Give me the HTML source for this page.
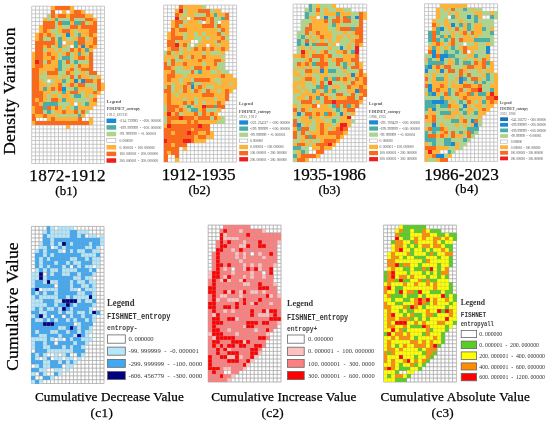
<!DOCTYPE html>
<html><head><meta charset="utf-8"><style>
html,body{margin:0;padding:0;background:#fff;}
body{width:550px;height:422px;overflow:hidden;}
svg{display:block;filter:blur(0.35px);}
</style></head><body>
<svg width="550" height="422" viewBox="0 0 550 422">
<rect width="550" height="422" fill="#fff"/>
<path d="M31.70 6.20V163.50M35.53 6.20V163.50M39.36 6.20V163.50M43.19 6.20V163.50M47.03 6.20V163.50M50.86 6.20V163.50M54.69 6.20V163.50M58.52 6.20V163.50M62.35 6.20V163.50M66.18 6.20V163.50M70.02 6.20V163.50M73.85 6.20V163.50M77.68 6.20V163.50M81.51 6.20V163.50M85.34 6.20V163.50M89.17 6.20V163.50M93.01 6.20V163.50M96.84 6.20V163.50M100.67 6.20V163.50M104.50 6.20V163.50M31.70 6.20H104.50M31.70 10.04H104.50M31.70 13.87H104.50M31.70 17.71H104.50M31.70 21.55H104.50M31.70 25.38H104.50M31.70 29.22H104.50M31.70 33.06H104.50M31.70 36.89H104.50M31.70 40.73H104.50M31.70 44.57H104.50M31.70 48.40H104.50M31.70 52.24H104.50M31.70 56.08H104.50M31.70 59.91H104.50M31.70 63.75H104.50M31.70 67.59H104.50M31.70 71.42H104.50M31.70 75.26H104.50M31.70 79.10H104.50M31.70 82.93H104.50M31.70 86.77H104.50M31.70 90.60H104.50M31.70 94.44H104.50M31.70 98.28H104.50M31.70 102.11H104.50M31.70 105.95H104.50M31.70 109.79H104.50M31.70 113.62H104.50M31.70 117.46H104.50M31.70 121.30H104.50M31.70 125.13H104.50M31.70 128.97H104.50M31.70 132.81H104.50M31.70 136.64H104.50M31.70 140.48H104.50M31.70 144.32H104.50M31.70 148.15H104.50M31.70 151.99H104.50M31.70 155.83H104.50M31.70 159.66H104.50M31.70 163.50H104.50" stroke="#b8b8b8" stroke-width="0.75" fill="none"/>
<g shape-rendering="crispEdges">
<rect x="50.8" y="6.1" width="4.0" height="4.0" fill="#fdb23a"/>
<rect x="54.6" y="6.1" width="15.5" height="4.0" fill="#f86a1e"/>
<rect x="69.9" y="6.1" width="4.0" height="4.0" fill="#fdb23a"/>
<rect x="50.8" y="9.9" width="4.0" height="4.0" fill="#f86a1e"/>
<rect x="62.3" y="9.9" width="4.0" height="4.0" fill="#fdb23a"/>
<rect x="69.9" y="9.9" width="4.0" height="4.0" fill="#fdb23a"/>
<rect x="73.7" y="9.9" width="7.9" height="4.0" fill="#f86a1e"/>
<rect x="81.4" y="9.9" width="4.0" height="4.0" fill="#fdb23a"/>
<rect x="46.9" y="13.8" width="4.0" height="4.0" fill="#aed38e"/>
<rect x="50.8" y="13.8" width="4.0" height="4.0" fill="#f86a1e"/>
<rect x="54.6" y="13.8" width="4.0" height="4.0" fill="#fdb23a"/>
<rect x="58.4" y="13.8" width="7.9" height="4.0" fill="#f86a1e"/>
<rect x="66.1" y="13.8" width="4.0" height="4.0" fill="#fdb23a"/>
<rect x="69.9" y="13.8" width="15.5" height="4.0" fill="#f86a1e"/>
<rect x="85.2" y="13.8" width="7.9" height="4.0" fill="#fdb23a"/>
<rect x="43.1" y="17.6" width="4.0" height="4.0" fill="#fdb23a"/>
<rect x="46.9" y="17.6" width="4.0" height="4.0" fill="#aed38e"/>
<rect x="50.8" y="17.6" width="4.0" height="4.0" fill="#fdb23a"/>
<rect x="54.6" y="17.6" width="4.0" height="4.0" fill="#4aada8"/>
<rect x="58.4" y="17.6" width="11.7" height="4.0" fill="#aed38e"/>
<rect x="69.9" y="17.6" width="4.0" height="4.0" fill="#f86a1e"/>
<rect x="73.7" y="17.6" width="11.7" height="4.0" fill="#aed38e"/>
<rect x="85.2" y="17.6" width="7.9" height="4.0" fill="#f86a1e"/>
<rect x="92.9" y="17.6" width="4.0" height="4.0" fill="#fdb23a"/>
<rect x="43.1" y="21.4" width="11.7" height="4.0" fill="#f86a1e"/>
<rect x="54.6" y="21.4" width="4.0" height="4.0" fill="#aed38e"/>
<rect x="58.4" y="21.4" width="4.0" height="4.0" fill="#f86a1e"/>
<rect x="62.3" y="21.4" width="7.9" height="4.0" fill="#4aada8"/>
<rect x="69.9" y="21.4" width="4.0" height="4.0" fill="#fdb23a"/>
<rect x="73.7" y="21.4" width="7.9" height="4.0" fill="#4aada8"/>
<rect x="81.4" y="21.4" width="4.0" height="4.0" fill="#f86a1e"/>
<rect x="85.2" y="21.4" width="4.0" height="4.0" fill="#aed38e"/>
<rect x="89.1" y="21.4" width="4.0" height="4.0" fill="#fdb23a"/>
<rect x="92.9" y="21.4" width="4.0" height="4.0" fill="#f86a1e"/>
<rect x="39.3" y="25.3" width="4.0" height="4.0" fill="#fdb23a"/>
<rect x="43.1" y="25.3" width="11.7" height="4.0" fill="#f86a1e"/>
<rect x="54.6" y="25.3" width="4.0" height="4.0" fill="#aed38e"/>
<rect x="58.4" y="25.3" width="4.0" height="4.0" fill="#fdb23a"/>
<rect x="62.3" y="25.3" width="7.9" height="4.0" fill="#aed38e"/>
<rect x="69.9" y="25.3" width="7.9" height="4.0" fill="#f86a1e"/>
<rect x="77.6" y="25.3" width="4.0" height="4.0" fill="#fdb23a"/>
<rect x="81.4" y="25.3" width="15.5" height="4.0" fill="#f86a1e"/>
<rect x="39.3" y="29.1" width="4.0" height="4.0" fill="#fdb23a"/>
<rect x="43.1" y="29.1" width="4.0" height="4.0" fill="#f86a1e"/>
<rect x="46.9" y="29.1" width="4.0" height="4.0" fill="#fdb23a"/>
<rect x="50.8" y="29.1" width="7.9" height="4.0" fill="#aed38e"/>
<rect x="58.4" y="29.1" width="4.0" height="4.0" fill="#fdb23a"/>
<rect x="62.3" y="29.1" width="7.9" height="4.0" fill="#f86a1e"/>
<rect x="69.9" y="29.1" width="4.0" height="4.0" fill="#fdb23a"/>
<rect x="73.7" y="29.1" width="4.0" height="4.0" fill="#aed38e"/>
<rect x="77.6" y="29.1" width="11.7" height="4.0" fill="#fdb23a"/>
<rect x="89.1" y="29.1" width="7.9" height="4.0" fill="#f86a1e"/>
<rect x="35.4" y="33.0" width="4.0" height="4.0" fill="#fdb23a"/>
<rect x="39.3" y="33.0" width="4.0" height="4.0" fill="#f86a1e"/>
<rect x="43.1" y="33.0" width="4.0" height="4.0" fill="#fdb23a"/>
<rect x="46.9" y="33.0" width="4.0" height="4.0" fill="#f86a1e"/>
<rect x="50.8" y="33.0" width="4.0" height="4.0" fill="#fdb23a"/>
<rect x="54.6" y="33.0" width="7.9" height="4.0" fill="#aed38e"/>
<rect x="62.3" y="33.0" width="4.0" height="4.0" fill="#fdb23a"/>
<rect x="66.1" y="33.0" width="4.0" height="4.0" fill="#1a8ad4"/>
<rect x="69.9" y="33.0" width="4.0" height="4.0" fill="#fdb23a"/>
<rect x="73.7" y="33.0" width="4.0" height="4.0" fill="#aed38e"/>
<rect x="77.6" y="33.0" width="4.0" height="4.0" fill="#4aada8"/>
<rect x="81.4" y="33.0" width="7.9" height="4.0" fill="#fdb23a"/>
<rect x="89.1" y="33.0" width="4.0" height="4.0" fill="#f86a1e"/>
<rect x="92.9" y="33.0" width="4.0" height="4.0" fill="#fdb23a"/>
<rect x="35.4" y="36.8" width="4.0" height="4.0" fill="#fdb23a"/>
<rect x="39.3" y="36.8" width="4.0" height="4.0" fill="#f86a1e"/>
<rect x="43.1" y="36.8" width="7.9" height="4.0" fill="#aed38e"/>
<rect x="50.8" y="36.8" width="4.0" height="4.0" fill="#f86a1e"/>
<rect x="54.6" y="36.8" width="4.0" height="4.0" fill="#aed38e"/>
<rect x="58.4" y="36.8" width="4.0" height="4.0" fill="#4aada8"/>
<rect x="62.3" y="36.8" width="4.0" height="4.0" fill="#fdb23a"/>
<rect x="66.1" y="36.8" width="7.9" height="4.0" fill="#aed38e"/>
<rect x="73.7" y="36.8" width="4.0" height="4.0" fill="#fdb23a"/>
<rect x="77.6" y="36.8" width="7.9" height="4.0" fill="#f86a1e"/>
<rect x="85.2" y="36.8" width="4.0" height="4.0" fill="#aed38e"/>
<rect x="89.1" y="36.8" width="4.0" height="4.0" fill="#fdb23a"/>
<rect x="92.9" y="36.8" width="4.0" height="4.0" fill="#f86a1e"/>
<rect x="35.4" y="40.6" width="19.4" height="4.0" fill="#f86a1e"/>
<rect x="54.6" y="40.6" width="4.0" height="4.0" fill="#fdb23a"/>
<rect x="58.4" y="40.6" width="4.0" height="4.0" fill="#4aada8"/>
<rect x="66.1" y="40.6" width="7.9" height="4.0" fill="#fdb23a"/>
<rect x="73.7" y="40.6" width="4.0" height="4.0" fill="#4aada8"/>
<rect x="77.6" y="40.6" width="7.9" height="4.0" fill="#f86a1e"/>
<rect x="85.2" y="40.6" width="7.9" height="4.0" fill="#fdb23a"/>
<rect x="92.9" y="40.6" width="4.0" height="4.0" fill="#f86a1e"/>
<rect x="35.4" y="44.5" width="7.9" height="4.0" fill="#f86a1e"/>
<rect x="43.1" y="44.5" width="4.0" height="4.0" fill="#fdb23a"/>
<rect x="46.9" y="44.5" width="4.0" height="4.0" fill="#f86a1e"/>
<rect x="50.8" y="44.5" width="4.0" height="4.0" fill="#aed38e"/>
<rect x="54.6" y="44.5" width="4.0" height="4.0" fill="#fdb23a"/>
<rect x="58.4" y="44.5" width="4.0" height="4.0" fill="#4aada8"/>
<rect x="62.3" y="44.5" width="4.0" height="4.0" fill="#fdb23a"/>
<rect x="66.1" y="44.5" width="4.0" height="4.0" fill="#aed38e"/>
<rect x="73.7" y="44.5" width="4.0" height="4.0" fill="#4aada8"/>
<rect x="77.6" y="44.5" width="4.0" height="4.0" fill="#fdb23a"/>
<rect x="81.4" y="44.5" width="4.0" height="4.0" fill="#1a8ad4"/>
<rect x="85.2" y="44.5" width="4.0" height="4.0" fill="#fdb23a"/>
<rect x="89.1" y="44.5" width="4.0" height="4.0" fill="#f86a1e"/>
<rect x="92.9" y="44.5" width="4.0" height="4.0" fill="#fdb23a"/>
<rect x="35.4" y="48.3" width="7.9" height="4.0" fill="#f86a1e"/>
<rect x="43.1" y="48.3" width="4.0" height="4.0" fill="#aed38e"/>
<rect x="46.9" y="48.3" width="7.9" height="4.0" fill="#fdb23a"/>
<rect x="54.6" y="48.3" width="4.0" height="4.0" fill="#aed38e"/>
<rect x="58.4" y="48.3" width="4.0" height="4.0" fill="#fdb23a"/>
<rect x="62.3" y="48.3" width="7.9" height="4.0" fill="#aed38e"/>
<rect x="69.9" y="48.3" width="4.0" height="4.0" fill="#f86a1e"/>
<rect x="73.7" y="48.3" width="4.0" height="4.0" fill="#fdb23a"/>
<rect x="77.6" y="48.3" width="4.0" height="4.0" fill="#f86a1e"/>
<rect x="81.4" y="48.3" width="4.0" height="4.0" fill="#fdb23a"/>
<rect x="85.2" y="48.3" width="4.0" height="4.0" fill="#4aada8"/>
<rect x="89.1" y="48.3" width="4.0" height="4.0" fill="#fdb23a"/>
<rect x="31.6" y="52.1" width="4.0" height="4.0" fill="#fdb23a"/>
<rect x="35.4" y="52.1" width="7.9" height="4.0" fill="#f86a1e"/>
<rect x="43.1" y="52.1" width="4.0" height="4.0" fill="#fdb23a"/>
<rect x="46.9" y="52.1" width="4.0" height="4.0" fill="#f86a1e"/>
<rect x="50.8" y="52.1" width="7.9" height="4.0" fill="#fdb23a"/>
<rect x="58.4" y="52.1" width="4.0" height="4.0" fill="#aed38e"/>
<rect x="62.3" y="52.1" width="4.0" height="4.0" fill="#fdb23a"/>
<rect x="66.1" y="52.1" width="4.0" height="4.0" fill="#f86a1e"/>
<rect x="69.9" y="52.1" width="4.0" height="4.0" fill="#aed38e"/>
<rect x="73.7" y="52.1" width="4.0" height="4.0" fill="#fdb23a"/>
<rect x="77.6" y="52.1" width="4.0" height="4.0" fill="#4aada8"/>
<rect x="81.4" y="52.1" width="4.0" height="4.0" fill="#fdb23a"/>
<rect x="85.2" y="52.1" width="4.0" height="4.0" fill="#aed38e"/>
<rect x="89.1" y="52.1" width="4.0" height="4.0" fill="#f86a1e"/>
<rect x="31.6" y="56.0" width="4.0" height="4.0" fill="#fdb23a"/>
<rect x="35.4" y="56.0" width="7.9" height="4.0" fill="#f86a1e"/>
<rect x="43.1" y="56.0" width="7.9" height="4.0" fill="#fdb23a"/>
<rect x="50.8" y="56.0" width="4.0" height="4.0" fill="#f86a1e"/>
<rect x="54.6" y="56.0" width="4.0" height="4.0" fill="#fdb23a"/>
<rect x="58.4" y="56.0" width="4.0" height="4.0" fill="#aed38e"/>
<rect x="62.3" y="56.0" width="7.9" height="4.0" fill="#4aada8"/>
<rect x="69.9" y="56.0" width="4.0" height="4.0" fill="#aed38e"/>
<rect x="73.7" y="56.0" width="4.0" height="4.0" fill="#fdb23a"/>
<rect x="77.6" y="56.0" width="7.9" height="4.0" fill="#f86a1e"/>
<rect x="85.2" y="56.0" width="4.0" height="4.0" fill="#fdb23a"/>
<rect x="89.1" y="56.0" width="4.0" height="4.0" fill="#f86a1e"/>
<rect x="31.6" y="59.8" width="4.0" height="4.0" fill="#fdb23a"/>
<rect x="35.4" y="59.8" width="4.0" height="4.0" fill="#f01e1e"/>
<rect x="39.3" y="59.8" width="4.0" height="4.0" fill="#f86a1e"/>
<rect x="43.1" y="59.8" width="4.0" height="4.0" fill="#aed38e"/>
<rect x="46.9" y="59.8" width="4.0" height="4.0" fill="#f86a1e"/>
<rect x="50.8" y="59.8" width="7.9" height="4.0" fill="#fdb23a"/>
<rect x="58.4" y="59.8" width="4.0" height="4.0" fill="#4aada8"/>
<rect x="62.3" y="59.8" width="4.0" height="4.0" fill="#aed38e"/>
<rect x="66.1" y="59.8" width="4.0" height="4.0" fill="#f86a1e"/>
<rect x="69.9" y="59.8" width="4.0" height="4.0" fill="#aed38e"/>
<rect x="73.7" y="59.8" width="4.0" height="4.0" fill="#4aada8"/>
<rect x="77.6" y="59.8" width="11.7" height="4.0" fill="#aed38e"/>
<rect x="89.1" y="59.8" width="4.0" height="4.0" fill="#f86a1e"/>
<rect x="31.6" y="63.6" width="4.0" height="4.0" fill="#fdb23a"/>
<rect x="35.4" y="63.6" width="7.9" height="4.0" fill="#f86a1e"/>
<rect x="43.1" y="63.6" width="15.5" height="4.0" fill="#fdb23a"/>
<rect x="58.4" y="63.6" width="4.0" height="4.0" fill="#4aada8"/>
<rect x="62.3" y="63.6" width="7.9" height="4.0" fill="#aed38e"/>
<rect x="69.9" y="63.6" width="4.0" height="4.0" fill="#fdb23a"/>
<rect x="73.7" y="63.6" width="4.0" height="4.0" fill="#aed38e"/>
<rect x="77.6" y="63.6" width="4.0" height="4.0" fill="#f86a1e"/>
<rect x="81.4" y="63.6" width="7.9" height="4.0" fill="#fdb23a"/>
<rect x="89.1" y="63.6" width="4.0" height="4.0" fill="#f86a1e"/>
<rect x="31.6" y="67.5" width="7.9" height="4.0" fill="#f86a1e"/>
<rect x="39.3" y="67.5" width="15.5" height="4.0" fill="#fdb23a"/>
<rect x="54.6" y="67.5" width="4.0" height="4.0" fill="#f86a1e"/>
<rect x="58.4" y="67.5" width="4.0" height="4.0" fill="#4aada8"/>
<rect x="62.3" y="67.5" width="4.0" height="4.0" fill="#aed38e"/>
<rect x="66.1" y="67.5" width="4.0" height="4.0" fill="#fdb23a"/>
<rect x="69.9" y="67.5" width="4.0" height="4.0" fill="#f86a1e"/>
<rect x="73.7" y="67.5" width="4.0" height="4.0" fill="#aed38e"/>
<rect x="77.6" y="67.5" width="4.0" height="4.0" fill="#fdb23a"/>
<rect x="81.4" y="67.5" width="11.7" height="4.0" fill="#f86a1e"/>
<rect x="31.6" y="71.3" width="7.9" height="4.0" fill="#f86a1e"/>
<rect x="39.3" y="71.3" width="4.0" height="4.0" fill="#fdb23a"/>
<rect x="43.1" y="71.3" width="4.0" height="4.0" fill="#aed38e"/>
<rect x="46.9" y="71.3" width="11.7" height="4.0" fill="#f86a1e"/>
<rect x="58.4" y="71.3" width="7.9" height="4.0" fill="#aed38e"/>
<rect x="66.1" y="71.3" width="4.0" height="4.0" fill="#f86a1e"/>
<rect x="69.9" y="71.3" width="4.0" height="4.0" fill="#fdb23a"/>
<rect x="73.7" y="71.3" width="7.9" height="4.0" fill="#aed38e"/>
<rect x="81.4" y="71.3" width="4.0" height="4.0" fill="#fdb23a"/>
<rect x="85.2" y="71.3" width="4.0" height="4.0" fill="#aed38e"/>
<rect x="89.1" y="71.3" width="7.9" height="4.0" fill="#f86a1e"/>
<rect x="31.6" y="75.2" width="7.9" height="4.0" fill="#f86a1e"/>
<rect x="39.3" y="75.2" width="7.9" height="4.0" fill="#aed38e"/>
<rect x="46.9" y="75.2" width="11.7" height="4.0" fill="#fdb23a"/>
<rect x="58.4" y="75.2" width="4.0" height="4.0" fill="#aed38e"/>
<rect x="62.3" y="75.2" width="4.0" height="4.0" fill="#fdb23a"/>
<rect x="66.1" y="75.2" width="4.0" height="4.0" fill="#aed38e"/>
<rect x="69.9" y="75.2" width="4.0" height="4.0" fill="#f86a1e"/>
<rect x="73.7" y="75.2" width="4.0" height="4.0" fill="#aed38e"/>
<rect x="77.6" y="75.2" width="4.0" height="4.0" fill="#f86a1e"/>
<rect x="81.4" y="75.2" width="7.9" height="4.0" fill="#fdb23a"/>
<rect x="89.1" y="75.2" width="7.9" height="4.0" fill="#aed38e"/>
<rect x="96.7" y="75.2" width="4.0" height="4.0" fill="#fdb23a"/>
<rect x="31.6" y="79.0" width="7.9" height="4.0" fill="#f86a1e"/>
<rect x="39.3" y="79.0" width="4.0" height="4.0" fill="#fdb23a"/>
<rect x="43.1" y="79.0" width="4.0" height="4.0" fill="#aed38e"/>
<rect x="50.8" y="79.0" width="4.0" height="4.0" fill="#aed38e"/>
<rect x="54.6" y="79.0" width="7.9" height="4.0" fill="#fdb23a"/>
<rect x="62.3" y="79.0" width="4.0" height="4.0" fill="#4aada8"/>
<rect x="66.1" y="79.0" width="4.0" height="4.0" fill="#aed38e"/>
<rect x="69.9" y="79.0" width="4.0" height="4.0" fill="#fdb23a"/>
<rect x="73.7" y="79.0" width="4.0" height="4.0" fill="#1a8ad4"/>
<rect x="77.6" y="79.0" width="4.0" height="4.0" fill="#aed38e"/>
<rect x="81.4" y="79.0" width="4.0" height="4.0" fill="#1a8ad4"/>
<rect x="85.2" y="79.0" width="7.9" height="4.0" fill="#f86a1e"/>
<rect x="92.9" y="79.0" width="4.0" height="4.0" fill="#fdb23a"/>
<rect x="96.7" y="79.0" width="4.0" height="4.0" fill="#f86a1e"/>
<rect x="31.6" y="82.8" width="7.9" height="4.0" fill="#f86a1e"/>
<rect x="39.3" y="82.8" width="7.9" height="4.0" fill="#fdb23a"/>
<rect x="46.9" y="82.8" width="4.0" height="4.0" fill="#aed38e"/>
<rect x="50.8" y="82.8" width="7.9" height="4.0" fill="#fdb23a"/>
<rect x="58.4" y="82.8" width="4.0" height="4.0" fill="#f86a1e"/>
<rect x="62.3" y="82.8" width="4.0" height="4.0" fill="#aed38e"/>
<rect x="66.1" y="82.8" width="4.0" height="4.0" fill="#fdb23a"/>
<rect x="69.9" y="82.8" width="4.0" height="4.0" fill="#f86a1e"/>
<rect x="73.7" y="82.8" width="4.0" height="4.0" fill="#fdb23a"/>
<rect x="77.6" y="82.8" width="7.9" height="4.0" fill="#f86a1e"/>
<rect x="85.2" y="82.8" width="11.7" height="4.0" fill="#aed38e"/>
<rect x="96.7" y="82.8" width="4.0" height="4.0" fill="#f86a1e"/>
<rect x="100.6" y="82.8" width="4.0" height="4.0" fill="#fdb23a"/>
<rect x="31.6" y="86.7" width="7.9" height="4.0" fill="#f86a1e"/>
<rect x="39.3" y="86.7" width="4.0" height="4.0" fill="#fdb23a"/>
<rect x="43.1" y="86.7" width="4.0" height="4.0" fill="#4aada8"/>
<rect x="46.9" y="86.7" width="4.0" height="4.0" fill="#fdb23a"/>
<rect x="50.8" y="86.7" width="4.0" height="4.0" fill="#f86a1e"/>
<rect x="54.6" y="86.7" width="4.0" height="4.0" fill="#fdb23a"/>
<rect x="58.4" y="86.7" width="4.0" height="4.0" fill="#f86a1e"/>
<rect x="62.3" y="86.7" width="4.0" height="4.0" fill="#1a8ad4"/>
<rect x="66.1" y="86.7" width="7.9" height="4.0" fill="#aed38e"/>
<rect x="73.7" y="86.7" width="4.0" height="4.0" fill="#4aada8"/>
<rect x="77.6" y="86.7" width="15.5" height="4.0" fill="#fdb23a"/>
<rect x="92.9" y="86.7" width="4.0" height="4.0" fill="#aed38e"/>
<rect x="96.7" y="86.7" width="4.0" height="4.0" fill="#f86a1e"/>
<rect x="100.6" y="86.7" width="4.0" height="4.0" fill="#fdb23a"/>
<rect x="31.6" y="90.5" width="11.7" height="4.0" fill="#f86a1e"/>
<rect x="43.1" y="90.5" width="7.9" height="4.0" fill="#fdb23a"/>
<rect x="50.8" y="90.5" width="7.9" height="4.0" fill="#aed38e"/>
<rect x="58.4" y="90.5" width="4.0" height="4.0" fill="#fdb23a"/>
<rect x="62.3" y="90.5" width="4.0" height="4.0" fill="#4aada8"/>
<rect x="66.1" y="90.5" width="4.0" height="4.0" fill="#fdb23a"/>
<rect x="69.9" y="90.5" width="7.9" height="4.0" fill="#f86a1e"/>
<rect x="77.6" y="90.5" width="4.0" height="4.0" fill="#fdb23a"/>
<rect x="81.4" y="90.5" width="4.0" height="4.0" fill="#aed38e"/>
<rect x="85.2" y="90.5" width="7.9" height="4.0" fill="#fdb23a"/>
<rect x="92.9" y="90.5" width="4.0" height="4.0" fill="#f86a1e"/>
<rect x="96.7" y="90.5" width="4.0" height="4.0" fill="#fdb23a"/>
<rect x="31.6" y="94.3" width="11.7" height="4.0" fill="#f86a1e"/>
<rect x="43.1" y="94.3" width="4.0" height="4.0" fill="#fdb23a"/>
<rect x="46.9" y="94.3" width="4.0" height="4.0" fill="#aed38e"/>
<rect x="50.8" y="94.3" width="7.9" height="4.0" fill="#fdb23a"/>
<rect x="58.4" y="94.3" width="4.0" height="4.0" fill="#aed38e"/>
<rect x="62.3" y="94.3" width="7.9" height="4.0" fill="#fdb23a"/>
<rect x="69.9" y="94.3" width="4.0" height="4.0" fill="#aed38e"/>
<rect x="73.7" y="94.3" width="7.9" height="4.0" fill="#4aada8"/>
<rect x="81.4" y="94.3" width="4.0" height="4.0" fill="#aed38e"/>
<rect x="85.2" y="94.3" width="4.0" height="4.0" fill="#fdb23a"/>
<rect x="89.1" y="94.3" width="4.0" height="4.0" fill="#aed38e"/>
<rect x="92.9" y="94.3" width="4.0" height="4.0" fill="#fdb23a"/>
<rect x="31.6" y="98.2" width="4.0" height="4.0" fill="#f86a1e"/>
<rect x="35.4" y="98.2" width="4.0" height="4.0" fill="#fdb23a"/>
<rect x="39.3" y="98.2" width="4.0" height="4.0" fill="#f86a1e"/>
<rect x="43.1" y="98.2" width="4.0" height="4.0" fill="#fdb23a"/>
<rect x="46.9" y="98.2" width="4.0" height="4.0" fill="#aed38e"/>
<rect x="50.8" y="98.2" width="7.9" height="4.0" fill="#f86a1e"/>
<rect x="58.4" y="98.2" width="4.0" height="4.0" fill="#fdb23a"/>
<rect x="62.3" y="98.2" width="4.0" height="4.0" fill="#4aada8"/>
<rect x="66.1" y="98.2" width="7.9" height="4.0" fill="#fdb23a"/>
<rect x="73.7" y="98.2" width="15.5" height="4.0" fill="#aed38e"/>
<rect x="89.1" y="98.2" width="4.0" height="4.0" fill="#fdb23a"/>
<rect x="92.9" y="98.2" width="4.0" height="4.0" fill="#f86a1e"/>
<rect x="31.6" y="102.0" width="7.9" height="4.0" fill="#f86a1e"/>
<rect x="39.3" y="102.0" width="4.0" height="4.0" fill="#fdb23a"/>
<rect x="43.1" y="102.0" width="15.5" height="4.0" fill="#4aada8"/>
<rect x="58.4" y="102.0" width="11.7" height="4.0" fill="#aed38e"/>
<rect x="69.9" y="102.0" width="4.0" height="4.0" fill="#fdb23a"/>
<rect x="77.6" y="102.0" width="4.0" height="4.0" fill="#fdb23a"/>
<rect x="81.4" y="102.0" width="4.0" height="4.0" fill="#aed38e"/>
<rect x="85.2" y="102.0" width="4.0" height="4.0" fill="#4aada8"/>
<rect x="89.1" y="102.0" width="7.9" height="4.0" fill="#fdb23a"/>
<rect x="31.6" y="105.9" width="4.0" height="4.0" fill="#fdb23a"/>
<rect x="35.4" y="105.9" width="7.9" height="4.0" fill="#f86a1e"/>
<rect x="43.1" y="105.9" width="4.0" height="4.0" fill="#4aada8"/>
<rect x="46.9" y="105.9" width="4.0" height="4.0" fill="#f86a1e"/>
<rect x="50.8" y="105.9" width="4.0" height="4.0" fill="#fdb23a"/>
<rect x="54.6" y="105.9" width="4.0" height="4.0" fill="#f86a1e"/>
<rect x="58.4" y="105.9" width="4.0" height="4.0" fill="#fdb23a"/>
<rect x="62.3" y="105.9" width="4.0" height="4.0" fill="#aed38e"/>
<rect x="66.1" y="105.9" width="4.0" height="4.0" fill="#fdb23a"/>
<rect x="69.9" y="105.9" width="4.0" height="4.0" fill="#aed38e"/>
<rect x="73.7" y="105.9" width="4.0" height="4.0" fill="#4aada8"/>
<rect x="77.6" y="105.9" width="15.5" height="4.0" fill="#fdb23a"/>
<rect x="31.6" y="109.7" width="4.0" height="4.0" fill="#fdb23a"/>
<rect x="35.4" y="109.7" width="7.9" height="4.0" fill="#f86a1e"/>
<rect x="43.1" y="109.7" width="4.0" height="4.0" fill="#aed38e"/>
<rect x="46.9" y="109.7" width="4.0" height="4.0" fill="#4aada8"/>
<rect x="50.8" y="109.7" width="4.0" height="4.0" fill="#aed38e"/>
<rect x="54.6" y="109.7" width="7.9" height="4.0" fill="#fdb23a"/>
<rect x="62.3" y="109.7" width="4.0" height="4.0" fill="#f86a1e"/>
<rect x="66.1" y="109.7" width="7.9" height="4.0" fill="#fdb23a"/>
<rect x="73.7" y="109.7" width="4.0" height="4.0" fill="#f86a1e"/>
<rect x="77.6" y="109.7" width="4.0" height="4.0" fill="#aed38e"/>
<rect x="81.4" y="109.7" width="4.0" height="4.0" fill="#f86a1e"/>
<rect x="85.2" y="109.7" width="4.0" height="4.0" fill="#aed38e"/>
<rect x="31.6" y="113.5" width="4.0" height="4.0" fill="#f86a1e"/>
<rect x="35.4" y="113.5" width="7.9" height="4.0" fill="#fdb23a"/>
<rect x="43.1" y="113.5" width="4.0" height="4.0" fill="#f86a1e"/>
<rect x="46.9" y="113.5" width="7.9" height="4.0" fill="#fdb23a"/>
<rect x="54.6" y="113.5" width="23.2" height="4.0" fill="#aed38e"/>
<rect x="77.6" y="113.5" width="4.0" height="4.0" fill="#4aada8"/>
<rect x="81.4" y="113.5" width="4.0" height="4.0" fill="#fdb23a"/>
<rect x="31.6" y="117.4" width="4.0" height="4.0" fill="#f86a1e"/>
<rect x="46.9" y="117.4" width="4.0" height="4.0" fill="#fdb23a"/>
<rect x="50.8" y="117.4" width="4.0" height="4.0" fill="#f86a1e"/>
<rect x="54.6" y="117.4" width="23.2" height="4.0" fill="#fdb23a"/>
<rect x="77.6" y="117.4" width="4.0" height="4.0" fill="#f86a1e"/>
<rect x="89.1" y="117.4" width="4.0" height="4.0" fill="#fdb23a"/>
<rect x="31.6" y="121.2" width="4.0" height="4.0" fill="#fdb23a"/>
<rect x="35.4" y="121.2" width="53.8" height="4.0" fill="#f86a1e"/>
<rect x="89.1" y="121.2" width="4.0" height="4.0" fill="#fdb23a"/>
<rect x="66.1" y="125.0" width="4.0" height="4.0" fill="#fdb23a"/>
</g>
<path d="M163.70 5.10V162.10M167.54 5.10V162.10M171.37 5.10V162.10M175.21 5.10V162.10M179.05 5.10V162.10M182.88 5.10V162.10M186.72 5.10V162.10M190.56 5.10V162.10M194.39 5.10V162.10M198.23 5.10V162.10M202.07 5.10V162.10M205.91 5.10V162.10M209.74 5.10V162.10M213.58 5.10V162.10M217.42 5.10V162.10M221.25 5.10V162.10M225.09 5.10V162.10M228.93 5.10V162.10M232.76 5.10V162.10M236.60 5.10V162.10M163.70 5.10H236.60M163.70 8.93H236.60M163.70 12.76H236.60M163.70 16.59H236.60M163.70 20.42H236.60M163.70 24.25H236.60M163.70 28.08H236.60M163.70 31.90H236.60M163.70 35.73H236.60M163.70 39.56H236.60M163.70 43.39H236.60M163.70 47.22H236.60M163.70 51.05H236.60M163.70 54.88H236.60M163.70 58.71H236.60M163.70 62.54H236.60M163.70 66.37H236.60M163.70 70.20H236.60M163.70 74.03H236.60M163.70 77.86H236.60M163.70 81.69H236.60M163.70 85.51H236.60M163.70 89.34H236.60M163.70 93.17H236.60M163.70 97.00H236.60M163.70 100.83H236.60M163.70 104.66H236.60M163.70 108.49H236.60M163.70 112.32H236.60M163.70 116.15H236.60M163.70 119.98H236.60M163.70 123.81H236.60M163.70 127.64H236.60M163.70 131.47H236.60M163.70 135.30H236.60M163.70 139.12H236.60M163.70 142.95H236.60M163.70 146.78H236.60M163.70 150.61H236.60M163.70 154.44H236.60M163.70 158.27H236.60M163.70 162.10H236.60" stroke="#b8b8b8" stroke-width="0.75" fill="none"/>
<g shape-rendering="crispEdges">
<rect x="178.9" y="5.0" width="4.0" height="4.0" fill="#f86a1e"/>
<rect x="182.8" y="5.0" width="19.4" height="4.0" fill="#fdb23a"/>
<rect x="202.0" y="5.0" width="4.0" height="4.0" fill="#aed38e"/>
<rect x="175.1" y="8.8" width="4.0" height="4.0" fill="#fdb23a"/>
<rect x="178.9" y="8.8" width="4.0" height="4.0" fill="#f01e1e"/>
<rect x="182.8" y="8.8" width="4.0" height="4.0" fill="#aed38e"/>
<rect x="186.6" y="8.8" width="11.7" height="4.0" fill="#fdb23a"/>
<rect x="198.1" y="8.8" width="11.7" height="4.0" fill="#f86a1e"/>
<rect x="209.6" y="8.8" width="4.0" height="4.0" fill="#aed38e"/>
<rect x="213.5" y="8.8" width="7.9" height="4.0" fill="#fdb23a"/>
<rect x="175.1" y="12.7" width="4.0" height="4.0" fill="#f86a1e"/>
<rect x="178.9" y="12.7" width="4.0" height="4.0" fill="#fdb23a"/>
<rect x="182.8" y="12.7" width="4.0" height="4.0" fill="#aed38e"/>
<rect x="186.6" y="12.7" width="7.9" height="4.0" fill="#fdb23a"/>
<rect x="194.3" y="12.7" width="11.7" height="4.0" fill="#aed38e"/>
<rect x="205.8" y="12.7" width="4.0" height="4.0" fill="#f86a1e"/>
<rect x="209.6" y="12.7" width="4.0" height="4.0" fill="#fdb23a"/>
<rect x="213.5" y="12.7" width="4.0" height="4.0" fill="#4aada8"/>
<rect x="217.3" y="12.7" width="7.9" height="4.0" fill="#fdb23a"/>
<rect x="225.0" y="12.7" width="4.0" height="4.0" fill="#f86a1e"/>
<rect x="175.1" y="16.5" width="4.0" height="4.0" fill="#f01e1e"/>
<rect x="178.9" y="16.5" width="4.0" height="4.0" fill="#aed38e"/>
<rect x="182.8" y="16.5" width="4.0" height="4.0" fill="#fdb23a"/>
<rect x="190.5" y="16.5" width="4.0" height="4.0" fill="#fdb23a"/>
<rect x="194.3" y="16.5" width="11.7" height="4.0" fill="#f86a1e"/>
<rect x="205.8" y="16.5" width="4.0" height="4.0" fill="#fdb23a"/>
<rect x="209.6" y="16.5" width="4.0" height="4.0" fill="#f86a1e"/>
<rect x="213.5" y="16.5" width="7.9" height="4.0" fill="#aed38e"/>
<rect x="221.2" y="16.5" width="4.0" height="4.0" fill="#4aada8"/>
<rect x="225.0" y="16.5" width="4.0" height="4.0" fill="#f86a1e"/>
<rect x="171.3" y="20.3" width="4.0" height="4.0" fill="#fdb23a"/>
<rect x="175.1" y="20.3" width="7.9" height="4.0" fill="#f86a1e"/>
<rect x="182.8" y="20.3" width="4.0" height="4.0" fill="#aed38e"/>
<rect x="186.6" y="20.3" width="11.7" height="4.0" fill="#fdb23a"/>
<rect x="198.1" y="20.3" width="4.0" height="4.0" fill="#aed38e"/>
<rect x="205.8" y="20.3" width="4.0" height="4.0" fill="#fdb23a"/>
<rect x="209.6" y="20.3" width="4.0" height="4.0" fill="#f86a1e"/>
<rect x="213.5" y="20.3" width="4.0" height="4.0" fill="#aed38e"/>
<rect x="221.2" y="20.3" width="7.9" height="4.0" fill="#fdb23a"/>
<rect x="171.3" y="24.1" width="4.0" height="4.0" fill="#fdb23a"/>
<rect x="175.1" y="24.1" width="4.0" height="4.0" fill="#f86a1e"/>
<rect x="178.9" y="24.1" width="4.0" height="4.0" fill="#aed38e"/>
<rect x="182.8" y="24.1" width="19.4" height="4.0" fill="#fdb23a"/>
<rect x="202.0" y="24.1" width="11.7" height="4.0" fill="#f86a1e"/>
<rect x="213.5" y="24.1" width="4.0" height="4.0" fill="#aed38e"/>
<rect x="217.3" y="24.1" width="4.0" height="4.0" fill="#f86a1e"/>
<rect x="221.2" y="24.1" width="7.9" height="4.0" fill="#fdb23a"/>
<rect x="171.3" y="28.0" width="4.0" height="4.0" fill="#f86a1e"/>
<rect x="175.1" y="28.0" width="4.0" height="4.0" fill="#fdb23a"/>
<rect x="178.9" y="28.0" width="7.9" height="4.0" fill="#f86a1e"/>
<rect x="186.6" y="28.0" width="30.9" height="4.0" fill="#fdb23a"/>
<rect x="217.3" y="28.0" width="4.0" height="4.0" fill="#aed38e"/>
<rect x="221.2" y="28.0" width="4.0" height="4.0" fill="#f86a1e"/>
<rect x="225.0" y="28.0" width="4.0" height="4.0" fill="#fdb23a"/>
<rect x="167.4" y="31.8" width="4.0" height="4.0" fill="#fdb23a"/>
<rect x="171.3" y="31.8" width="4.0" height="4.0" fill="#f86a1e"/>
<rect x="175.1" y="31.8" width="7.9" height="4.0" fill="#fdb23a"/>
<rect x="182.8" y="31.8" width="4.0" height="4.0" fill="#aed38e"/>
<rect x="186.6" y="31.8" width="7.9" height="4.0" fill="#fdb23a"/>
<rect x="194.3" y="31.8" width="4.0" height="4.0" fill="#aed38e"/>
<rect x="198.1" y="31.8" width="4.0" height="4.0" fill="#fdb23a"/>
<rect x="202.0" y="31.8" width="4.0" height="4.0" fill="#aed38e"/>
<rect x="205.8" y="31.8" width="11.7" height="4.0" fill="#fdb23a"/>
<rect x="217.3" y="31.8" width="4.0" height="4.0" fill="#f86a1e"/>
<rect x="221.2" y="31.8" width="4.0" height="4.0" fill="#aed38e"/>
<rect x="225.0" y="31.8" width="4.0" height="4.0" fill="#fdb23a"/>
<rect x="167.4" y="35.6" width="4.0" height="4.0" fill="#fdb23a"/>
<rect x="171.3" y="35.6" width="11.7" height="4.0" fill="#f86a1e"/>
<rect x="182.8" y="35.6" width="4.0" height="4.0" fill="#aed38e"/>
<rect x="186.6" y="35.6" width="7.9" height="4.0" fill="#fdb23a"/>
<rect x="194.3" y="35.6" width="7.9" height="4.0" fill="#aed38e"/>
<rect x="202.0" y="35.6" width="4.0" height="4.0" fill="#fdb23a"/>
<rect x="205.8" y="35.6" width="4.0" height="4.0" fill="#aed38e"/>
<rect x="209.6" y="35.6" width="11.7" height="4.0" fill="#fdb23a"/>
<rect x="221.2" y="35.6" width="4.0" height="4.0" fill="#f86a1e"/>
<rect x="225.0" y="35.6" width="4.0" height="4.0" fill="#aed38e"/>
<rect x="167.4" y="39.5" width="7.9" height="4.0" fill="#f86a1e"/>
<rect x="175.1" y="39.5" width="4.0" height="4.0" fill="#aed38e"/>
<rect x="178.9" y="39.5" width="11.7" height="4.0" fill="#fdb23a"/>
<rect x="198.1" y="39.5" width="4.0" height="4.0" fill="#aed38e"/>
<rect x="202.0" y="39.5" width="11.7" height="4.0" fill="#fdb23a"/>
<rect x="213.5" y="39.5" width="4.0" height="4.0" fill="#aed38e"/>
<rect x="217.3" y="39.5" width="4.0" height="4.0" fill="#f86a1e"/>
<rect x="221.2" y="39.5" width="7.9" height="4.0" fill="#fdb23a"/>
<rect x="167.4" y="43.3" width="7.9" height="4.0" fill="#f86a1e"/>
<rect x="175.1" y="43.3" width="4.0" height="4.0" fill="#f01e1e"/>
<rect x="178.9" y="43.3" width="4.0" height="4.0" fill="#fdb23a"/>
<rect x="182.8" y="43.3" width="4.0" height="4.0" fill="#f86a1e"/>
<rect x="186.6" y="43.3" width="4.0" height="4.0" fill="#aed38e"/>
<rect x="194.3" y="43.3" width="4.0" height="4.0" fill="#aed38e"/>
<rect x="198.1" y="43.3" width="7.9" height="4.0" fill="#fdb23a"/>
<rect x="209.6" y="43.3" width="7.9" height="4.0" fill="#fdb23a"/>
<rect x="217.3" y="43.3" width="4.0" height="4.0" fill="#aed38e"/>
<rect x="221.2" y="43.3" width="7.9" height="4.0" fill="#fdb23a"/>
<rect x="167.4" y="47.1" width="4.0" height="4.0" fill="#fdb23a"/>
<rect x="171.3" y="47.1" width="7.9" height="4.0" fill="#f86a1e"/>
<rect x="178.9" y="47.1" width="4.0" height="4.0" fill="#aed38e"/>
<rect x="182.8" y="47.1" width="4.0" height="4.0" fill="#fdb23a"/>
<rect x="186.6" y="47.1" width="4.0" height="4.0" fill="#aed38e"/>
<rect x="190.5" y="47.1" width="4.0" height="4.0" fill="#fdb23a"/>
<rect x="194.3" y="47.1" width="4.0" height="4.0" fill="#f86a1e"/>
<rect x="198.1" y="47.1" width="4.0" height="4.0" fill="#fdb23a"/>
<rect x="202.0" y="47.1" width="4.0" height="4.0" fill="#f86a1e"/>
<rect x="205.8" y="47.1" width="4.0" height="4.0" fill="#fdb23a"/>
<rect x="209.6" y="47.1" width="4.0" height="4.0" fill="#f86a1e"/>
<rect x="213.5" y="47.1" width="7.9" height="4.0" fill="#fdb23a"/>
<rect x="221.2" y="47.1" width="4.0" height="4.0" fill="#f86a1e"/>
<rect x="225.0" y="47.1" width="4.0" height="4.0" fill="#fdb23a"/>
<rect x="163.6" y="51.0" width="4.0" height="4.0" fill="#aed38e"/>
<rect x="167.4" y="51.0" width="4.0" height="4.0" fill="#f86a1e"/>
<rect x="171.3" y="51.0" width="4.0" height="4.0" fill="#aed38e"/>
<rect x="175.1" y="51.0" width="4.0" height="4.0" fill="#fdb23a"/>
<rect x="178.9" y="51.0" width="4.0" height="4.0" fill="#aed38e"/>
<rect x="182.8" y="51.0" width="19.4" height="4.0" fill="#fdb23a"/>
<rect x="202.0" y="51.0" width="4.0" height="4.0" fill="#aed38e"/>
<rect x="205.8" y="51.0" width="4.0" height="4.0" fill="#fdb23a"/>
<rect x="209.6" y="51.0" width="11.7" height="4.0" fill="#aed38e"/>
<rect x="221.2" y="51.0" width="4.0" height="4.0" fill="#fdb23a"/>
<rect x="163.6" y="54.8" width="11.7" height="4.0" fill="#fdb23a"/>
<rect x="175.1" y="54.8" width="4.0" height="4.0" fill="#aed38e"/>
<rect x="178.9" y="54.8" width="4.0" height="4.0" fill="#f86a1e"/>
<rect x="182.8" y="54.8" width="4.0" height="4.0" fill="#fdb23a"/>
<rect x="186.6" y="54.8" width="4.0" height="4.0" fill="#aed38e"/>
<rect x="190.5" y="54.8" width="4.0" height="4.0" fill="#f86a1e"/>
<rect x="194.3" y="54.8" width="7.9" height="4.0" fill="#fdb23a"/>
<rect x="202.0" y="54.8" width="4.0" height="4.0" fill="#f86a1e"/>
<rect x="205.8" y="54.8" width="15.5" height="4.0" fill="#fdb23a"/>
<rect x="221.2" y="54.8" width="4.0" height="4.0" fill="#aed38e"/>
<rect x="163.6" y="58.6" width="4.0" height="4.0" fill="#fdb23a"/>
<rect x="167.4" y="58.6" width="4.0" height="4.0" fill="#aed38e"/>
<rect x="171.3" y="58.6" width="4.0" height="4.0" fill="#f86a1e"/>
<rect x="175.1" y="58.6" width="7.9" height="4.0" fill="#aed38e"/>
<rect x="182.8" y="58.6" width="15.5" height="4.0" fill="#fdb23a"/>
<rect x="198.1" y="58.6" width="4.0" height="4.0" fill="#f86a1e"/>
<rect x="202.0" y="58.6" width="11.7" height="4.0" fill="#fdb23a"/>
<rect x="213.5" y="58.6" width="7.9" height="4.0" fill="#f86a1e"/>
<rect x="221.2" y="58.6" width="4.0" height="4.0" fill="#fdb23a"/>
<rect x="163.6" y="62.4" width="4.0" height="4.0" fill="#f86a1e"/>
<rect x="167.4" y="62.4" width="4.0" height="4.0" fill="#aed38e"/>
<rect x="171.3" y="62.4" width="4.0" height="4.0" fill="#f86a1e"/>
<rect x="175.1" y="62.4" width="7.9" height="4.0" fill="#fdb23a"/>
<rect x="182.8" y="62.4" width="4.0" height="4.0" fill="#f86a1e"/>
<rect x="186.6" y="62.4" width="15.5" height="4.0" fill="#fdb23a"/>
<rect x="202.0" y="62.4" width="4.0" height="4.0" fill="#aed38e"/>
<rect x="205.8" y="62.4" width="7.9" height="4.0" fill="#fdb23a"/>
<rect x="213.5" y="62.4" width="4.0" height="4.0" fill="#f86a1e"/>
<rect x="217.3" y="62.4" width="7.9" height="4.0" fill="#aed38e"/>
<rect x="163.6" y="66.3" width="7.9" height="4.0" fill="#f86a1e"/>
<rect x="171.3" y="66.3" width="4.0" height="4.0" fill="#fdb23a"/>
<rect x="175.1" y="66.3" width="7.9" height="4.0" fill="#aed38e"/>
<rect x="182.8" y="66.3" width="7.9" height="4.0" fill="#fdb23a"/>
<rect x="190.5" y="66.3" width="4.0" height="4.0" fill="#aed38e"/>
<rect x="194.3" y="66.3" width="7.9" height="4.0" fill="#f86a1e"/>
<rect x="202.0" y="66.3" width="4.0" height="4.0" fill="#fdb23a"/>
<rect x="205.8" y="66.3" width="4.0" height="4.0" fill="#f86a1e"/>
<rect x="209.6" y="66.3" width="7.9" height="4.0" fill="#fdb23a"/>
<rect x="217.3" y="66.3" width="7.9" height="4.0" fill="#aed38e"/>
<rect x="163.6" y="70.1" width="7.9" height="4.0" fill="#fdb23a"/>
<rect x="171.3" y="70.1" width="4.0" height="4.0" fill="#f86a1e"/>
<rect x="175.1" y="70.1" width="15.5" height="4.0" fill="#aed38e"/>
<rect x="190.5" y="70.1" width="4.0" height="4.0" fill="#f86a1e"/>
<rect x="194.3" y="70.1" width="4.0" height="4.0" fill="#aed38e"/>
<rect x="198.1" y="70.1" width="4.0" height="4.0" fill="#4aada8"/>
<rect x="202.0" y="70.1" width="7.9" height="4.0" fill="#fdb23a"/>
<rect x="209.6" y="70.1" width="7.9" height="4.0" fill="#aed38e"/>
<rect x="217.3" y="70.1" width="4.0" height="4.0" fill="#fdb23a"/>
<rect x="221.2" y="70.1" width="7.9" height="4.0" fill="#aed38e"/>
<rect x="163.6" y="73.9" width="4.0" height="4.0" fill="#fdb23a"/>
<rect x="167.4" y="73.9" width="7.9" height="4.0" fill="#f86a1e"/>
<rect x="175.1" y="73.9" width="7.9" height="4.0" fill="#fdb23a"/>
<rect x="182.8" y="73.9" width="4.0" height="4.0" fill="#aed38e"/>
<rect x="186.6" y="73.9" width="34.7" height="4.0" fill="#fdb23a"/>
<rect x="221.2" y="73.9" width="4.0" height="4.0" fill="#f86a1e"/>
<rect x="225.0" y="73.9" width="7.9" height="4.0" fill="#fdb23a"/>
<rect x="163.6" y="77.8" width="4.0" height="4.0" fill="#fdb23a"/>
<rect x="167.4" y="77.8" width="4.0" height="4.0" fill="#f86a1e"/>
<rect x="171.3" y="77.8" width="7.9" height="4.0" fill="#fdb23a"/>
<rect x="178.9" y="77.8" width="4.0" height="4.0" fill="#aed38e"/>
<rect x="182.8" y="77.8" width="7.9" height="4.0" fill="#fdb23a"/>
<rect x="190.5" y="77.8" width="4.0" height="4.0" fill="#aed38e"/>
<rect x="194.3" y="77.8" width="15.5" height="4.0" fill="#f86a1e"/>
<rect x="209.6" y="77.8" width="4.0" height="4.0" fill="#fdb23a"/>
<rect x="213.5" y="77.8" width="7.9" height="4.0" fill="#aed38e"/>
<rect x="221.2" y="77.8" width="15.5" height="4.0" fill="#fdb23a"/>
<rect x="163.6" y="81.6" width="7.9" height="4.0" fill="#fdb23a"/>
<rect x="171.3" y="81.6" width="4.0" height="4.0" fill="#aed38e"/>
<rect x="175.1" y="81.6" width="4.0" height="4.0" fill="#fdb23a"/>
<rect x="178.9" y="81.6" width="4.0" height="4.0" fill="#aed38e"/>
<rect x="182.8" y="81.6" width="4.0" height="4.0" fill="#fdb23a"/>
<rect x="186.6" y="81.6" width="4.0" height="4.0" fill="#f86a1e"/>
<rect x="190.5" y="81.6" width="4.0" height="4.0" fill="#4aada8"/>
<rect x="194.3" y="81.6" width="7.9" height="4.0" fill="#aed38e"/>
<rect x="202.0" y="81.6" width="15.5" height="4.0" fill="#fdb23a"/>
<rect x="217.3" y="81.6" width="4.0" height="4.0" fill="#aed38e"/>
<rect x="221.2" y="81.6" width="7.9" height="4.0" fill="#fdb23a"/>
<rect x="228.8" y="81.6" width="4.0" height="4.0" fill="#aed38e"/>
<rect x="232.7" y="81.6" width="4.0" height="4.0" fill="#fdb23a"/>
<rect x="163.6" y="85.4" width="4.0" height="4.0" fill="#aed38e"/>
<rect x="167.4" y="85.4" width="4.0" height="4.0" fill="#f86a1e"/>
<rect x="171.3" y="85.4" width="4.0" height="4.0" fill="#aed38e"/>
<rect x="175.1" y="85.4" width="7.9" height="4.0" fill="#fdb23a"/>
<rect x="182.8" y="85.4" width="4.0" height="4.0" fill="#f86a1e"/>
<rect x="186.6" y="85.4" width="4.0" height="4.0" fill="#fdb23a"/>
<rect x="190.5" y="85.4" width="4.0" height="4.0" fill="#1a8ad4"/>
<rect x="194.3" y="85.4" width="4.0" height="4.0" fill="#fdb23a"/>
<rect x="198.1" y="85.4" width="4.0" height="4.0" fill="#f86a1e"/>
<rect x="202.0" y="85.4" width="4.0" height="4.0" fill="#fdb23a"/>
<rect x="205.8" y="85.4" width="7.9" height="4.0" fill="#aed38e"/>
<rect x="213.5" y="85.4" width="23.2" height="4.0" fill="#fdb23a"/>
<rect x="163.6" y="89.2" width="7.9" height="4.0" fill="#f86a1e"/>
<rect x="171.3" y="89.2" width="4.0" height="4.0" fill="#aed38e"/>
<rect x="175.1" y="89.2" width="4.0" height="4.0" fill="#fdb23a"/>
<rect x="178.9" y="89.2" width="4.0" height="4.0" fill="#aed38e"/>
<rect x="182.8" y="89.2" width="4.0" height="4.0" fill="#f86a1e"/>
<rect x="186.6" y="89.2" width="4.0" height="4.0" fill="#fdb23a"/>
<rect x="190.5" y="89.2" width="4.0" height="4.0" fill="#aed38e"/>
<rect x="194.3" y="89.2" width="4.0" height="4.0" fill="#f86a1e"/>
<rect x="198.1" y="89.2" width="4.0" height="4.0" fill="#fdb23a"/>
<rect x="202.0" y="89.2" width="4.0" height="4.0" fill="#aed38e"/>
<rect x="205.8" y="89.2" width="4.0" height="4.0" fill="#f86a1e"/>
<rect x="209.6" y="89.2" width="7.9" height="4.0" fill="#fdb23a"/>
<rect x="217.3" y="89.2" width="4.0" height="4.0" fill="#aed38e"/>
<rect x="221.2" y="89.2" width="4.0" height="4.0" fill="#fdb23a"/>
<rect x="225.0" y="89.2" width="4.0" height="4.0" fill="#f86a1e"/>
<rect x="228.8" y="89.2" width="4.0" height="4.0" fill="#fdb23a"/>
<rect x="163.6" y="93.1" width="4.0" height="4.0" fill="#fdb23a"/>
<rect x="167.4" y="93.1" width="4.0" height="4.0" fill="#f86a1e"/>
<rect x="171.3" y="93.1" width="4.0" height="4.0" fill="#fdb23a"/>
<rect x="175.1" y="93.1" width="4.0" height="4.0" fill="#aed38e"/>
<rect x="178.9" y="93.1" width="23.2" height="4.0" fill="#fdb23a"/>
<rect x="202.0" y="93.1" width="11.7" height="4.0" fill="#f86a1e"/>
<rect x="213.5" y="93.1" width="11.7" height="4.0" fill="#fdb23a"/>
<rect x="225.0" y="93.1" width="4.0" height="4.0" fill="#f86a1e"/>
<rect x="163.6" y="96.9" width="4.0" height="4.0" fill="#fdb23a"/>
<rect x="167.4" y="96.9" width="4.0" height="4.0" fill="#f86a1e"/>
<rect x="171.3" y="96.9" width="11.7" height="4.0" fill="#fdb23a"/>
<rect x="182.8" y="96.9" width="4.0" height="4.0" fill="#aed38e"/>
<rect x="186.6" y="96.9" width="7.9" height="4.0" fill="#fdb23a"/>
<rect x="194.3" y="96.9" width="4.0" height="4.0" fill="#aed38e"/>
<rect x="198.1" y="96.9" width="15.5" height="4.0" fill="#fdb23a"/>
<rect x="213.5" y="96.9" width="4.0" height="4.0" fill="#aed38e"/>
<rect x="217.3" y="96.9" width="7.9" height="4.0" fill="#fdb23a"/>
<rect x="225.0" y="96.9" width="4.0" height="4.0" fill="#f86a1e"/>
<rect x="163.6" y="100.7" width="4.0" height="4.0" fill="#fdb23a"/>
<rect x="167.4" y="100.7" width="4.0" height="4.0" fill="#f86a1e"/>
<rect x="171.3" y="100.7" width="11.7" height="4.0" fill="#fdb23a"/>
<rect x="182.8" y="100.7" width="4.0" height="4.0" fill="#f86a1e"/>
<rect x="186.6" y="100.7" width="4.0" height="4.0" fill="#fdb23a"/>
<rect x="190.5" y="100.7" width="4.0" height="4.0" fill="#f86a1e"/>
<rect x="194.3" y="100.7" width="4.0" height="4.0" fill="#aed38e"/>
<rect x="198.1" y="100.7" width="4.0" height="4.0" fill="#fdb23a"/>
<rect x="202.0" y="100.7" width="4.0" height="4.0" fill="#aed38e"/>
<rect x="205.8" y="100.7" width="11.7" height="4.0" fill="#fdb23a"/>
<rect x="217.3" y="100.7" width="4.0" height="4.0" fill="#f86a1e"/>
<rect x="221.2" y="100.7" width="4.0" height="4.0" fill="#fdb23a"/>
<rect x="163.6" y="104.6" width="4.0" height="4.0" fill="#aed38e"/>
<rect x="167.4" y="104.6" width="11.7" height="4.0" fill="#f86a1e"/>
<rect x="178.9" y="104.6" width="4.0" height="4.0" fill="#fdb23a"/>
<rect x="182.8" y="104.6" width="4.0" height="4.0" fill="#aed38e"/>
<rect x="186.6" y="104.6" width="4.0" height="4.0" fill="#4aada8"/>
<rect x="190.5" y="104.6" width="4.0" height="4.0" fill="#aed38e"/>
<rect x="194.3" y="104.6" width="7.9" height="4.0" fill="#fdb23a"/>
<rect x="202.0" y="104.6" width="4.0" height="4.0" fill="#f01e1e"/>
<rect x="205.8" y="104.6" width="7.9" height="4.0" fill="#f86a1e"/>
<rect x="213.5" y="104.6" width="4.0" height="4.0" fill="#4aada8"/>
<rect x="217.3" y="104.6" width="7.9" height="4.0" fill="#f86a1e"/>
<rect x="163.6" y="108.4" width="4.0" height="4.0" fill="#aed38e"/>
<rect x="167.4" y="108.4" width="7.9" height="4.0" fill="#f86a1e"/>
<rect x="175.1" y="108.4" width="4.0" height="4.0" fill="#fdb23a"/>
<rect x="178.9" y="108.4" width="4.0" height="4.0" fill="#f86a1e"/>
<rect x="182.8" y="108.4" width="4.0" height="4.0" fill="#fdb23a"/>
<rect x="186.6" y="108.4" width="4.0" height="4.0" fill="#aed38e"/>
<rect x="190.5" y="108.4" width="7.9" height="4.0" fill="#4aada8"/>
<rect x="198.1" y="108.4" width="4.0" height="4.0" fill="#fdb23a"/>
<rect x="202.0" y="108.4" width="4.0" height="4.0" fill="#f86a1e"/>
<rect x="205.8" y="108.4" width="11.7" height="4.0" fill="#aed38e"/>
<rect x="217.3" y="108.4" width="4.0" height="4.0" fill="#fdb23a"/>
<rect x="163.6" y="112.2" width="4.0" height="4.0" fill="#fdb23a"/>
<rect x="167.4" y="112.2" width="4.0" height="4.0" fill="#f01e1e"/>
<rect x="171.3" y="112.2" width="4.0" height="4.0" fill="#fdb23a"/>
<rect x="175.1" y="112.2" width="4.0" height="4.0" fill="#f86a1e"/>
<rect x="178.9" y="112.2" width="4.0" height="4.0" fill="#aed38e"/>
<rect x="182.8" y="112.2" width="11.7" height="4.0" fill="#fdb23a"/>
<rect x="194.3" y="112.2" width="4.0" height="4.0" fill="#f86a1e"/>
<rect x="198.1" y="112.2" width="4.0" height="4.0" fill="#aed38e"/>
<rect x="202.0" y="112.2" width="4.0" height="4.0" fill="#f86a1e"/>
<rect x="205.8" y="112.2" width="4.0" height="4.0" fill="#fdb23a"/>
<rect x="209.6" y="112.2" width="4.0" height="4.0" fill="#f86a1e"/>
<rect x="213.5" y="112.2" width="4.0" height="4.0" fill="#fdb23a"/>
<rect x="163.6" y="116.0" width="4.0" height="4.0" fill="#aed38e"/>
<rect x="167.4" y="116.0" width="11.7" height="4.0" fill="#f86a1e"/>
<rect x="178.9" y="116.0" width="4.0" height="4.0" fill="#f01e1e"/>
<rect x="182.8" y="116.0" width="11.7" height="4.0" fill="#f86a1e"/>
<rect x="194.3" y="116.0" width="4.0" height="4.0" fill="#fdb23a"/>
<rect x="198.1" y="116.0" width="11.7" height="4.0" fill="#f86a1e"/>
<rect x="209.6" y="116.0" width="4.0" height="4.0" fill="#aed38e"/>
<rect x="213.5" y="116.0" width="4.0" height="4.0" fill="#f86a1e"/>
<rect x="217.3" y="116.0" width="4.0" height="4.0" fill="#fdb23a"/>
<rect x="221.2" y="116.0" width="4.0" height="4.0" fill="#aed38e"/>
<rect x="163.6" y="119.9" width="4.0" height="4.0" fill="#aed38e"/>
<rect x="167.4" y="119.9" width="4.0" height="4.0" fill="#f86a1e"/>
<rect x="171.3" y="119.9" width="15.5" height="4.0" fill="#fdb23a"/>
<rect x="186.6" y="119.9" width="4.0" height="4.0" fill="#f86a1e"/>
<rect x="190.5" y="119.9" width="4.0" height="4.0" fill="#fdb23a"/>
<rect x="194.3" y="119.9" width="4.0" height="4.0" fill="#f86a1e"/>
<rect x="198.1" y="119.9" width="19.4" height="4.0" fill="#fdb23a"/>
<rect x="217.3" y="119.9" width="7.9" height="4.0" fill="#aed38e"/>
<rect x="163.6" y="123.7" width="4.0" height="4.0" fill="#fdb23a"/>
<rect x="167.4" y="123.7" width="4.0" height="4.0" fill="#f01e1e"/>
<rect x="171.3" y="123.7" width="27.1" height="4.0" fill="#f86a1e"/>
<rect x="198.1" y="123.7" width="4.0" height="4.0" fill="#f01e1e"/>
<rect x="202.0" y="123.7" width="7.9" height="4.0" fill="#f86a1e"/>
<rect x="163.6" y="127.5" width="27.1" height="4.0" fill="#f86a1e"/>
<rect x="190.5" y="127.5" width="4.0" height="4.0" fill="#fdb23a"/>
<rect x="194.3" y="127.5" width="15.5" height="4.0" fill="#f86a1e"/>
<rect x="163.6" y="131.4" width="7.9" height="4.0" fill="#f86a1e"/>
<rect x="171.3" y="131.4" width="4.0" height="4.0" fill="#fdb23a"/>
<rect x="175.1" y="131.4" width="11.7" height="4.0" fill="#f86a1e"/>
<rect x="186.6" y="131.4" width="4.0" height="4.0" fill="#f01e1e"/>
<rect x="190.5" y="131.4" width="7.9" height="4.0" fill="#f86a1e"/>
<rect x="198.1" y="131.4" width="7.9" height="4.0" fill="#fdb23a"/>
<rect x="205.8" y="131.4" width="4.0" height="4.0" fill="#f86a1e"/>
<rect x="209.6" y="131.4" width="4.0" height="4.0" fill="#fdb23a"/>
<rect x="163.6" y="135.2" width="30.9" height="4.0" fill="#f86a1e"/>
<rect x="194.3" y="135.2" width="4.0" height="4.0" fill="#fdb23a"/>
<rect x="198.1" y="135.2" width="7.9" height="4.0" fill="#f86a1e"/>
<rect x="205.8" y="135.2" width="7.9" height="4.0" fill="#fdb23a"/>
<rect x="163.6" y="139.0" width="4.0" height="4.0" fill="#f01e1e"/>
<rect x="167.4" y="139.0" width="15.5" height="4.0" fill="#f86a1e"/>
<rect x="182.8" y="139.0" width="7.9" height="4.0" fill="#f01e1e"/>
<rect x="190.5" y="139.0" width="4.0" height="4.0" fill="#f86a1e"/>
<rect x="194.3" y="139.0" width="11.7" height="4.0" fill="#fdb23a"/>
<rect x="163.6" y="142.9" width="7.9" height="4.0" fill="#f86a1e"/>
<rect x="171.3" y="142.9" width="4.0" height="4.0" fill="#fdb23a"/>
<rect x="175.1" y="142.9" width="11.7" height="4.0" fill="#f86a1e"/>
<rect x="163.6" y="146.7" width="15.5" height="4.0" fill="#f86a1e"/>
<rect x="182.8" y="146.7" width="4.0" height="4.0" fill="#fdb23a"/>
<rect x="163.6" y="150.5" width="4.0" height="4.0" fill="#f86a1e"/>
<rect x="167.4" y="150.5" width="4.0" height="4.0" fill="#fdb23a"/>
<rect x="171.3" y="150.5" width="7.9" height="4.0" fill="#f86a1e"/>
<rect x="163.6" y="154.3" width="4.0" height="4.0" fill="#f86a1e"/>
<rect x="175.1" y="154.3" width="4.0" height="4.0" fill="#f86a1e"/>
<rect x="163.6" y="158.2" width="4.0" height="4.0" fill="#f86a1e"/>
<rect x="175.1" y="158.2" width="4.0" height="4.0" fill="#fdb23a"/>
</g>
<path d="M293.10 4.10V161.80M296.97 4.10V161.80M300.85 4.10V161.80M304.72 4.10V161.80M308.59 4.10V161.80M312.47 4.10V161.80M316.34 4.10V161.80M320.22 4.10V161.80M324.09 4.10V161.80M327.96 4.10V161.80M331.84 4.10V161.80M335.71 4.10V161.80M339.58 4.10V161.80M343.46 4.10V161.80M347.33 4.10V161.80M351.21 4.10V161.80M355.08 4.10V161.80M358.95 4.10V161.80M362.83 4.10V161.80M366.70 4.10V161.80M293.10 4.10H366.70M293.10 7.95H366.70M293.10 11.79H366.70M293.10 15.64H366.70M293.10 19.49H366.70M293.10 23.33H366.70M293.10 27.18H366.70M293.10 31.02H366.70M293.10 34.87H366.70M293.10 38.72H366.70M293.10 42.56H366.70M293.10 46.41H366.70M293.10 50.26H366.70M293.10 54.10H366.70M293.10 57.95H366.70M293.10 61.80H366.70M293.10 65.64H366.70M293.10 69.49H366.70M293.10 73.33H366.70M293.10 77.18H366.70M293.10 81.03H366.70M293.10 84.87H366.70M293.10 88.72H366.70M293.10 92.57H366.70M293.10 96.41H366.70M293.10 100.26H366.70M293.10 104.10H366.70M293.10 107.95H366.70M293.10 111.80H366.70M293.10 115.64H366.70M293.10 119.49H366.70M293.10 123.34H366.70M293.10 127.18H366.70M293.10 131.03H366.70M293.10 134.88H366.70M293.10 138.72H366.70M293.10 142.57H366.70M293.10 146.41H366.70M293.10 150.26H366.70M293.10 154.11H366.70M293.10 157.95H366.70M293.10 161.80H366.70" stroke="#b8b8b8" stroke-width="0.75" fill="none"/>
<g shape-rendering="crispEdges">
<rect x="308.5" y="4.0" width="4.1" height="4.0" fill="#4aada8"/>
<rect x="312.4" y="4.0" width="4.1" height="4.0" fill="#aed38e"/>
<rect x="316.2" y="4.0" width="4.1" height="4.0" fill="#fdb23a"/>
<rect x="320.1" y="4.0" width="11.8" height="4.0" fill="#aed38e"/>
<rect x="331.7" y="4.0" width="4.1" height="4.0" fill="#fdb23a"/>
<rect x="304.6" y="7.8" width="4.1" height="4.0" fill="#aed38e"/>
<rect x="308.5" y="7.8" width="4.1" height="4.0" fill="#4aada8"/>
<rect x="312.4" y="7.8" width="4.1" height="4.0" fill="#aed38e"/>
<rect x="316.2" y="7.8" width="4.1" height="4.0" fill="#f86a1e"/>
<rect x="320.1" y="7.8" width="4.1" height="4.0" fill="#aed38e"/>
<rect x="324.0" y="7.8" width="4.1" height="4.0" fill="#fdb23a"/>
<rect x="327.9" y="7.8" width="7.9" height="4.0" fill="#aed38e"/>
<rect x="335.6" y="7.8" width="7.9" height="4.0" fill="#fdb23a"/>
<rect x="343.4" y="7.8" width="7.9" height="4.0" fill="#aed38e"/>
<rect x="304.6" y="11.7" width="4.1" height="4.0" fill="#4aada8"/>
<rect x="308.5" y="11.7" width="7.9" height="4.0" fill="#aed38e"/>
<rect x="316.2" y="11.7" width="4.1" height="4.0" fill="#fdb23a"/>
<rect x="320.1" y="11.7" width="4.1" height="4.0" fill="#aed38e"/>
<rect x="324.0" y="11.7" width="11.8" height="4.0" fill="#fdb23a"/>
<rect x="335.6" y="11.7" width="4.1" height="4.0" fill="#4aada8"/>
<rect x="339.5" y="11.7" width="11.8" height="4.0" fill="#fdb23a"/>
<rect x="351.1" y="11.7" width="7.9" height="4.0" fill="#aed38e"/>
<rect x="358.9" y="11.7" width="4.1" height="4.0" fill="#f86a1e"/>
<rect x="362.7" y="11.7" width="4.1" height="4.0" fill="#fdb23a"/>
<rect x="304.6" y="15.5" width="4.1" height="4.0" fill="#4aada8"/>
<rect x="308.5" y="15.5" width="7.9" height="4.0" fill="#fdb23a"/>
<rect x="320.1" y="15.5" width="4.1" height="4.0" fill="#aed38e"/>
<rect x="324.0" y="15.5" width="4.1" height="4.0" fill="#1a8ad4"/>
<rect x="327.9" y="15.5" width="7.9" height="4.0" fill="#aed38e"/>
<rect x="335.6" y="15.5" width="4.1" height="4.0" fill="#f86a1e"/>
<rect x="339.5" y="15.5" width="4.1" height="4.0" fill="#aed38e"/>
<rect x="343.4" y="15.5" width="4.1" height="4.0" fill="#f86a1e"/>
<rect x="347.2" y="15.5" width="4.1" height="4.0" fill="#4aada8"/>
<rect x="351.1" y="15.5" width="4.1" height="4.0" fill="#aed38e"/>
<rect x="355.0" y="15.5" width="4.1" height="4.0" fill="#1a8ad4"/>
<rect x="358.9" y="15.5" width="4.1" height="4.0" fill="#f86a1e"/>
<rect x="362.7" y="15.5" width="4.1" height="4.0" fill="#fdb23a"/>
<rect x="300.7" y="19.4" width="11.8" height="4.0" fill="#aed38e"/>
<rect x="312.4" y="19.4" width="11.8" height="4.0" fill="#fdb23a"/>
<rect x="324.0" y="19.4" width="4.1" height="4.0" fill="#f86a1e"/>
<rect x="327.9" y="19.4" width="4.1" height="4.0" fill="#aed38e"/>
<rect x="331.7" y="19.4" width="7.9" height="4.0" fill="#f86a1e"/>
<rect x="339.5" y="19.4" width="4.1" height="4.0" fill="#fdb23a"/>
<rect x="343.4" y="19.4" width="7.9" height="4.0" fill="#f86a1e"/>
<rect x="351.1" y="19.4" width="7.9" height="4.0" fill="#aed38e"/>
<rect x="358.9" y="19.4" width="4.1" height="4.0" fill="#f86a1e"/>
<rect x="300.7" y="23.2" width="7.9" height="4.0" fill="#aed38e"/>
<rect x="308.5" y="23.2" width="4.1" height="4.0" fill="#f86a1e"/>
<rect x="312.4" y="23.2" width="15.7" height="4.0" fill="#fdb23a"/>
<rect x="327.9" y="23.2" width="4.1" height="4.0" fill="#aed38e"/>
<rect x="331.7" y="23.2" width="4.1" height="4.0" fill="#4aada8"/>
<rect x="335.6" y="23.2" width="4.1" height="4.0" fill="#fdb23a"/>
<rect x="339.5" y="23.2" width="19.6" height="4.0" fill="#aed38e"/>
<rect x="358.9" y="23.2" width="4.1" height="4.0" fill="#f86a1e"/>
<rect x="300.7" y="27.1" width="4.1" height="4.0" fill="#aed38e"/>
<rect x="304.6" y="27.1" width="7.9" height="4.0" fill="#f86a1e"/>
<rect x="312.4" y="27.1" width="15.7" height="4.0" fill="#fdb23a"/>
<rect x="327.9" y="27.1" width="7.9" height="4.0" fill="#aed38e"/>
<rect x="335.6" y="27.1" width="4.1" height="4.0" fill="#fdb23a"/>
<rect x="339.5" y="27.1" width="11.8" height="4.0" fill="#f86a1e"/>
<rect x="351.1" y="27.1" width="4.1" height="4.0" fill="#4aada8"/>
<rect x="355.0" y="27.1" width="7.9" height="4.0" fill="#f86a1e"/>
<rect x="296.9" y="30.9" width="7.9" height="4.0" fill="#aed38e"/>
<rect x="304.6" y="30.9" width="4.1" height="4.0" fill="#f86a1e"/>
<rect x="308.5" y="30.9" width="4.1" height="4.0" fill="#aed38e"/>
<rect x="312.4" y="30.9" width="4.1" height="4.0" fill="#fdb23a"/>
<rect x="316.2" y="30.9" width="4.1" height="4.0" fill="#f86a1e"/>
<rect x="320.1" y="30.9" width="11.8" height="4.0" fill="#fdb23a"/>
<rect x="331.7" y="30.9" width="11.8" height="4.0" fill="#aed38e"/>
<rect x="343.4" y="30.9" width="4.1" height="4.0" fill="#fdb23a"/>
<rect x="347.2" y="30.9" width="4.1" height="4.0" fill="#aed38e"/>
<rect x="351.1" y="30.9" width="4.1" height="4.0" fill="#fdb23a"/>
<rect x="355.0" y="30.9" width="7.9" height="4.0" fill="#f86a1e"/>
<rect x="296.9" y="34.8" width="4.1" height="4.0" fill="#aed38e"/>
<rect x="300.7" y="34.8" width="4.1" height="4.0" fill="#4aada8"/>
<rect x="304.6" y="34.8" width="4.1" height="4.0" fill="#aed38e"/>
<rect x="308.5" y="34.8" width="4.1" height="4.0" fill="#fdb23a"/>
<rect x="312.4" y="34.8" width="4.1" height="4.0" fill="#aed38e"/>
<rect x="316.2" y="34.8" width="4.1" height="4.0" fill="#fdb23a"/>
<rect x="320.1" y="34.8" width="4.1" height="4.0" fill="#f86a1e"/>
<rect x="324.0" y="34.8" width="7.9" height="4.0" fill="#fdb23a"/>
<rect x="331.7" y="34.8" width="4.1" height="4.0" fill="#aed38e"/>
<rect x="335.6" y="34.8" width="7.9" height="4.0" fill="#fdb23a"/>
<rect x="343.4" y="34.8" width="4.1" height="4.0" fill="#aed38e"/>
<rect x="347.2" y="34.8" width="4.1" height="4.0" fill="#fdb23a"/>
<rect x="351.1" y="34.8" width="4.1" height="4.0" fill="#aed38e"/>
<rect x="355.0" y="34.8" width="4.1" height="4.0" fill="#fdb23a"/>
<rect x="358.9" y="34.8" width="4.1" height="4.0" fill="#f86a1e"/>
<rect x="296.9" y="38.6" width="4.1" height="4.0" fill="#4aada8"/>
<rect x="300.7" y="38.6" width="4.1" height="4.0" fill="#aed38e"/>
<rect x="304.6" y="38.6" width="4.1" height="4.0" fill="#f86a1e"/>
<rect x="308.5" y="38.6" width="4.1" height="4.0" fill="#aed38e"/>
<rect x="312.4" y="38.6" width="4.1" height="4.0" fill="#fdb23a"/>
<rect x="316.2" y="38.6" width="4.1" height="4.0" fill="#aed38e"/>
<rect x="320.1" y="38.6" width="4.1" height="4.0" fill="#fdb23a"/>
<rect x="324.0" y="38.6" width="4.1" height="4.0" fill="#aed38e"/>
<rect x="327.9" y="38.6" width="4.1" height="4.0" fill="#fdb23a"/>
<rect x="331.7" y="38.6" width="4.1" height="4.0" fill="#aed38e"/>
<rect x="335.6" y="38.6" width="4.1" height="4.0" fill="#fdb23a"/>
<rect x="339.5" y="38.6" width="11.8" height="4.0" fill="#aed38e"/>
<rect x="351.1" y="38.6" width="4.1" height="4.0" fill="#fdb23a"/>
<rect x="355.0" y="38.6" width="7.9" height="4.0" fill="#f86a1e"/>
<rect x="296.9" y="42.5" width="4.1" height="4.0" fill="#4aada8"/>
<rect x="300.7" y="42.5" width="4.1" height="4.0" fill="#aed38e"/>
<rect x="304.6" y="42.5" width="4.1" height="4.0" fill="#1a8ad4"/>
<rect x="308.5" y="42.5" width="4.1" height="4.0" fill="#aed38e"/>
<rect x="312.4" y="42.5" width="4.1" height="4.0" fill="#4aada8"/>
<rect x="316.2" y="42.5" width="11.8" height="4.0" fill="#f86a1e"/>
<rect x="327.9" y="42.5" width="4.1" height="4.0" fill="#aed38e"/>
<rect x="331.7" y="42.5" width="4.1" height="4.0" fill="#fdb23a"/>
<rect x="339.5" y="42.5" width="7.9" height="4.0" fill="#aed38e"/>
<rect x="347.2" y="42.5" width="4.1" height="4.0" fill="#fdb23a"/>
<rect x="351.1" y="42.5" width="4.1" height="4.0" fill="#aed38e"/>
<rect x="355.0" y="42.5" width="4.1" height="4.0" fill="#f86a1e"/>
<rect x="358.9" y="42.5" width="4.1" height="4.0" fill="#fdb23a"/>
<rect x="296.9" y="46.3" width="4.1" height="4.0" fill="#aed38e"/>
<rect x="300.7" y="46.3" width="4.1" height="4.0" fill="#fdb23a"/>
<rect x="304.6" y="46.3" width="4.1" height="4.0" fill="#aed38e"/>
<rect x="308.5" y="46.3" width="4.1" height="4.0" fill="#fdb23a"/>
<rect x="312.4" y="46.3" width="15.7" height="4.0" fill="#aed38e"/>
<rect x="327.9" y="46.3" width="4.1" height="4.0" fill="#fdb23a"/>
<rect x="331.7" y="46.3" width="7.9" height="4.0" fill="#aed38e"/>
<rect x="339.5" y="46.3" width="4.1" height="4.0" fill="#1a8ad4"/>
<rect x="343.4" y="46.3" width="4.1" height="4.0" fill="#aed38e"/>
<rect x="347.2" y="46.3" width="4.1" height="4.0" fill="#fdb23a"/>
<rect x="351.1" y="46.3" width="4.1" height="4.0" fill="#aed38e"/>
<rect x="355.0" y="46.3" width="4.1" height="4.0" fill="#f01e1e"/>
<rect x="296.9" y="50.2" width="4.1" height="4.0" fill="#aed38e"/>
<rect x="300.7" y="50.2" width="4.1" height="4.0" fill="#f01e1e"/>
<rect x="304.6" y="50.2" width="4.1" height="4.0" fill="#fdb23a"/>
<rect x="308.5" y="50.2" width="4.1" height="4.0" fill="#aed38e"/>
<rect x="312.4" y="50.2" width="4.1" height="4.0" fill="#fdb23a"/>
<rect x="316.2" y="50.2" width="4.1" height="4.0" fill="#aed38e"/>
<rect x="320.1" y="50.2" width="4.1" height="4.0" fill="#fdb23a"/>
<rect x="324.0" y="50.2" width="4.1" height="4.0" fill="#f86a1e"/>
<rect x="327.9" y="50.2" width="7.9" height="4.0" fill="#aed38e"/>
<rect x="335.6" y="50.2" width="7.9" height="4.0" fill="#fdb23a"/>
<rect x="343.4" y="50.2" width="4.1" height="4.0" fill="#f86a1e"/>
<rect x="347.2" y="50.2" width="4.1" height="4.0" fill="#aed38e"/>
<rect x="351.1" y="50.2" width="4.1" height="4.0" fill="#4aada8"/>
<rect x="355.0" y="50.2" width="4.1" height="4.0" fill="#f01e1e"/>
<rect x="293.0" y="54.0" width="7.9" height="4.0" fill="#fdb23a"/>
<rect x="300.7" y="54.0" width="4.1" height="4.0" fill="#f86a1e"/>
<rect x="304.6" y="54.0" width="4.1" height="4.0" fill="#fdb23a"/>
<rect x="308.5" y="54.0" width="4.1" height="4.0" fill="#aed38e"/>
<rect x="312.4" y="54.0" width="11.8" height="4.0" fill="#f86a1e"/>
<rect x="324.0" y="54.0" width="4.1" height="4.0" fill="#fdb23a"/>
<rect x="327.9" y="54.0" width="4.1" height="4.0" fill="#f86a1e"/>
<rect x="331.7" y="54.0" width="11.8" height="4.0" fill="#aed38e"/>
<rect x="343.4" y="54.0" width="11.8" height="4.0" fill="#fdb23a"/>
<rect x="355.0" y="54.0" width="4.1" height="4.0" fill="#f86a1e"/>
<rect x="293.0" y="57.8" width="11.8" height="4.0" fill="#aed38e"/>
<rect x="304.6" y="57.8" width="4.1" height="4.0" fill="#fdb23a"/>
<rect x="308.5" y="57.8" width="4.1" height="4.0" fill="#f86a1e"/>
<rect x="312.4" y="57.8" width="7.9" height="4.0" fill="#aed38e"/>
<rect x="320.1" y="57.8" width="4.1" height="4.0" fill="#f86a1e"/>
<rect x="324.0" y="57.8" width="4.1" height="4.0" fill="#fdb23a"/>
<rect x="327.9" y="57.8" width="4.1" height="4.0" fill="#aed38e"/>
<rect x="331.7" y="57.8" width="4.1" height="4.0" fill="#fdb23a"/>
<rect x="335.6" y="57.8" width="7.9" height="4.0" fill="#f86a1e"/>
<rect x="343.4" y="57.8" width="7.9" height="4.0" fill="#fdb23a"/>
<rect x="351.1" y="57.8" width="7.9" height="4.0" fill="#f86a1e"/>
<rect x="293.0" y="61.7" width="4.1" height="4.0" fill="#aed38e"/>
<rect x="296.9" y="61.7" width="4.1" height="4.0" fill="#f86a1e"/>
<rect x="300.7" y="61.7" width="4.1" height="4.0" fill="#fdb23a"/>
<rect x="304.6" y="61.7" width="4.1" height="4.0" fill="#f86a1e"/>
<rect x="308.5" y="61.7" width="4.1" height="4.0" fill="#fdb23a"/>
<rect x="312.4" y="61.7" width="4.1" height="4.0" fill="#4aada8"/>
<rect x="316.2" y="61.7" width="11.8" height="4.0" fill="#f86a1e"/>
<rect x="327.9" y="61.7" width="7.9" height="4.0" fill="#aed38e"/>
<rect x="335.6" y="61.7" width="4.1" height="4.0" fill="#f86a1e"/>
<rect x="339.5" y="61.7" width="4.1" height="4.0" fill="#aed38e"/>
<rect x="343.4" y="61.7" width="4.1" height="4.0" fill="#4aada8"/>
<rect x="347.2" y="61.7" width="4.1" height="4.0" fill="#fdb23a"/>
<rect x="351.1" y="61.7" width="4.1" height="4.0" fill="#aed38e"/>
<rect x="355.0" y="61.7" width="4.1" height="4.0" fill="#f86a1e"/>
<rect x="358.9" y="61.7" width="4.1" height="4.0" fill="#fdb23a"/>
<rect x="293.0" y="65.5" width="4.1" height="4.0" fill="#aed38e"/>
<rect x="296.9" y="65.5" width="7.9" height="4.0" fill="#fdb23a"/>
<rect x="304.6" y="65.5" width="4.1" height="4.0" fill="#aed38e"/>
<rect x="308.5" y="65.5" width="4.1" height="4.0" fill="#fdb23a"/>
<rect x="312.4" y="65.5" width="7.9" height="4.0" fill="#aed38e"/>
<rect x="320.1" y="65.5" width="4.1" height="4.0" fill="#f86a1e"/>
<rect x="324.0" y="65.5" width="4.1" height="4.0" fill="#fdb23a"/>
<rect x="327.9" y="65.5" width="11.8" height="4.0" fill="#aed38e"/>
<rect x="339.5" y="65.5" width="4.1" height="4.0" fill="#fdb23a"/>
<rect x="343.4" y="65.5" width="4.1" height="4.0" fill="#4aada8"/>
<rect x="347.2" y="65.5" width="4.1" height="4.0" fill="#aed38e"/>
<rect x="351.1" y="65.5" width="7.9" height="4.0" fill="#f86a1e"/>
<rect x="358.9" y="65.5" width="4.1" height="4.0" fill="#fdb23a"/>
<rect x="293.0" y="69.4" width="4.1" height="4.0" fill="#fdb23a"/>
<rect x="296.9" y="69.4" width="7.9" height="4.0" fill="#aed38e"/>
<rect x="304.6" y="69.4" width="7.9" height="4.0" fill="#f86a1e"/>
<rect x="312.4" y="69.4" width="7.9" height="4.0" fill="#fdb23a"/>
<rect x="320.1" y="69.4" width="4.1" height="4.0" fill="#1a8ad4"/>
<rect x="324.0" y="69.4" width="4.1" height="4.0" fill="#fdb23a"/>
<rect x="327.9" y="69.4" width="7.9" height="4.0" fill="#4aada8"/>
<rect x="335.6" y="69.4" width="7.9" height="4.0" fill="#aed38e"/>
<rect x="343.4" y="69.4" width="4.1" height="4.0" fill="#fdb23a"/>
<rect x="347.2" y="69.4" width="11.8" height="4.0" fill="#aed38e"/>
<rect x="358.9" y="69.4" width="4.1" height="4.0" fill="#f86a1e"/>
<rect x="293.0" y="73.2" width="7.9" height="4.0" fill="#fdb23a"/>
<rect x="300.7" y="73.2" width="4.1" height="4.0" fill="#aed38e"/>
<rect x="304.6" y="73.2" width="7.9" height="4.0" fill="#fdb23a"/>
<rect x="312.4" y="73.2" width="7.9" height="4.0" fill="#aed38e"/>
<rect x="320.1" y="73.2" width="7.9" height="4.0" fill="#fdb23a"/>
<rect x="327.9" y="73.2" width="19.6" height="4.0" fill="#aed38e"/>
<rect x="347.2" y="73.2" width="4.1" height="4.0" fill="#fdb23a"/>
<rect x="351.1" y="73.2" width="4.1" height="4.0" fill="#1a8ad4"/>
<rect x="355.0" y="73.2" width="4.1" height="4.0" fill="#fdb23a"/>
<rect x="358.9" y="73.2" width="4.1" height="4.0" fill="#f86a1e"/>
<rect x="362.7" y="73.2" width="4.1" height="4.0" fill="#fdb23a"/>
<rect x="293.0" y="77.1" width="7.9" height="4.0" fill="#aed38e"/>
<rect x="300.7" y="77.1" width="4.1" height="4.0" fill="#fdb23a"/>
<rect x="304.6" y="77.1" width="7.9" height="4.0" fill="#f86a1e"/>
<rect x="312.4" y="77.1" width="4.1" height="4.0" fill="#fdb23a"/>
<rect x="316.2" y="77.1" width="4.1" height="4.0" fill="#aed38e"/>
<rect x="320.1" y="77.1" width="4.1" height="4.0" fill="#fdb23a"/>
<rect x="324.0" y="77.1" width="4.1" height="4.0" fill="#4aada8"/>
<rect x="327.9" y="77.1" width="4.1" height="4.0" fill="#fdb23a"/>
<rect x="331.7" y="77.1" width="4.1" height="4.0" fill="#4aada8"/>
<rect x="335.6" y="77.1" width="4.1" height="4.0" fill="#f86a1e"/>
<rect x="339.5" y="77.1" width="4.1" height="4.0" fill="#fdb23a"/>
<rect x="343.4" y="77.1" width="4.1" height="4.0" fill="#f86a1e"/>
<rect x="347.2" y="77.1" width="4.1" height="4.0" fill="#fdb23a"/>
<rect x="351.1" y="77.1" width="4.1" height="4.0" fill="#aed38e"/>
<rect x="355.0" y="77.1" width="4.1" height="4.0" fill="#f86a1e"/>
<rect x="358.9" y="77.1" width="4.1" height="4.0" fill="#fdb23a"/>
<rect x="362.7" y="77.1" width="4.1" height="4.0" fill="#f86a1e"/>
<rect x="293.0" y="80.9" width="11.8" height="4.0" fill="#fdb23a"/>
<rect x="304.6" y="80.9" width="7.9" height="4.0" fill="#aed38e"/>
<rect x="312.4" y="80.9" width="4.1" height="4.0" fill="#fdb23a"/>
<rect x="316.2" y="80.9" width="4.1" height="4.0" fill="#aed38e"/>
<rect x="320.1" y="80.9" width="4.1" height="4.0" fill="#f86a1e"/>
<rect x="324.0" y="80.9" width="4.1" height="4.0" fill="#aed38e"/>
<rect x="327.9" y="80.9" width="4.1" height="4.0" fill="#f01e1e"/>
<rect x="331.7" y="80.9" width="11.8" height="4.0" fill="#aed38e"/>
<rect x="343.4" y="80.9" width="4.1" height="4.0" fill="#fdb23a"/>
<rect x="347.2" y="80.9" width="4.1" height="4.0" fill="#aed38e"/>
<rect x="351.1" y="80.9" width="4.1" height="4.0" fill="#f86a1e"/>
<rect x="355.0" y="80.9" width="7.9" height="4.0" fill="#fdb23a"/>
<rect x="362.7" y="80.9" width="4.1" height="4.0" fill="#f86a1e"/>
<rect x="293.0" y="84.8" width="4.1" height="4.0" fill="#fdb23a"/>
<rect x="296.9" y="84.8" width="4.1" height="4.0" fill="#aed38e"/>
<rect x="300.7" y="84.8" width="4.1" height="4.0" fill="#fdb23a"/>
<rect x="304.6" y="84.8" width="11.8" height="4.0" fill="#aed38e"/>
<rect x="316.2" y="84.8" width="4.1" height="4.0" fill="#4aada8"/>
<rect x="320.1" y="84.8" width="4.1" height="4.0" fill="#f86a1e"/>
<rect x="324.0" y="84.8" width="4.1" height="4.0" fill="#4aada8"/>
<rect x="327.9" y="84.8" width="4.1" height="4.0" fill="#aed38e"/>
<rect x="331.7" y="84.8" width="7.9" height="4.0" fill="#fdb23a"/>
<rect x="339.5" y="84.8" width="7.9" height="4.0" fill="#aed38e"/>
<rect x="347.2" y="84.8" width="4.1" height="4.0" fill="#f86a1e"/>
<rect x="351.1" y="84.8" width="7.9" height="4.0" fill="#fdb23a"/>
<rect x="358.9" y="84.8" width="4.1" height="4.0" fill="#f86a1e"/>
<rect x="362.7" y="84.8" width="4.1" height="4.0" fill="#fdb23a"/>
<rect x="293.0" y="88.6" width="7.9" height="4.0" fill="#fdb23a"/>
<rect x="300.7" y="88.6" width="4.1" height="4.0" fill="#aed38e"/>
<rect x="304.6" y="88.6" width="4.1" height="4.0" fill="#fdb23a"/>
<rect x="308.5" y="88.6" width="4.1" height="4.0" fill="#aed38e"/>
<rect x="312.4" y="88.6" width="4.1" height="4.0" fill="#4aada8"/>
<rect x="316.2" y="88.6" width="4.1" height="4.0" fill="#fdb23a"/>
<rect x="320.1" y="88.6" width="4.1" height="4.0" fill="#aed38e"/>
<rect x="324.0" y="88.6" width="4.1" height="4.0" fill="#4aada8"/>
<rect x="327.9" y="88.6" width="4.1" height="4.0" fill="#fdb23a"/>
<rect x="331.7" y="88.6" width="4.1" height="4.0" fill="#4aada8"/>
<rect x="335.6" y="88.6" width="11.8" height="4.0" fill="#aed38e"/>
<rect x="347.2" y="88.6" width="7.9" height="4.0" fill="#fdb23a"/>
<rect x="355.0" y="88.6" width="4.1" height="4.0" fill="#1a8ad4"/>
<rect x="358.9" y="88.6" width="7.9" height="4.0" fill="#f86a1e"/>
<rect x="293.0" y="92.5" width="7.9" height="4.0" fill="#aed38e"/>
<rect x="300.7" y="92.5" width="19.6" height="4.0" fill="#fdb23a"/>
<rect x="320.1" y="92.5" width="4.1" height="4.0" fill="#f86a1e"/>
<rect x="324.0" y="92.5" width="4.1" height="4.0" fill="#fdb23a"/>
<rect x="327.9" y="92.5" width="7.9" height="4.0" fill="#aed38e"/>
<rect x="335.6" y="92.5" width="7.9" height="4.0" fill="#f86a1e"/>
<rect x="343.4" y="92.5" width="7.9" height="4.0" fill="#aed38e"/>
<rect x="351.1" y="92.5" width="4.1" height="4.0" fill="#f86a1e"/>
<rect x="355.0" y="92.5" width="4.1" height="4.0" fill="#aed38e"/>
<rect x="358.9" y="92.5" width="4.1" height="4.0" fill="#fdb23a"/>
<rect x="362.7" y="92.5" width="4.1" height="4.0" fill="#f86a1e"/>
<rect x="293.0" y="96.3" width="4.1" height="4.0" fill="#aed38e"/>
<rect x="296.9" y="96.3" width="7.9" height="4.0" fill="#fdb23a"/>
<rect x="304.6" y="96.3" width="4.1" height="4.0" fill="#aed38e"/>
<rect x="308.5" y="96.3" width="4.1" height="4.0" fill="#f86a1e"/>
<rect x="312.4" y="96.3" width="4.1" height="4.0" fill="#fdb23a"/>
<rect x="316.2" y="96.3" width="4.1" height="4.0" fill="#4aada8"/>
<rect x="320.1" y="96.3" width="4.1" height="4.0" fill="#aed38e"/>
<rect x="324.0" y="96.3" width="4.1" height="4.0" fill="#f86a1e"/>
<rect x="327.9" y="96.3" width="4.1" height="4.0" fill="#fdb23a"/>
<rect x="331.7" y="96.3" width="4.1" height="4.0" fill="#aed38e"/>
<rect x="335.6" y="96.3" width="11.8" height="4.0" fill="#fdb23a"/>
<rect x="347.2" y="96.3" width="7.9" height="4.0" fill="#f86a1e"/>
<rect x="355.0" y="96.3" width="4.1" height="4.0" fill="#aed38e"/>
<rect x="358.9" y="96.3" width="4.1" height="4.0" fill="#f86a1e"/>
<rect x="293.0" y="100.2" width="7.9" height="4.0" fill="#aed38e"/>
<rect x="300.7" y="100.2" width="11.8" height="4.0" fill="#f86a1e"/>
<rect x="312.4" y="100.2" width="4.1" height="4.0" fill="#aed38e"/>
<rect x="316.2" y="100.2" width="4.1" height="4.0" fill="#fdb23a"/>
<rect x="320.1" y="100.2" width="4.1" height="4.0" fill="#aed38e"/>
<rect x="324.0" y="100.2" width="7.9" height="4.0" fill="#f86a1e"/>
<rect x="331.7" y="100.2" width="4.1" height="4.0" fill="#f01e1e"/>
<rect x="335.6" y="100.2" width="23.4" height="4.0" fill="#f86a1e"/>
<rect x="358.9" y="100.2" width="4.1" height="4.0" fill="#fdb23a"/>
<rect x="293.0" y="104.0" width="4.1" height="4.0" fill="#fdb23a"/>
<rect x="296.9" y="104.0" width="4.1" height="4.0" fill="#aed38e"/>
<rect x="300.7" y="104.0" width="11.8" height="4.0" fill="#fdb23a"/>
<rect x="312.4" y="104.0" width="4.1" height="4.0" fill="#f86a1e"/>
<rect x="320.1" y="104.0" width="7.9" height="4.0" fill="#fdb23a"/>
<rect x="327.9" y="104.0" width="4.1" height="4.0" fill="#aed38e"/>
<rect x="331.7" y="104.0" width="4.1" height="4.0" fill="#4aada8"/>
<rect x="335.6" y="104.0" width="4.1" height="4.0" fill="#f86a1e"/>
<rect x="339.5" y="104.0" width="4.1" height="4.0" fill="#aed38e"/>
<rect x="343.4" y="104.0" width="4.1" height="4.0" fill="#f86a1e"/>
<rect x="347.2" y="104.0" width="4.1" height="4.0" fill="#4aada8"/>
<rect x="351.1" y="104.0" width="4.1" height="4.0" fill="#fdb23a"/>
<rect x="355.0" y="104.0" width="4.1" height="4.0" fill="#f86a1e"/>
<rect x="293.0" y="107.9" width="4.1" height="4.0" fill="#f86a1e"/>
<rect x="296.9" y="107.9" width="4.1" height="4.0" fill="#aed38e"/>
<rect x="300.7" y="107.9" width="4.1" height="4.0" fill="#f86a1e"/>
<rect x="304.6" y="107.9" width="4.1" height="4.0" fill="#fdb23a"/>
<rect x="308.5" y="107.9" width="4.1" height="4.0" fill="#aed38e"/>
<rect x="312.4" y="107.9" width="19.6" height="4.0" fill="#fdb23a"/>
<rect x="331.7" y="107.9" width="4.1" height="4.0" fill="#aed38e"/>
<rect x="335.6" y="107.9" width="4.1" height="4.0" fill="#4aada8"/>
<rect x="339.5" y="107.9" width="4.1" height="4.0" fill="#aed38e"/>
<rect x="343.4" y="107.9" width="4.1" height="4.0" fill="#fdb23a"/>
<rect x="347.2" y="107.9" width="7.9" height="4.0" fill="#f86a1e"/>
<rect x="293.0" y="111.7" width="4.1" height="4.0" fill="#fdb23a"/>
<rect x="296.9" y="111.7" width="4.1" height="4.0" fill="#1a8ad4"/>
<rect x="300.7" y="111.7" width="4.1" height="4.0" fill="#aed38e"/>
<rect x="304.6" y="111.7" width="7.9" height="4.0" fill="#f86a1e"/>
<rect x="312.4" y="111.7" width="4.1" height="4.0" fill="#fdb23a"/>
<rect x="316.2" y="111.7" width="4.1" height="4.0" fill="#f86a1e"/>
<rect x="320.1" y="111.7" width="4.1" height="4.0" fill="#fdb23a"/>
<rect x="324.0" y="111.7" width="4.1" height="4.0" fill="#4aada8"/>
<rect x="327.9" y="111.7" width="4.1" height="4.0" fill="#f86a1e"/>
<rect x="331.7" y="111.7" width="4.1" height="4.0" fill="#fdb23a"/>
<rect x="335.6" y="111.7" width="4.1" height="4.0" fill="#aed38e"/>
<rect x="339.5" y="111.7" width="4.1" height="4.0" fill="#1a8ad4"/>
<rect x="343.4" y="111.7" width="4.1" height="4.0" fill="#fdb23a"/>
<rect x="347.2" y="111.7" width="4.1" height="4.0" fill="#aed38e"/>
<rect x="351.1" y="111.7" width="4.1" height="4.0" fill="#fdb23a"/>
<rect x="293.0" y="115.5" width="7.9" height="4.0" fill="#aed38e"/>
<rect x="300.7" y="115.5" width="7.9" height="4.0" fill="#fdb23a"/>
<rect x="308.5" y="115.5" width="4.1" height="4.0" fill="#4aada8"/>
<rect x="312.4" y="115.5" width="7.9" height="4.0" fill="#fdb23a"/>
<rect x="320.1" y="115.5" width="4.1" height="4.0" fill="#aed38e"/>
<rect x="324.0" y="115.5" width="7.9" height="4.0" fill="#fdb23a"/>
<rect x="331.7" y="115.5" width="7.9" height="4.0" fill="#aed38e"/>
<rect x="339.5" y="115.5" width="7.9" height="4.0" fill="#fdb23a"/>
<rect x="347.2" y="115.5" width="4.1" height="4.0" fill="#f01e1e"/>
<rect x="293.0" y="119.4" width="4.1" height="4.0" fill="#f86a1e"/>
<rect x="296.9" y="119.4" width="4.1" height="4.0" fill="#aed38e"/>
<rect x="300.7" y="119.4" width="11.8" height="4.0" fill="#fdb23a"/>
<rect x="312.4" y="119.4" width="4.1" height="4.0" fill="#aed38e"/>
<rect x="316.2" y="119.4" width="7.9" height="4.0" fill="#fdb23a"/>
<rect x="324.0" y="119.4" width="7.9" height="4.0" fill="#aed38e"/>
<rect x="331.7" y="119.4" width="4.1" height="4.0" fill="#4aada8"/>
<rect x="335.6" y="119.4" width="4.1" height="4.0" fill="#aed38e"/>
<rect x="339.5" y="119.4" width="11.8" height="4.0" fill="#fdb23a"/>
<rect x="351.1" y="119.4" width="4.1" height="4.0" fill="#aed38e"/>
<rect x="293.0" y="123.2" width="4.1" height="4.0" fill="#f86a1e"/>
<rect x="296.9" y="123.2" width="4.1" height="4.0" fill="#1a8ad4"/>
<rect x="300.7" y="123.2" width="4.1" height="4.0" fill="#aed38e"/>
<rect x="304.6" y="123.2" width="4.1" height="4.0" fill="#fdb23a"/>
<rect x="308.5" y="123.2" width="7.9" height="4.0" fill="#aed38e"/>
<rect x="316.2" y="123.2" width="4.1" height="4.0" fill="#fdb23a"/>
<rect x="320.1" y="123.2" width="4.1" height="4.0" fill="#f86a1e"/>
<rect x="324.0" y="123.2" width="7.9" height="4.0" fill="#fdb23a"/>
<rect x="331.7" y="123.2" width="4.1" height="4.0" fill="#aed38e"/>
<rect x="335.6" y="123.2" width="4.1" height="4.0" fill="#fdb23a"/>
<rect x="339.5" y="123.2" width="7.9" height="4.0" fill="#f01e1e"/>
<rect x="347.2" y="123.2" width="4.1" height="4.0" fill="#fdb23a"/>
<rect x="293.0" y="127.1" width="4.1" height="4.0" fill="#fdb23a"/>
<rect x="296.9" y="127.1" width="4.1" height="4.0" fill="#4aada8"/>
<rect x="300.7" y="127.1" width="7.9" height="4.0" fill="#f86a1e"/>
<rect x="308.5" y="127.1" width="7.9" height="4.0" fill="#aed38e"/>
<rect x="316.2" y="127.1" width="4.1" height="4.0" fill="#fdb23a"/>
<rect x="320.1" y="127.1" width="4.1" height="4.0" fill="#f86a1e"/>
<rect x="324.0" y="127.1" width="4.1" height="4.0" fill="#fdb23a"/>
<rect x="327.9" y="127.1" width="4.1" height="4.0" fill="#aed38e"/>
<rect x="331.7" y="127.1" width="4.1" height="4.0" fill="#fdb23a"/>
<rect x="335.6" y="127.1" width="4.1" height="4.0" fill="#f86a1e"/>
<rect x="339.5" y="127.1" width="4.1" height="4.0" fill="#f01e1e"/>
<rect x="343.4" y="127.1" width="4.1" height="4.0" fill="#f86a1e"/>
<rect x="293.0" y="130.9" width="4.1" height="4.0" fill="#f86a1e"/>
<rect x="296.9" y="130.9" width="4.1" height="4.0" fill="#aed38e"/>
<rect x="300.7" y="130.9" width="4.1" height="4.0" fill="#f86a1e"/>
<rect x="304.6" y="130.9" width="4.1" height="4.0" fill="#aed38e"/>
<rect x="308.5" y="130.9" width="11.8" height="4.0" fill="#fdb23a"/>
<rect x="320.1" y="130.9" width="4.1" height="4.0" fill="#f86a1e"/>
<rect x="324.0" y="130.9" width="4.1" height="4.0" fill="#fdb23a"/>
<rect x="327.9" y="130.9" width="15.7" height="4.0" fill="#f86a1e"/>
<rect x="343.4" y="130.9" width="4.1" height="4.0" fill="#fdb23a"/>
<rect x="293.0" y="134.8" width="4.1" height="4.0" fill="#f86a1e"/>
<rect x="296.9" y="134.8" width="4.1" height="4.0" fill="#aed38e"/>
<rect x="300.7" y="134.8" width="4.1" height="4.0" fill="#fdb23a"/>
<rect x="304.6" y="134.8" width="4.1" height="4.0" fill="#f86a1e"/>
<rect x="308.5" y="134.8" width="4.1" height="4.0" fill="#4aada8"/>
<rect x="312.4" y="134.8" width="4.1" height="4.0" fill="#f86a1e"/>
<rect x="316.2" y="134.8" width="19.6" height="4.0" fill="#fdb23a"/>
<rect x="335.6" y="134.8" width="4.1" height="4.0" fill="#f86a1e"/>
<rect x="339.5" y="134.8" width="4.1" height="4.0" fill="#fdb23a"/>
<rect x="293.0" y="138.6" width="7.9" height="4.0" fill="#aed38e"/>
<rect x="300.7" y="138.6" width="4.1" height="4.0" fill="#fdb23a"/>
<rect x="304.6" y="138.6" width="4.1" height="4.0" fill="#aed38e"/>
<rect x="308.5" y="138.6" width="4.1" height="4.0" fill="#fdb23a"/>
<rect x="312.4" y="138.6" width="7.9" height="4.0" fill="#aed38e"/>
<rect x="320.1" y="138.6" width="4.1" height="4.0" fill="#fdb23a"/>
<rect x="324.0" y="138.6" width="11.8" height="4.0" fill="#f86a1e"/>
<rect x="335.6" y="138.6" width="4.1" height="4.0" fill="#fdb23a"/>
<rect x="293.0" y="142.5" width="4.1" height="4.0" fill="#fdb23a"/>
<rect x="296.9" y="142.5" width="7.9" height="4.0" fill="#f86a1e"/>
<rect x="304.6" y="142.5" width="4.1" height="4.0" fill="#fdb23a"/>
<rect x="308.5" y="142.5" width="4.1" height="4.0" fill="#aed38e"/>
<rect x="312.4" y="142.5" width="4.1" height="4.0" fill="#fdb23a"/>
<rect x="316.2" y="142.5" width="11.8" height="4.0" fill="#f86a1e"/>
<rect x="327.9" y="142.5" width="4.1" height="4.0" fill="#f01e1e"/>
<rect x="331.7" y="142.5" width="4.1" height="4.0" fill="#fdb23a"/>
<rect x="293.0" y="146.3" width="7.9" height="4.0" fill="#4aada8"/>
<rect x="300.7" y="146.3" width="7.9" height="4.0" fill="#aed38e"/>
<rect x="312.4" y="146.3" width="7.9" height="4.0" fill="#fdb23a"/>
<rect x="320.1" y="146.3" width="4.1" height="4.0" fill="#f86a1e"/>
<rect x="324.0" y="146.3" width="7.9" height="4.0" fill="#fdb23a"/>
<rect x="293.0" y="150.2" width="4.1" height="4.0" fill="#aed38e"/>
<rect x="296.9" y="150.2" width="4.1" height="4.0" fill="#fdb23a"/>
<rect x="300.7" y="150.2" width="4.1" height="4.0" fill="#4aada8"/>
<rect x="304.6" y="150.2" width="4.1" height="4.0" fill="#aed38e"/>
<rect x="316.2" y="150.2" width="7.9" height="4.0" fill="#f86a1e"/>
<rect x="293.0" y="154.0" width="4.1" height="4.0" fill="#4aada8"/>
<rect x="296.9" y="154.0" width="4.1" height="4.0" fill="#fdb23a"/>
<rect x="300.7" y="154.0" width="15.7" height="4.0" fill="#f86a1e"/>
<rect x="316.2" y="154.0" width="4.1" height="4.0" fill="#fdb23a"/>
<rect x="293.0" y="157.9" width="4.1" height="4.0" fill="#aed38e"/>
<rect x="296.9" y="157.9" width="7.9" height="4.0" fill="#f86a1e"/>
<rect x="304.6" y="157.9" width="4.1" height="4.0" fill="#fdb23a"/>
</g>
<path d="M424.60 3.80V161.40M428.44 3.80V161.40M432.28 3.80V161.40M436.13 3.80V161.40M439.97 3.80V161.40M443.81 3.80V161.40M447.65 3.80V161.40M451.49 3.80V161.40M455.34 3.80V161.40M459.18 3.80V161.40M463.02 3.80V161.40M466.86 3.80V161.40M470.71 3.80V161.40M474.55 3.80V161.40M478.39 3.80V161.40M482.23 3.80V161.40M486.07 3.80V161.40M489.92 3.80V161.40M493.76 3.80V161.40M497.60 3.80V161.40M424.60 3.80H497.60M424.60 7.64H497.60M424.60 11.49H497.60M424.60 15.33H497.60M424.60 19.18H497.60M424.60 23.02H497.60M424.60 26.86H497.60M424.60 30.71H497.60M424.60 34.55H497.60M424.60 38.40H497.60M424.60 42.24H497.60M424.60 46.08H497.60M424.60 49.93H497.60M424.60 53.77H497.60M424.60 57.61H497.60M424.60 61.46H497.60M424.60 65.30H497.60M424.60 69.15H497.60M424.60 72.99H497.60M424.60 76.83H497.60M424.60 80.68H497.60M424.60 84.52H497.60M424.60 88.37H497.60M424.60 92.21H497.60M424.60 96.05H497.60M424.60 99.90H497.60M424.60 103.74H497.60M424.60 107.59H497.60M424.60 111.43H497.60M424.60 115.27H497.60M424.60 119.12H497.60M424.60 122.96H497.60M424.60 126.80H497.60M424.60 130.65H497.60M424.60 134.49H497.60M424.60 138.34H497.60M424.60 142.18H497.60M424.60 146.02H497.60M424.60 149.87H497.60M424.60 153.71H497.60M424.60 157.56H497.60M424.60 161.40H497.60" stroke="#b8b8b8" stroke-width="0.75" fill="none"/>
<g shape-rendering="crispEdges">
<rect x="439.9" y="3.7" width="27.1" height="4.0" fill="#fdb23a"/>
<rect x="436.0" y="7.5" width="4.0" height="4.0" fill="#fdb23a"/>
<rect x="439.9" y="7.5" width="4.0" height="4.0" fill="#aed38e"/>
<rect x="443.7" y="7.5" width="4.0" height="4.0" fill="#fdb23a"/>
<rect x="447.6" y="7.5" width="4.0" height="4.0" fill="#aed38e"/>
<rect x="451.4" y="7.5" width="4.0" height="4.0" fill="#f86a1e"/>
<rect x="455.2" y="7.5" width="7.9" height="4.0" fill="#aed38e"/>
<rect x="462.9" y="7.5" width="4.0" height="4.0" fill="#4aada8"/>
<rect x="466.8" y="7.5" width="4.0" height="4.0" fill="#aed38e"/>
<rect x="470.6" y="7.5" width="4.0" height="4.0" fill="#fdb23a"/>
<rect x="474.4" y="7.5" width="7.9" height="4.0" fill="#aed38e"/>
<rect x="436.0" y="11.4" width="4.0" height="4.0" fill="#fdb23a"/>
<rect x="439.9" y="11.4" width="7.9" height="4.0" fill="#aed38e"/>
<rect x="447.6" y="11.4" width="4.0" height="4.0" fill="#fdb23a"/>
<rect x="451.4" y="11.4" width="4.0" height="4.0" fill="#aed38e"/>
<rect x="455.2" y="11.4" width="4.0" height="4.0" fill="#fdb23a"/>
<rect x="459.1" y="11.4" width="15.6" height="4.0" fill="#aed38e"/>
<rect x="474.4" y="11.4" width="7.9" height="4.0" fill="#fdb23a"/>
<rect x="482.1" y="11.4" width="7.9" height="4.0" fill="#aed38e"/>
<rect x="489.8" y="11.4" width="4.0" height="4.0" fill="#fdb23a"/>
<rect x="493.7" y="11.4" width="4.0" height="4.0" fill="#aed38e"/>
<rect x="436.0" y="15.2" width="4.0" height="4.0" fill="#fdb23a"/>
<rect x="439.9" y="15.2" width="7.9" height="4.0" fill="#aed38e"/>
<rect x="451.4" y="15.2" width="4.0" height="4.0" fill="#4aada8"/>
<rect x="455.2" y="15.2" width="4.0" height="4.0" fill="#fdb23a"/>
<rect x="459.1" y="15.2" width="7.9" height="4.0" fill="#aed38e"/>
<rect x="466.8" y="15.2" width="4.0" height="4.0" fill="#1a8ad4"/>
<rect x="470.6" y="15.2" width="4.0" height="4.0" fill="#aed38e"/>
<rect x="474.4" y="15.2" width="4.0" height="4.0" fill="#4aada8"/>
<rect x="478.3" y="15.2" width="4.0" height="4.0" fill="#fdb23a"/>
<rect x="489.8" y="15.2" width="4.0" height="4.0" fill="#4aada8"/>
<rect x="493.7" y="15.2" width="4.0" height="4.0" fill="#aed38e"/>
<rect x="432.2" y="19.1" width="4.0" height="4.0" fill="#fdb23a"/>
<rect x="436.0" y="19.1" width="7.9" height="4.0" fill="#aed38e"/>
<rect x="443.7" y="19.1" width="4.0" height="4.0" fill="#fdb23a"/>
<rect x="447.6" y="19.1" width="11.7" height="4.0" fill="#aed38e"/>
<rect x="459.1" y="19.1" width="4.0" height="4.0" fill="#fdb23a"/>
<rect x="462.9" y="19.1" width="11.7" height="4.0" fill="#aed38e"/>
<rect x="474.4" y="19.1" width="4.0" height="4.0" fill="#4aada8"/>
<rect x="478.3" y="19.1" width="15.6" height="4.0" fill="#aed38e"/>
<rect x="432.2" y="22.9" width="4.0" height="4.0" fill="#f86a1e"/>
<rect x="436.0" y="22.9" width="4.0" height="4.0" fill="#fdb23a"/>
<rect x="439.9" y="22.9" width="4.0" height="4.0" fill="#aed38e"/>
<rect x="443.7" y="22.9" width="7.9" height="4.0" fill="#fdb23a"/>
<rect x="451.4" y="22.9" width="4.0" height="4.0" fill="#1a8ad4"/>
<rect x="455.2" y="22.9" width="4.0" height="4.0" fill="#aed38e"/>
<rect x="459.1" y="22.9" width="4.0" height="4.0" fill="#4aada8"/>
<rect x="462.9" y="22.9" width="4.0" height="4.0" fill="#fdb23a"/>
<rect x="466.8" y="22.9" width="4.0" height="4.0" fill="#4aada8"/>
<rect x="470.6" y="22.9" width="4.0" height="4.0" fill="#aed38e"/>
<rect x="474.4" y="22.9" width="7.9" height="4.0" fill="#fdb23a"/>
<rect x="482.1" y="22.9" width="11.7" height="4.0" fill="#aed38e"/>
<rect x="432.2" y="26.8" width="4.0" height="4.0" fill="#fdb23a"/>
<rect x="436.0" y="26.8" width="4.0" height="4.0" fill="#4aada8"/>
<rect x="439.9" y="26.8" width="4.0" height="4.0" fill="#1a8ad4"/>
<rect x="443.7" y="26.8" width="4.0" height="4.0" fill="#aed38e"/>
<rect x="447.6" y="26.8" width="4.0" height="4.0" fill="#fdb23a"/>
<rect x="451.4" y="26.8" width="4.0" height="4.0" fill="#aed38e"/>
<rect x="455.2" y="26.8" width="4.0" height="4.0" fill="#f86a1e"/>
<rect x="459.1" y="26.8" width="4.0" height="4.0" fill="#aed38e"/>
<rect x="462.9" y="26.8" width="4.0" height="4.0" fill="#fdb23a"/>
<rect x="466.8" y="26.8" width="4.0" height="4.0" fill="#4aada8"/>
<rect x="470.6" y="26.8" width="4.0" height="4.0" fill="#aed38e"/>
<rect x="474.4" y="26.8" width="7.9" height="4.0" fill="#fdb23a"/>
<rect x="482.1" y="26.8" width="4.0" height="4.0" fill="#4aada8"/>
<rect x="486.0" y="26.8" width="4.0" height="4.0" fill="#aed38e"/>
<rect x="489.8" y="26.8" width="4.0" height="4.0" fill="#fdb23a"/>
<rect x="428.3" y="30.6" width="4.0" height="4.0" fill="#4aada8"/>
<rect x="432.2" y="30.6" width="4.0" height="4.0" fill="#f86a1e"/>
<rect x="436.0" y="30.6" width="4.0" height="4.0" fill="#4aada8"/>
<rect x="439.9" y="30.6" width="11.7" height="4.0" fill="#aed38e"/>
<rect x="451.4" y="30.6" width="4.0" height="4.0" fill="#fdb23a"/>
<rect x="455.2" y="30.6" width="4.0" height="4.0" fill="#aed38e"/>
<rect x="459.1" y="30.6" width="4.0" height="4.0" fill="#fdb23a"/>
<rect x="462.9" y="30.6" width="4.0" height="4.0" fill="#f86a1e"/>
<rect x="466.8" y="30.6" width="4.0" height="4.0" fill="#aed38e"/>
<rect x="470.6" y="30.6" width="4.0" height="4.0" fill="#f86a1e"/>
<rect x="474.4" y="30.6" width="7.9" height="4.0" fill="#fdb23a"/>
<rect x="482.1" y="30.6" width="7.9" height="4.0" fill="#aed38e"/>
<rect x="489.8" y="30.6" width="4.0" height="4.0" fill="#4aada8"/>
<rect x="428.3" y="34.5" width="4.0" height="4.0" fill="#4aada8"/>
<rect x="432.2" y="34.5" width="4.0" height="4.0" fill="#f86a1e"/>
<rect x="436.0" y="34.5" width="4.0" height="4.0" fill="#aed38e"/>
<rect x="439.9" y="34.5" width="4.0" height="4.0" fill="#4aada8"/>
<rect x="443.7" y="34.5" width="4.0" height="4.0" fill="#fdb23a"/>
<rect x="447.6" y="34.5" width="4.0" height="4.0" fill="#4aada8"/>
<rect x="451.4" y="34.5" width="4.0" height="4.0" fill="#fdb23a"/>
<rect x="455.2" y="34.5" width="7.9" height="4.0" fill="#aed38e"/>
<rect x="462.9" y="34.5" width="7.9" height="4.0" fill="#fdb23a"/>
<rect x="470.6" y="34.5" width="4.0" height="4.0" fill="#aed38e"/>
<rect x="474.4" y="34.5" width="4.0" height="4.0" fill="#fdb23a"/>
<rect x="478.3" y="34.5" width="15.6" height="4.0" fill="#aed38e"/>
<rect x="428.3" y="38.3" width="4.0" height="4.0" fill="#4aada8"/>
<rect x="432.2" y="38.3" width="4.0" height="4.0" fill="#f86a1e"/>
<rect x="436.0" y="38.3" width="4.0" height="4.0" fill="#4aada8"/>
<rect x="439.9" y="38.3" width="4.0" height="4.0" fill="#aed38e"/>
<rect x="443.7" y="38.3" width="4.0" height="4.0" fill="#4aada8"/>
<rect x="447.6" y="38.3" width="4.0" height="4.0" fill="#aed38e"/>
<rect x="451.4" y="38.3" width="4.0" height="4.0" fill="#f86a1e"/>
<rect x="455.2" y="38.3" width="4.0" height="4.0" fill="#aed38e"/>
<rect x="459.1" y="38.3" width="4.0" height="4.0" fill="#f86a1e"/>
<rect x="462.9" y="38.3" width="11.7" height="4.0" fill="#fdb23a"/>
<rect x="474.4" y="38.3" width="15.6" height="4.0" fill="#4aada8"/>
<rect x="489.8" y="38.3" width="4.0" height="4.0" fill="#aed38e"/>
<rect x="428.3" y="42.1" width="4.0" height="4.0" fill="#aed38e"/>
<rect x="432.2" y="42.1" width="4.0" height="4.0" fill="#fdb23a"/>
<rect x="436.0" y="42.1" width="4.0" height="4.0" fill="#f86a1e"/>
<rect x="439.9" y="42.1" width="4.0" height="4.0" fill="#fdb23a"/>
<rect x="443.7" y="42.1" width="4.0" height="4.0" fill="#aed38e"/>
<rect x="447.6" y="42.1" width="4.0" height="4.0" fill="#fdb23a"/>
<rect x="451.4" y="42.1" width="4.0" height="4.0" fill="#f86a1e"/>
<rect x="455.2" y="42.1" width="7.9" height="4.0" fill="#aed38e"/>
<rect x="466.8" y="42.1" width="7.9" height="4.0" fill="#aed38e"/>
<rect x="474.4" y="42.1" width="4.0" height="4.0" fill="#fdb23a"/>
<rect x="478.3" y="42.1" width="7.9" height="4.0" fill="#aed38e"/>
<rect x="486.0" y="42.1" width="4.0" height="4.0" fill="#fdb23a"/>
<rect x="489.8" y="42.1" width="4.0" height="4.0" fill="#aed38e"/>
<rect x="428.3" y="46.0" width="4.0" height="4.0" fill="#fdb23a"/>
<rect x="432.2" y="46.0" width="4.0" height="4.0" fill="#4aada8"/>
<rect x="436.0" y="46.0" width="4.0" height="4.0" fill="#fdb23a"/>
<rect x="439.9" y="46.0" width="4.0" height="4.0" fill="#aed38e"/>
<rect x="443.7" y="46.0" width="4.0" height="4.0" fill="#fdb23a"/>
<rect x="447.6" y="46.0" width="4.0" height="4.0" fill="#aed38e"/>
<rect x="451.4" y="46.0" width="4.0" height="4.0" fill="#4aada8"/>
<rect x="455.2" y="46.0" width="4.0" height="4.0" fill="#aed38e"/>
<rect x="459.1" y="46.0" width="4.0" height="4.0" fill="#fdb23a"/>
<rect x="462.9" y="46.0" width="4.0" height="4.0" fill="#f86a1e"/>
<rect x="466.8" y="46.0" width="11.7" height="4.0" fill="#fdb23a"/>
<rect x="478.3" y="46.0" width="7.9" height="4.0" fill="#aed38e"/>
<rect x="486.0" y="46.0" width="4.0" height="4.0" fill="#1a8ad4"/>
<rect x="428.3" y="49.8" width="4.0" height="4.0" fill="#f86a1e"/>
<rect x="432.2" y="49.8" width="4.0" height="4.0" fill="#1a8ad4"/>
<rect x="436.0" y="49.8" width="4.0" height="4.0" fill="#fdb23a"/>
<rect x="439.9" y="49.8" width="4.0" height="4.0" fill="#aed38e"/>
<rect x="443.7" y="49.8" width="4.0" height="4.0" fill="#4aada8"/>
<rect x="447.6" y="49.8" width="7.9" height="4.0" fill="#aed38e"/>
<rect x="455.2" y="49.8" width="4.0" height="4.0" fill="#4aada8"/>
<rect x="459.1" y="49.8" width="4.0" height="4.0" fill="#aed38e"/>
<rect x="462.9" y="49.8" width="4.0" height="4.0" fill="#f86a1e"/>
<rect x="470.6" y="49.8" width="4.0" height="4.0" fill="#fdb23a"/>
<rect x="474.4" y="49.8" width="11.7" height="4.0" fill="#aed38e"/>
<rect x="486.0" y="49.8" width="4.0" height="4.0" fill="#1a8ad4"/>
<rect x="424.5" y="53.7" width="7.9" height="4.0" fill="#aed38e"/>
<rect x="432.2" y="53.7" width="4.0" height="4.0" fill="#1a8ad4"/>
<rect x="436.0" y="53.7" width="4.0" height="4.0" fill="#f86a1e"/>
<rect x="439.9" y="53.7" width="7.9" height="4.0" fill="#1a8ad4"/>
<rect x="447.6" y="53.7" width="7.9" height="4.0" fill="#4aada8"/>
<rect x="455.2" y="53.7" width="11.7" height="4.0" fill="#aed38e"/>
<rect x="466.8" y="53.7" width="7.9" height="4.0" fill="#fdb23a"/>
<rect x="474.4" y="53.7" width="4.0" height="4.0" fill="#4aada8"/>
<rect x="478.3" y="53.7" width="7.9" height="4.0" fill="#aed38e"/>
<rect x="486.0" y="53.7" width="4.0" height="4.0" fill="#fdb23a"/>
<rect x="424.5" y="57.5" width="4.0" height="4.0" fill="#fdb23a"/>
<rect x="428.3" y="57.5" width="4.0" height="4.0" fill="#4aada8"/>
<rect x="432.2" y="57.5" width="4.0" height="4.0" fill="#aed38e"/>
<rect x="436.0" y="57.5" width="4.0" height="4.0" fill="#fdb23a"/>
<rect x="439.9" y="57.5" width="4.0" height="4.0" fill="#1a8ad4"/>
<rect x="443.7" y="57.5" width="4.0" height="4.0" fill="#aed38e"/>
<rect x="447.6" y="57.5" width="4.0" height="4.0" fill="#fdb23a"/>
<rect x="451.4" y="57.5" width="4.0" height="4.0" fill="#aed38e"/>
<rect x="455.2" y="57.5" width="4.0" height="4.0" fill="#4aada8"/>
<rect x="459.1" y="57.5" width="4.0" height="4.0" fill="#aed38e"/>
<rect x="462.9" y="57.5" width="4.0" height="4.0" fill="#fdb23a"/>
<rect x="466.8" y="57.5" width="7.9" height="4.0" fill="#aed38e"/>
<rect x="474.4" y="57.5" width="4.0" height="4.0" fill="#fdb23a"/>
<rect x="478.3" y="57.5" width="4.0" height="4.0" fill="#aed38e"/>
<rect x="482.1" y="57.5" width="4.0" height="4.0" fill="#f86a1e"/>
<rect x="486.0" y="57.5" width="4.0" height="4.0" fill="#fdb23a"/>
<rect x="424.5" y="61.4" width="4.0" height="4.0" fill="#aed38e"/>
<rect x="428.3" y="61.4" width="15.6" height="4.0" fill="#4aada8"/>
<rect x="443.7" y="61.4" width="4.0" height="4.0" fill="#aed38e"/>
<rect x="447.6" y="61.4" width="7.9" height="4.0" fill="#fdb23a"/>
<rect x="455.2" y="61.4" width="4.0" height="4.0" fill="#4aada8"/>
<rect x="459.1" y="61.4" width="4.0" height="4.0" fill="#aed38e"/>
<rect x="462.9" y="61.4" width="7.9" height="4.0" fill="#4aada8"/>
<rect x="470.6" y="61.4" width="4.0" height="4.0" fill="#aed38e"/>
<rect x="474.4" y="61.4" width="4.0" height="4.0" fill="#f86a1e"/>
<rect x="478.3" y="61.4" width="4.0" height="4.0" fill="#fdb23a"/>
<rect x="482.1" y="61.4" width="4.0" height="4.0" fill="#f86a1e"/>
<rect x="486.0" y="61.4" width="4.0" height="4.0" fill="#4aada8"/>
<rect x="489.8" y="61.4" width="4.0" height="4.0" fill="#fdb23a"/>
<rect x="424.5" y="65.2" width="4.0" height="4.0" fill="#4aada8"/>
<rect x="428.3" y="65.2" width="4.0" height="4.0" fill="#1a8ad4"/>
<rect x="432.2" y="65.2" width="4.0" height="4.0" fill="#fdb23a"/>
<rect x="436.0" y="65.2" width="4.0" height="4.0" fill="#f86a1e"/>
<rect x="439.9" y="65.2" width="4.0" height="4.0" fill="#fdb23a"/>
<rect x="443.7" y="65.2" width="7.9" height="4.0" fill="#f86a1e"/>
<rect x="451.4" y="65.2" width="11.7" height="4.0" fill="#aed38e"/>
<rect x="462.9" y="65.2" width="4.0" height="4.0" fill="#fdb23a"/>
<rect x="466.8" y="65.2" width="7.9" height="4.0" fill="#f86a1e"/>
<rect x="474.4" y="65.2" width="7.9" height="4.0" fill="#fdb23a"/>
<rect x="482.1" y="65.2" width="4.0" height="4.0" fill="#f86a1e"/>
<rect x="486.0" y="65.2" width="4.0" height="4.0" fill="#aed38e"/>
<rect x="489.8" y="65.2" width="4.0" height="4.0" fill="#fdb23a"/>
<rect x="424.5" y="69.0" width="4.0" height="4.0" fill="#1a8ad4"/>
<rect x="428.3" y="69.0" width="7.9" height="4.0" fill="#aed38e"/>
<rect x="436.0" y="69.0" width="4.0" height="4.0" fill="#fdb23a"/>
<rect x="439.9" y="69.0" width="4.0" height="4.0" fill="#1a8ad4"/>
<rect x="443.7" y="69.0" width="4.0" height="4.0" fill="#aed38e"/>
<rect x="447.6" y="69.0" width="7.9" height="4.0" fill="#f86a1e"/>
<rect x="455.2" y="69.0" width="4.0" height="4.0" fill="#aed38e"/>
<rect x="459.1" y="69.0" width="4.0" height="4.0" fill="#f86a1e"/>
<rect x="462.9" y="69.0" width="4.0" height="4.0" fill="#fdb23a"/>
<rect x="466.8" y="69.0" width="11.7" height="4.0" fill="#aed38e"/>
<rect x="478.3" y="69.0" width="4.0" height="4.0" fill="#fdb23a"/>
<rect x="482.1" y="69.0" width="4.0" height="4.0" fill="#aed38e"/>
<rect x="486.0" y="69.0" width="7.9" height="4.0" fill="#fdb23a"/>
<rect x="424.5" y="72.9" width="4.0" height="4.0" fill="#fdb23a"/>
<rect x="428.3" y="72.9" width="4.0" height="4.0" fill="#aed38e"/>
<rect x="432.2" y="72.9" width="4.0" height="4.0" fill="#fdb23a"/>
<rect x="436.0" y="72.9" width="7.9" height="4.0" fill="#aed38e"/>
<rect x="443.7" y="72.9" width="4.0" height="4.0" fill="#fdb23a"/>
<rect x="447.6" y="72.9" width="11.7" height="4.0" fill="#aed38e"/>
<rect x="459.1" y="72.9" width="4.0" height="4.0" fill="#f86a1e"/>
<rect x="462.9" y="72.9" width="4.0" height="4.0" fill="#aed38e"/>
<rect x="466.8" y="72.9" width="4.0" height="4.0" fill="#f86a1e"/>
<rect x="470.6" y="72.9" width="11.7" height="4.0" fill="#aed38e"/>
<rect x="482.1" y="72.9" width="4.0" height="4.0" fill="#fdb23a"/>
<rect x="486.0" y="72.9" width="4.0" height="4.0" fill="#4aada8"/>
<rect x="489.8" y="72.9" width="4.0" height="4.0" fill="#aed38e"/>
<rect x="493.7" y="72.9" width="4.0" height="4.0" fill="#fdb23a"/>
<rect x="424.5" y="76.7" width="4.0" height="4.0" fill="#f86a1e"/>
<rect x="428.3" y="76.7" width="4.0" height="4.0" fill="#aed38e"/>
<rect x="432.2" y="76.7" width="4.0" height="4.0" fill="#fdb23a"/>
<rect x="436.0" y="76.7" width="7.9" height="4.0" fill="#4aada8"/>
<rect x="443.7" y="76.7" width="4.0" height="4.0" fill="#fdb23a"/>
<rect x="447.6" y="76.7" width="7.9" height="4.0" fill="#aed38e"/>
<rect x="455.2" y="76.7" width="4.0" height="4.0" fill="#fdb23a"/>
<rect x="459.1" y="76.7" width="4.0" height="4.0" fill="#1a8ad4"/>
<rect x="462.9" y="76.7" width="4.0" height="4.0" fill="#4aada8"/>
<rect x="466.8" y="76.7" width="4.0" height="4.0" fill="#aed38e"/>
<rect x="470.6" y="76.7" width="7.9" height="4.0" fill="#f86a1e"/>
<rect x="478.3" y="76.7" width="4.0" height="4.0" fill="#fdb23a"/>
<rect x="482.1" y="76.7" width="4.0" height="4.0" fill="#aed38e"/>
<rect x="486.0" y="76.7" width="4.0" height="4.0" fill="#4aada8"/>
<rect x="489.8" y="76.7" width="4.0" height="4.0" fill="#aed38e"/>
<rect x="493.7" y="76.7" width="4.0" height="4.0" fill="#fdb23a"/>
<rect x="424.5" y="80.6" width="4.0" height="4.0" fill="#fdb23a"/>
<rect x="428.3" y="80.6" width="4.0" height="4.0" fill="#aed38e"/>
<rect x="432.2" y="80.6" width="15.6" height="4.0" fill="#fdb23a"/>
<rect x="447.6" y="80.6" width="4.0" height="4.0" fill="#aed38e"/>
<rect x="451.4" y="80.6" width="4.0" height="4.0" fill="#fdb23a"/>
<rect x="455.2" y="80.6" width="4.0" height="4.0" fill="#aed38e"/>
<rect x="459.1" y="80.6" width="4.0" height="4.0" fill="#1a8ad4"/>
<rect x="462.9" y="80.6" width="4.0" height="4.0" fill="#fdb23a"/>
<rect x="466.8" y="80.6" width="7.9" height="4.0" fill="#aed38e"/>
<rect x="474.4" y="80.6" width="4.0" height="4.0" fill="#4aada8"/>
<rect x="478.3" y="80.6" width="4.0" height="4.0" fill="#aed38e"/>
<rect x="482.1" y="80.6" width="4.0" height="4.0" fill="#4aada8"/>
<rect x="486.0" y="80.6" width="7.9" height="4.0" fill="#aed38e"/>
<rect x="493.7" y="80.6" width="4.0" height="4.0" fill="#fdb23a"/>
<rect x="424.5" y="84.4" width="4.0" height="4.0" fill="#f86a1e"/>
<rect x="428.3" y="84.4" width="4.0" height="4.0" fill="#1a8ad4"/>
<rect x="432.2" y="84.4" width="7.9" height="4.0" fill="#fdb23a"/>
<rect x="439.9" y="84.4" width="4.0" height="4.0" fill="#f86a1e"/>
<rect x="443.7" y="84.4" width="4.0" height="4.0" fill="#fdb23a"/>
<rect x="447.6" y="84.4" width="4.0" height="4.0" fill="#aed38e"/>
<rect x="451.4" y="84.4" width="11.7" height="4.0" fill="#fdb23a"/>
<rect x="462.9" y="84.4" width="7.9" height="4.0" fill="#f86a1e"/>
<rect x="470.6" y="84.4" width="7.9" height="4.0" fill="#fdb23a"/>
<rect x="478.3" y="84.4" width="4.0" height="4.0" fill="#f86a1e"/>
<rect x="482.1" y="84.4" width="7.9" height="4.0" fill="#aed38e"/>
<rect x="489.8" y="84.4" width="7.9" height="4.0" fill="#fdb23a"/>
<rect x="424.5" y="88.3" width="4.0" height="4.0" fill="#aed38e"/>
<rect x="428.3" y="88.3" width="4.0" height="4.0" fill="#1a8ad4"/>
<rect x="432.2" y="88.3" width="4.0" height="4.0" fill="#fdb23a"/>
<rect x="436.0" y="88.3" width="4.0" height="4.0" fill="#f86a1e"/>
<rect x="439.9" y="88.3" width="7.9" height="4.0" fill="#fdb23a"/>
<rect x="447.6" y="88.3" width="4.0" height="4.0" fill="#4aada8"/>
<rect x="451.4" y="88.3" width="4.0" height="4.0" fill="#aed38e"/>
<rect x="455.2" y="88.3" width="4.0" height="4.0" fill="#fdb23a"/>
<rect x="459.1" y="88.3" width="4.0" height="4.0" fill="#f86a1e"/>
<rect x="462.9" y="88.3" width="4.0" height="4.0" fill="#aed38e"/>
<rect x="466.8" y="88.3" width="4.0" height="4.0" fill="#fdb23a"/>
<rect x="470.6" y="88.3" width="7.9" height="4.0" fill="#f86a1e"/>
<rect x="478.3" y="88.3" width="4.0" height="4.0" fill="#f01e1e"/>
<rect x="482.1" y="88.3" width="7.9" height="4.0" fill="#aed38e"/>
<rect x="489.8" y="88.3" width="4.0" height="4.0" fill="#4aada8"/>
<rect x="493.7" y="88.3" width="4.0" height="4.0" fill="#fdb23a"/>
<rect x="424.5" y="92.1" width="4.0" height="4.0" fill="#fdb23a"/>
<rect x="428.3" y="92.1" width="4.0" height="4.0" fill="#4aada8"/>
<rect x="432.2" y="92.1" width="4.0" height="4.0" fill="#1a8ad4"/>
<rect x="436.0" y="92.1" width="4.0" height="4.0" fill="#fdb23a"/>
<rect x="439.9" y="92.1" width="4.0" height="4.0" fill="#aed38e"/>
<rect x="443.7" y="92.1" width="4.0" height="4.0" fill="#f86a1e"/>
<rect x="447.6" y="92.1" width="4.0" height="4.0" fill="#4aada8"/>
<rect x="451.4" y="92.1" width="4.0" height="4.0" fill="#aed38e"/>
<rect x="455.2" y="92.1" width="4.0" height="4.0" fill="#f86a1e"/>
<rect x="459.1" y="92.1" width="7.9" height="4.0" fill="#fdb23a"/>
<rect x="466.8" y="92.1" width="4.0" height="4.0" fill="#f86a1e"/>
<rect x="470.6" y="92.1" width="4.0" height="4.0" fill="#4aada8"/>
<rect x="474.4" y="92.1" width="4.0" height="4.0" fill="#fdb23a"/>
<rect x="478.3" y="92.1" width="7.9" height="4.0" fill="#4aada8"/>
<rect x="486.0" y="92.1" width="4.0" height="4.0" fill="#fdb23a"/>
<rect x="489.8" y="92.1" width="4.0" height="4.0" fill="#f01e1e"/>
<rect x="493.7" y="92.1" width="4.0" height="4.0" fill="#fdb23a"/>
<rect x="424.5" y="96.0" width="15.6" height="4.0" fill="#aed38e"/>
<rect x="439.9" y="96.0" width="4.0" height="4.0" fill="#4aada8"/>
<rect x="443.7" y="96.0" width="7.9" height="4.0" fill="#fdb23a"/>
<rect x="451.4" y="96.0" width="7.9" height="4.0" fill="#aed38e"/>
<rect x="459.1" y="96.0" width="4.0" height="4.0" fill="#fdb23a"/>
<rect x="462.9" y="96.0" width="4.0" height="4.0" fill="#f86a1e"/>
<rect x="466.8" y="96.0" width="15.6" height="4.0" fill="#fdb23a"/>
<rect x="482.1" y="96.0" width="4.0" height="4.0" fill="#aed38e"/>
<rect x="486.0" y="96.0" width="7.9" height="4.0" fill="#f86a1e"/>
<rect x="493.7" y="96.0" width="4.0" height="4.0" fill="#f01e1e"/>
<rect x="424.5" y="99.8" width="7.9" height="4.0" fill="#4aada8"/>
<rect x="432.2" y="99.8" width="11.7" height="4.0" fill="#1a8ad4"/>
<rect x="443.7" y="99.8" width="4.0" height="4.0" fill="#4aada8"/>
<rect x="447.6" y="99.8" width="4.0" height="4.0" fill="#aed38e"/>
<rect x="451.4" y="99.8" width="4.0" height="4.0" fill="#fdb23a"/>
<rect x="455.2" y="99.8" width="4.0" height="4.0" fill="#aed38e"/>
<rect x="459.1" y="99.8" width="4.0" height="4.0" fill="#4aada8"/>
<rect x="462.9" y="99.8" width="4.0" height="4.0" fill="#aed38e"/>
<rect x="466.8" y="99.8" width="4.0" height="4.0" fill="#f86a1e"/>
<rect x="470.6" y="99.8" width="4.0" height="4.0" fill="#fdb23a"/>
<rect x="474.4" y="99.8" width="4.0" height="4.0" fill="#aed38e"/>
<rect x="478.3" y="99.8" width="4.0" height="4.0" fill="#fdb23a"/>
<rect x="482.1" y="99.8" width="4.0" height="4.0" fill="#4aada8"/>
<rect x="486.0" y="99.8" width="4.0" height="4.0" fill="#fdb23a"/>
<rect x="489.8" y="99.8" width="4.0" height="4.0" fill="#f86a1e"/>
<rect x="493.7" y="99.8" width="4.0" height="4.0" fill="#fdb23a"/>
<rect x="424.5" y="103.6" width="11.7" height="4.0" fill="#4aada8"/>
<rect x="436.0" y="103.6" width="4.0" height="4.0" fill="#aed38e"/>
<rect x="439.9" y="103.6" width="7.9" height="4.0" fill="#4aada8"/>
<rect x="447.6" y="103.6" width="4.0" height="4.0" fill="#f86a1e"/>
<rect x="451.4" y="103.6" width="7.9" height="4.0" fill="#fdb23a"/>
<rect x="459.1" y="103.6" width="4.0" height="4.0" fill="#aed38e"/>
<rect x="462.9" y="103.6" width="4.0" height="4.0" fill="#1a8ad4"/>
<rect x="466.8" y="103.6" width="4.0" height="4.0" fill="#fdb23a"/>
<rect x="470.6" y="103.6" width="4.0" height="4.0" fill="#aed38e"/>
<rect x="474.4" y="103.6" width="7.9" height="4.0" fill="#fdb23a"/>
<rect x="482.1" y="103.6" width="4.0" height="4.0" fill="#aed38e"/>
<rect x="486.0" y="103.6" width="7.9" height="4.0" fill="#fdb23a"/>
<rect x="424.5" y="107.5" width="4.0" height="4.0" fill="#4aada8"/>
<rect x="428.3" y="107.5" width="4.0" height="4.0" fill="#fdb23a"/>
<rect x="432.2" y="107.5" width="4.0" height="4.0" fill="#1a8ad4"/>
<rect x="436.0" y="107.5" width="11.7" height="4.0" fill="#aed38e"/>
<rect x="447.6" y="107.5" width="4.0" height="4.0" fill="#fdb23a"/>
<rect x="451.4" y="107.5" width="4.0" height="4.0" fill="#aed38e"/>
<rect x="455.2" y="107.5" width="4.0" height="4.0" fill="#fdb23a"/>
<rect x="459.1" y="107.5" width="4.0" height="4.0" fill="#4aada8"/>
<rect x="462.9" y="107.5" width="4.0" height="4.0" fill="#aed38e"/>
<rect x="466.8" y="107.5" width="7.9" height="4.0" fill="#fdb23a"/>
<rect x="474.4" y="107.5" width="4.0" height="4.0" fill="#aed38e"/>
<rect x="478.3" y="107.5" width="4.0" height="4.0" fill="#fdb23a"/>
<rect x="482.1" y="107.5" width="4.0" height="4.0" fill="#f86a1e"/>
<rect x="486.0" y="107.5" width="4.0" height="4.0" fill="#fdb23a"/>
<rect x="424.5" y="111.3" width="4.0" height="4.0" fill="#aed38e"/>
<rect x="428.3" y="111.3" width="7.9" height="4.0" fill="#fdb23a"/>
<rect x="436.0" y="111.3" width="4.0" height="4.0" fill="#aed38e"/>
<rect x="439.9" y="111.3" width="11.7" height="4.0" fill="#4aada8"/>
<rect x="451.4" y="111.3" width="7.9" height="4.0" fill="#fdb23a"/>
<rect x="459.1" y="111.3" width="4.0" height="4.0" fill="#aed38e"/>
<rect x="462.9" y="111.3" width="4.0" height="4.0" fill="#4aada8"/>
<rect x="466.8" y="111.3" width="4.0" height="4.0" fill="#fdb23a"/>
<rect x="470.6" y="111.3" width="4.0" height="4.0" fill="#aed38e"/>
<rect x="474.4" y="111.3" width="4.0" height="4.0" fill="#4aada8"/>
<rect x="478.3" y="111.3" width="7.9" height="4.0" fill="#fdb23a"/>
<rect x="424.5" y="115.2" width="4.0" height="4.0" fill="#f86a1e"/>
<rect x="428.3" y="115.2" width="4.0" height="4.0" fill="#fdb23a"/>
<rect x="432.2" y="115.2" width="4.0" height="4.0" fill="#f86a1e"/>
<rect x="436.0" y="115.2" width="7.9" height="4.0" fill="#aed38e"/>
<rect x="443.7" y="115.2" width="11.7" height="4.0" fill="#fdb23a"/>
<rect x="455.2" y="115.2" width="4.0" height="4.0" fill="#aed38e"/>
<rect x="459.1" y="115.2" width="4.0" height="4.0" fill="#fdb23a"/>
<rect x="462.9" y="115.2" width="15.6" height="4.0" fill="#aed38e"/>
<rect x="478.3" y="115.2" width="4.0" height="4.0" fill="#fdb23a"/>
<rect x="424.5" y="119.0" width="7.9" height="4.0" fill="#fdb23a"/>
<rect x="432.2" y="119.0" width="4.0" height="4.0" fill="#f86a1e"/>
<rect x="436.0" y="119.0" width="15.6" height="4.0" fill="#aed38e"/>
<rect x="451.4" y="119.0" width="7.9" height="4.0" fill="#4aada8"/>
<rect x="459.1" y="119.0" width="4.0" height="4.0" fill="#fdb23a"/>
<rect x="462.9" y="119.0" width="4.0" height="4.0" fill="#f86a1e"/>
<rect x="466.8" y="119.0" width="4.0" height="4.0" fill="#aed38e"/>
<rect x="470.6" y="119.0" width="4.0" height="4.0" fill="#1a8ad4"/>
<rect x="474.4" y="119.0" width="4.0" height="4.0" fill="#f86a1e"/>
<rect x="478.3" y="119.0" width="4.0" height="4.0" fill="#aed38e"/>
<rect x="424.5" y="122.9" width="7.9" height="4.0" fill="#aed38e"/>
<rect x="432.2" y="122.9" width="4.0" height="4.0" fill="#1a8ad4"/>
<rect x="436.0" y="122.9" width="4.0" height="4.0" fill="#aed38e"/>
<rect x="439.9" y="122.9" width="4.0" height="4.0" fill="#fdb23a"/>
<rect x="443.7" y="122.9" width="11.7" height="4.0" fill="#aed38e"/>
<rect x="455.2" y="122.9" width="4.0" height="4.0" fill="#fdb23a"/>
<rect x="459.1" y="122.9" width="4.0" height="4.0" fill="#aed38e"/>
<rect x="462.9" y="122.9" width="4.0" height="4.0" fill="#fdb23a"/>
<rect x="466.8" y="122.9" width="4.0" height="4.0" fill="#aed38e"/>
<rect x="470.6" y="122.9" width="4.0" height="4.0" fill="#fdb23a"/>
<rect x="474.4" y="122.9" width="4.0" height="4.0" fill="#1a8ad4"/>
<rect x="478.3" y="122.9" width="4.0" height="4.0" fill="#aed38e"/>
<rect x="424.5" y="126.7" width="4.0" height="4.0" fill="#fdb23a"/>
<rect x="428.3" y="126.7" width="4.0" height="4.0" fill="#f86a1e"/>
<rect x="432.2" y="126.7" width="7.9" height="4.0" fill="#4aada8"/>
<rect x="439.9" y="126.7" width="4.0" height="4.0" fill="#f86a1e"/>
<rect x="443.7" y="126.7" width="4.0" height="4.0" fill="#fdb23a"/>
<rect x="447.6" y="126.7" width="19.4" height="4.0" fill="#aed38e"/>
<rect x="466.8" y="126.7" width="11.7" height="4.0" fill="#4aada8"/>
<rect x="424.5" y="130.5" width="4.0" height="4.0" fill="#4aada8"/>
<rect x="428.3" y="130.5" width="4.0" height="4.0" fill="#aed38e"/>
<rect x="432.2" y="130.5" width="4.0" height="4.0" fill="#4aada8"/>
<rect x="436.0" y="130.5" width="4.0" height="4.0" fill="#aed38e"/>
<rect x="439.9" y="130.5" width="4.0" height="4.0" fill="#fdb23a"/>
<rect x="443.7" y="130.5" width="4.0" height="4.0" fill="#f86a1e"/>
<rect x="447.6" y="130.5" width="4.0" height="4.0" fill="#aed38e"/>
<rect x="451.4" y="130.5" width="4.0" height="4.0" fill="#f86a1e"/>
<rect x="455.2" y="130.5" width="4.0" height="4.0" fill="#aed38e"/>
<rect x="459.1" y="130.5" width="4.0" height="4.0" fill="#4aada8"/>
<rect x="462.9" y="130.5" width="4.0" height="4.0" fill="#fdb23a"/>
<rect x="466.8" y="130.5" width="4.0" height="4.0" fill="#f86a1e"/>
<rect x="470.6" y="130.5" width="4.0" height="4.0" fill="#4aada8"/>
<rect x="474.4" y="130.5" width="4.0" height="4.0" fill="#aed38e"/>
<rect x="424.5" y="134.4" width="4.0" height="4.0" fill="#4aada8"/>
<rect x="428.3" y="134.4" width="7.9" height="4.0" fill="#f86a1e"/>
<rect x="436.0" y="134.4" width="4.0" height="4.0" fill="#fdb23a"/>
<rect x="439.9" y="134.4" width="4.0" height="4.0" fill="#f86a1e"/>
<rect x="443.7" y="134.4" width="4.0" height="4.0" fill="#fdb23a"/>
<rect x="447.6" y="134.4" width="4.0" height="4.0" fill="#aed38e"/>
<rect x="451.4" y="134.4" width="4.0" height="4.0" fill="#f86a1e"/>
<rect x="455.2" y="134.4" width="7.9" height="4.0" fill="#fdb23a"/>
<rect x="462.9" y="134.4" width="4.0" height="4.0" fill="#aed38e"/>
<rect x="466.8" y="134.4" width="4.0" height="4.0" fill="#f86a1e"/>
<rect x="470.6" y="134.4" width="4.0" height="4.0" fill="#aed38e"/>
<rect x="424.5" y="138.2" width="11.7" height="4.0" fill="#4aada8"/>
<rect x="436.0" y="138.2" width="7.9" height="4.0" fill="#aed38e"/>
<rect x="443.7" y="138.2" width="7.9" height="4.0" fill="#4aada8"/>
<rect x="451.4" y="138.2" width="11.7" height="4.0" fill="#aed38e"/>
<rect x="462.9" y="138.2" width="4.0" height="4.0" fill="#4aada8"/>
<rect x="466.8" y="138.2" width="4.0" height="4.0" fill="#aed38e"/>
<rect x="424.5" y="142.1" width="4.0" height="4.0" fill="#fdb23a"/>
<rect x="428.3" y="142.1" width="4.0" height="4.0" fill="#aed38e"/>
<rect x="432.2" y="142.1" width="4.0" height="4.0" fill="#4aada8"/>
<rect x="436.0" y="142.1" width="7.9" height="4.0" fill="#aed38e"/>
<rect x="443.7" y="142.1" width="7.9" height="4.0" fill="#4aada8"/>
<rect x="451.4" y="142.1" width="4.0" height="4.0" fill="#1a8ad4"/>
<rect x="455.2" y="142.1" width="4.0" height="4.0" fill="#fdb23a"/>
<rect x="459.1" y="142.1" width="7.9" height="4.0" fill="#aed38e"/>
<rect x="424.5" y="145.9" width="11.7" height="4.0" fill="#f86a1e"/>
<rect x="436.0" y="145.9" width="11.7" height="4.0" fill="#fdb23a"/>
<rect x="447.6" y="145.9" width="7.9" height="4.0" fill="#aed38e"/>
<rect x="455.2" y="145.9" width="4.0" height="4.0" fill="#fdb23a"/>
<rect x="459.1" y="145.9" width="4.0" height="4.0" fill="#aed38e"/>
<rect x="424.5" y="149.8" width="4.0" height="4.0" fill="#fdb23a"/>
<rect x="428.3" y="149.8" width="4.0" height="4.0" fill="#f01e1e"/>
<rect x="432.2" y="149.8" width="7.9" height="4.0" fill="#fdb23a"/>
<rect x="447.6" y="149.8" width="4.0" height="4.0" fill="#4aada8"/>
<rect x="451.4" y="149.8" width="4.0" height="4.0" fill="#aed38e"/>
<rect x="424.5" y="153.6" width="7.9" height="4.0" fill="#fdb23a"/>
<rect x="432.2" y="153.6" width="4.0" height="4.0" fill="#f86a1e"/>
<rect x="436.0" y="153.6" width="7.9" height="4.0" fill="#1a8ad4"/>
<rect x="443.7" y="153.6" width="4.0" height="4.0" fill="#aed38e"/>
<rect x="447.6" y="153.6" width="4.0" height="4.0" fill="#fdb23a"/>
<rect x="424.5" y="157.5" width="4.0" height="4.0" fill="#fdb23a"/>
<rect x="428.3" y="157.5" width="7.9" height="4.0" fill="#aed38e"/>
<rect x="436.0" y="157.5" width="4.0" height="4.0" fill="#fdb23a"/>
<rect x="439.9" y="157.5" width="7.9" height="4.0" fill="#f86a1e"/>
</g>
<path d="M31.40 226.40V383.50M35.22 226.40V383.50M39.04 226.40V383.50M42.86 226.40V383.50M46.68 226.40V383.50M50.51 226.40V383.50M54.33 226.40V383.50M58.15 226.40V383.50M61.97 226.40V383.50M65.79 226.40V383.50M69.61 226.40V383.50M73.43 226.40V383.50M77.25 226.40V383.50M81.07 226.40V383.50M84.89 226.40V383.50M88.72 226.40V383.50M92.54 226.40V383.50M96.36 226.40V383.50M100.18 226.40V383.50M104.00 226.40V383.50M31.40 226.40H104.00M31.40 230.23H104.00M31.40 234.06H104.00M31.40 237.90H104.00M31.40 241.73H104.00M31.40 245.56H104.00M31.40 249.39H104.00M31.40 253.22H104.00M31.40 257.05H104.00M31.40 260.89H104.00M31.40 264.72H104.00M31.40 268.55H104.00M31.40 272.38H104.00M31.40 276.21H104.00M31.40 280.04H104.00M31.40 283.88H104.00M31.40 287.71H104.00M31.40 291.54H104.00M31.40 295.37H104.00M31.40 299.20H104.00M31.40 303.03H104.00M31.40 306.87H104.00M31.40 310.70H104.00M31.40 314.53H104.00M31.40 318.36H104.00M31.40 322.19H104.00M31.40 326.02H104.00M31.40 329.86H104.00M31.40 333.69H104.00M31.40 337.52H104.00M31.40 341.35H104.00M31.40 345.18H104.00M31.40 349.01H104.00M31.40 352.85H104.00M31.40 356.68H104.00M31.40 360.51H104.00M31.40 364.34H104.00M31.40 368.17H104.00M31.40 372.00H104.00M31.40 375.84H104.00M31.40 379.67H104.00M31.40 383.50H104.00" stroke="#b8b8b8" stroke-width="0.75" fill="none"/>
<g shape-rendering="crispEdges">
<rect x="46.6" y="226.3" width="4.0" height="4.0" fill="#3fa9f5"/>
<rect x="50.4" y="226.3" width="4.0" height="4.0" fill="#b6e6f9"/>
<rect x="58.0" y="226.3" width="15.5" height="4.0" fill="#b6e6f9"/>
<rect x="42.8" y="230.1" width="4.0" height="4.0" fill="#b6e6f9"/>
<rect x="46.6" y="230.1" width="4.0" height="4.0" fill="#3fa9f5"/>
<rect x="50.4" y="230.1" width="19.3" height="4.0" fill="#b6e6f9"/>
<rect x="69.5" y="230.1" width="7.8" height="4.0" fill="#3fa9f5"/>
<rect x="77.2" y="230.1" width="11.7" height="4.0" fill="#b6e6f9"/>
<rect x="42.8" y="234.0" width="4.0" height="4.0" fill="#3fa9f5"/>
<rect x="46.6" y="234.0" width="23.1" height="4.0" fill="#b6e6f9"/>
<rect x="69.5" y="234.0" width="7.8" height="4.0" fill="#3fa9f5"/>
<rect x="77.2" y="234.0" width="4.0" height="4.0" fill="#b6e6f9"/>
<rect x="81.0" y="234.0" width="4.0" height="4.0" fill="#3fa9f5"/>
<rect x="88.6" y="234.0" width="7.8" height="4.0" fill="#b6e6f9"/>
<rect x="100.1" y="234.0" width="4.0" height="4.0" fill="#b6e6f9"/>
<rect x="42.8" y="237.8" width="7.8" height="4.0" fill="#3fa9f5"/>
<rect x="50.4" y="237.8" width="4.0" height="4.0" fill="#b6e6f9"/>
<rect x="54.2" y="237.8" width="46.1" height="4.0" fill="#3fa9f5"/>
<rect x="100.1" y="237.8" width="4.0" height="4.0" fill="#b6e6f9"/>
<rect x="38.9" y="241.6" width="4.0" height="4.0" fill="#b6e6f9"/>
<rect x="42.8" y="241.6" width="7.8" height="4.0" fill="#3fa9f5"/>
<rect x="50.4" y="241.6" width="4.0" height="4.0" fill="#b6e6f9"/>
<rect x="54.2" y="241.6" width="4.0" height="4.0" fill="#3fa9f5"/>
<rect x="58.0" y="241.6" width="4.0" height="4.0" fill="#b6e6f9"/>
<rect x="61.9" y="241.6" width="4.0" height="4.0" fill="#000080"/>
<rect x="65.7" y="241.6" width="4.0" height="4.0" fill="#3fa9f5"/>
<rect x="69.5" y="241.6" width="4.0" height="4.0" fill="#b6e6f9"/>
<rect x="73.3" y="241.6" width="15.5" height="4.0" fill="#3fa9f5"/>
<rect x="88.6" y="241.6" width="4.0" height="4.0" fill="#b6e6f9"/>
<rect x="92.4" y="241.6" width="7.8" height="4.0" fill="#3fa9f5"/>
<rect x="100.1" y="241.6" width="4.0" height="4.0" fill="#b6e6f9"/>
<rect x="38.9" y="245.5" width="7.8" height="4.0" fill="#b6e6f9"/>
<rect x="46.6" y="245.5" width="4.0" height="4.0" fill="#3fa9f5"/>
<rect x="54.2" y="245.5" width="4.0" height="4.0" fill="#b6e6f9"/>
<rect x="58.0" y="245.5" width="4.0" height="4.0" fill="#3fa9f5"/>
<rect x="61.9" y="245.5" width="4.0" height="4.0" fill="#b6e6f9"/>
<rect x="65.7" y="245.5" width="19.3" height="4.0" fill="#3fa9f5"/>
<rect x="84.8" y="245.5" width="7.8" height="4.0" fill="#b6e6f9"/>
<rect x="92.4" y="245.5" width="4.0" height="4.0" fill="#3fa9f5"/>
<rect x="96.3" y="245.5" width="4.0" height="4.0" fill="#b6e6f9"/>
<rect x="35.1" y="249.3" width="4.0" height="4.0" fill="#b6e6f9"/>
<rect x="38.9" y="249.3" width="4.0" height="4.0" fill="#3fa9f5"/>
<rect x="42.8" y="249.3" width="4.0" height="4.0" fill="#b6e6f9"/>
<rect x="46.6" y="249.3" width="11.7" height="4.0" fill="#3fa9f5"/>
<rect x="58.0" y="249.3" width="4.0" height="4.0" fill="#b6e6f9"/>
<rect x="65.7" y="249.3" width="4.0" height="4.0" fill="#3fa9f5"/>
<rect x="69.5" y="249.3" width="4.0" height="4.0" fill="#b6e6f9"/>
<rect x="73.3" y="249.3" width="4.0" height="4.0" fill="#3fa9f5"/>
<rect x="77.2" y="249.3" width="7.8" height="4.0" fill="#b6e6f9"/>
<rect x="84.8" y="249.3" width="7.8" height="4.0" fill="#3fa9f5"/>
<rect x="92.4" y="249.3" width="7.8" height="4.0" fill="#b6e6f9"/>
<rect x="35.1" y="253.1" width="7.8" height="4.0" fill="#3fa9f5"/>
<rect x="42.8" y="253.1" width="4.0" height="4.0" fill="#b6e6f9"/>
<rect x="46.6" y="253.1" width="4.0" height="4.0" fill="#3fa9f5"/>
<rect x="50.4" y="253.1" width="4.0" height="4.0" fill="#b6e6f9"/>
<rect x="54.2" y="253.1" width="26.9" height="4.0" fill="#3fa9f5"/>
<rect x="81.0" y="253.1" width="15.5" height="4.0" fill="#b6e6f9"/>
<rect x="96.3" y="253.1" width="4.0" height="4.0" fill="#3fa9f5"/>
<rect x="35.1" y="257.0" width="4.0" height="4.0" fill="#3fa9f5"/>
<rect x="38.9" y="257.0" width="4.0" height="4.0" fill="#b6e6f9"/>
<rect x="42.8" y="257.0" width="4.0" height="4.0" fill="#3fa9f5"/>
<rect x="46.6" y="257.0" width="4.0" height="4.0" fill="#b6e6f9"/>
<rect x="50.4" y="257.0" width="19.3" height="4.0" fill="#3fa9f5"/>
<rect x="69.5" y="257.0" width="7.8" height="4.0" fill="#b6e6f9"/>
<rect x="77.2" y="257.0" width="7.8" height="4.0" fill="#3fa9f5"/>
<rect x="84.8" y="257.0" width="4.0" height="4.0" fill="#b6e6f9"/>
<rect x="88.6" y="257.0" width="4.0" height="4.0" fill="#3fa9f5"/>
<rect x="92.4" y="257.0" width="7.8" height="4.0" fill="#b6e6f9"/>
<rect x="35.1" y="260.8" width="4.0" height="4.0" fill="#3fa9f5"/>
<rect x="38.9" y="260.8" width="4.0" height="4.0" fill="#b6e6f9"/>
<rect x="42.8" y="260.8" width="11.7" height="4.0" fill="#3fa9f5"/>
<rect x="54.2" y="260.8" width="4.0" height="4.0" fill="#b6e6f9"/>
<rect x="58.0" y="260.8" width="7.8" height="4.0" fill="#3fa9f5"/>
<rect x="65.7" y="260.8" width="4.0" height="4.0" fill="#b6e6f9"/>
<rect x="69.5" y="260.8" width="4.0" height="4.0" fill="#3fa9f5"/>
<rect x="73.3" y="260.8" width="7.8" height="4.0" fill="#b6e6f9"/>
<rect x="81.0" y="260.8" width="11.7" height="4.0" fill="#3fa9f5"/>
<rect x="92.4" y="260.8" width="7.8" height="4.0" fill="#b6e6f9"/>
<rect x="35.1" y="264.6" width="4.0" height="4.0" fill="#3fa9f5"/>
<rect x="38.9" y="264.6" width="4.0" height="4.0" fill="#b6e6f9"/>
<rect x="42.8" y="264.6" width="4.0" height="4.0" fill="#3fa9f5"/>
<rect x="46.6" y="264.6" width="4.0" height="4.0" fill="#b6e6f9"/>
<rect x="50.4" y="264.6" width="11.7" height="4.0" fill="#3fa9f5"/>
<rect x="61.9" y="264.6" width="4.0" height="4.0" fill="#b6e6f9"/>
<rect x="65.7" y="264.6" width="4.0" height="4.0" fill="#3fa9f5"/>
<rect x="73.3" y="264.6" width="4.0" height="4.0" fill="#3fa9f5"/>
<rect x="77.2" y="264.6" width="4.0" height="4.0" fill="#b6e6f9"/>
<rect x="81.0" y="264.6" width="4.0" height="4.0" fill="#3fa9f5"/>
<rect x="84.8" y="264.6" width="7.8" height="4.0" fill="#b6e6f9"/>
<rect x="96.3" y="264.6" width="4.0" height="4.0" fill="#b6e6f9"/>
<rect x="35.1" y="268.4" width="4.0" height="4.0" fill="#b6e6f9"/>
<rect x="38.9" y="268.4" width="4.0" height="4.0" fill="#3fa9f5"/>
<rect x="42.8" y="268.4" width="4.0" height="4.0" fill="#b6e6f9"/>
<rect x="46.6" y="268.4" width="4.0" height="4.0" fill="#3fa9f5"/>
<rect x="50.4" y="268.4" width="7.8" height="4.0" fill="#b6e6f9"/>
<rect x="58.0" y="268.4" width="4.0" height="4.0" fill="#3fa9f5"/>
<rect x="61.9" y="268.4" width="15.5" height="4.0" fill="#b6e6f9"/>
<rect x="77.2" y="268.4" width="11.7" height="4.0" fill="#3fa9f5"/>
<rect x="88.6" y="268.4" width="4.0" height="4.0" fill="#b6e6f9"/>
<rect x="92.4" y="268.4" width="4.0" height="4.0" fill="#3fa9f5"/>
<rect x="31.3" y="272.3" width="7.8" height="4.0" fill="#b6e6f9"/>
<rect x="38.9" y="272.3" width="4.0" height="4.0" fill="#000080"/>
<rect x="46.6" y="272.3" width="4.0" height="4.0" fill="#3fa9f5"/>
<rect x="50.4" y="272.3" width="4.0" height="4.0" fill="#b6e6f9"/>
<rect x="54.2" y="272.3" width="7.8" height="4.0" fill="#3fa9f5"/>
<rect x="61.9" y="272.3" width="7.8" height="4.0" fill="#b6e6f9"/>
<rect x="69.5" y="272.3" width="7.8" height="4.0" fill="#3fa9f5"/>
<rect x="77.2" y="272.3" width="4.0" height="4.0" fill="#b6e6f9"/>
<rect x="81.0" y="272.3" width="11.7" height="4.0" fill="#3fa9f5"/>
<rect x="92.4" y="272.3" width="4.0" height="4.0" fill="#b6e6f9"/>
<rect x="31.3" y="276.1" width="7.8" height="4.0" fill="#b6e6f9"/>
<rect x="38.9" y="276.1" width="4.0" height="4.0" fill="#000080"/>
<rect x="42.8" y="276.1" width="4.0" height="4.0" fill="#b6e6f9"/>
<rect x="46.6" y="276.1" width="26.9" height="4.0" fill="#3fa9f5"/>
<rect x="73.3" y="276.1" width="7.8" height="4.0" fill="#b6e6f9"/>
<rect x="81.0" y="276.1" width="4.0" height="4.0" fill="#3fa9f5"/>
<rect x="84.8" y="276.1" width="7.8" height="4.0" fill="#b6e6f9"/>
<rect x="31.3" y="279.9" width="4.0" height="4.0" fill="#b6e6f9"/>
<rect x="35.1" y="279.9" width="7.8" height="4.0" fill="#3fa9f5"/>
<rect x="42.8" y="279.9" width="4.0" height="4.0" fill="#b6e6f9"/>
<rect x="46.6" y="279.9" width="4.0" height="4.0" fill="#000080"/>
<rect x="50.4" y="279.9" width="7.8" height="4.0" fill="#b6e6f9"/>
<rect x="58.0" y="279.9" width="11.7" height="4.0" fill="#3fa9f5"/>
<rect x="69.5" y="279.9" width="4.0" height="4.0" fill="#b6e6f9"/>
<rect x="73.3" y="279.9" width="4.0" height="4.0" fill="#3fa9f5"/>
<rect x="77.2" y="279.9" width="7.8" height="4.0" fill="#b6e6f9"/>
<rect x="84.8" y="279.9" width="4.0" height="4.0" fill="#3fa9f5"/>
<rect x="88.6" y="279.9" width="7.8" height="4.0" fill="#b6e6f9"/>
<rect x="31.3" y="283.8" width="4.0" height="4.0" fill="#b6e6f9"/>
<rect x="35.1" y="283.8" width="19.3" height="4.0" fill="#3fa9f5"/>
<rect x="58.0" y="283.8" width="11.7" height="4.0" fill="#3fa9f5"/>
<rect x="69.5" y="283.8" width="4.0" height="4.0" fill="#b6e6f9"/>
<rect x="73.3" y="283.8" width="7.8" height="4.0" fill="#3fa9f5"/>
<rect x="81.0" y="283.8" width="7.8" height="4.0" fill="#b6e6f9"/>
<rect x="88.6" y="283.8" width="4.0" height="4.0" fill="#3fa9f5"/>
<rect x="92.4" y="283.8" width="4.0" height="4.0" fill="#b6e6f9"/>
<rect x="31.3" y="287.6" width="4.0" height="4.0" fill="#3fa9f5"/>
<rect x="35.1" y="287.6" width="4.0" height="4.0" fill="#000080"/>
<rect x="42.8" y="287.6" width="15.5" height="4.0" fill="#b6e6f9"/>
<rect x="58.0" y="287.6" width="11.7" height="4.0" fill="#3fa9f5"/>
<rect x="69.5" y="287.6" width="7.8" height="4.0" fill="#b6e6f9"/>
<rect x="81.0" y="287.6" width="4.0" height="4.0" fill="#3fa9f5"/>
<rect x="84.8" y="287.6" width="11.7" height="4.0" fill="#b6e6f9"/>
<rect x="31.3" y="291.4" width="4.0" height="4.0" fill="#3fa9f5"/>
<rect x="35.1" y="291.4" width="4.0" height="4.0" fill="#b6e6f9"/>
<rect x="38.9" y="291.4" width="4.0" height="4.0" fill="#3fa9f5"/>
<rect x="42.8" y="291.4" width="4.0" height="4.0" fill="#b6e6f9"/>
<rect x="46.6" y="291.4" width="7.8" height="4.0" fill="#3fa9f5"/>
<rect x="54.2" y="291.4" width="4.0" height="4.0" fill="#b6e6f9"/>
<rect x="58.0" y="291.4" width="19.3" height="4.0" fill="#3fa9f5"/>
<rect x="77.2" y="291.4" width="7.8" height="4.0" fill="#b6e6f9"/>
<rect x="84.8" y="291.4" width="7.8" height="4.0" fill="#3fa9f5"/>
<rect x="92.4" y="291.4" width="4.0" height="4.0" fill="#b6e6f9"/>
<rect x="31.3" y="295.3" width="4.0" height="4.0" fill="#b6e6f9"/>
<rect x="35.1" y="295.3" width="4.0" height="4.0" fill="#3fa9f5"/>
<rect x="38.9" y="295.3" width="19.3" height="4.0" fill="#b6e6f9"/>
<rect x="58.0" y="295.3" width="7.8" height="4.0" fill="#3fa9f5"/>
<rect x="65.7" y="295.3" width="4.0" height="4.0" fill="#b6e6f9"/>
<rect x="69.5" y="295.3" width="4.0" height="4.0" fill="#3fa9f5"/>
<rect x="73.3" y="295.3" width="15.5" height="4.0" fill="#b6e6f9"/>
<rect x="88.6" y="295.3" width="4.0" height="4.0" fill="#000080"/>
<rect x="92.4" y="295.3" width="4.0" height="4.0" fill="#b6e6f9"/>
<rect x="31.3" y="299.1" width="11.7" height="4.0" fill="#b6e6f9"/>
<rect x="42.8" y="299.1" width="11.7" height="4.0" fill="#3fa9f5"/>
<rect x="54.2" y="299.1" width="7.8" height="4.0" fill="#b6e6f9"/>
<rect x="61.9" y="299.1" width="15.5" height="4.0" fill="#000080"/>
<rect x="77.2" y="299.1" width="4.0" height="4.0" fill="#b6e6f9"/>
<rect x="81.0" y="299.1" width="4.0" height="4.0" fill="#3fa9f5"/>
<rect x="84.8" y="299.1" width="7.8" height="4.0" fill="#b6e6f9"/>
<rect x="92.4" y="299.1" width="4.0" height="4.0" fill="#3fa9f5"/>
<rect x="31.3" y="302.9" width="15.5" height="4.0" fill="#b6e6f9"/>
<rect x="46.6" y="302.9" width="7.8" height="4.0" fill="#3fa9f5"/>
<rect x="54.2" y="302.9" width="4.0" height="4.0" fill="#b6e6f9"/>
<rect x="58.0" y="302.9" width="7.8" height="4.0" fill="#3fa9f5"/>
<rect x="65.7" y="302.9" width="4.0" height="4.0" fill="#000080"/>
<rect x="69.5" y="302.9" width="4.0" height="4.0" fill="#3fa9f5"/>
<rect x="73.3" y="302.9" width="4.0" height="4.0" fill="#b6e6f9"/>
<rect x="77.2" y="302.9" width="15.5" height="4.0" fill="#3fa9f5"/>
<rect x="92.4" y="302.9" width="4.0" height="4.0" fill="#b6e6f9"/>
<rect x="31.3" y="306.8" width="4.0" height="4.0" fill="#b6e6f9"/>
<rect x="35.1" y="306.8" width="4.0" height="4.0" fill="#3fa9f5"/>
<rect x="38.9" y="306.8" width="4.0" height="4.0" fill="#b6e6f9"/>
<rect x="42.8" y="306.8" width="4.0" height="4.0" fill="#3fa9f5"/>
<rect x="46.6" y="306.8" width="7.8" height="4.0" fill="#b6e6f9"/>
<rect x="54.2" y="306.8" width="4.0" height="4.0" fill="#3fa9f5"/>
<rect x="58.0" y="306.8" width="4.0" height="4.0" fill="#b6e6f9"/>
<rect x="61.9" y="306.8" width="4.0" height="4.0" fill="#000080"/>
<rect x="65.7" y="306.8" width="4.0" height="4.0" fill="#3fa9f5"/>
<rect x="69.5" y="306.8" width="4.0" height="4.0" fill="#b6e6f9"/>
<rect x="73.3" y="306.8" width="15.5" height="4.0" fill="#3fa9f5"/>
<rect x="88.6" y="306.8" width="4.0" height="4.0" fill="#b6e6f9"/>
<rect x="31.3" y="310.6" width="7.8" height="4.0" fill="#3fa9f5"/>
<rect x="38.9" y="310.6" width="7.8" height="4.0" fill="#b6e6f9"/>
<rect x="46.6" y="310.6" width="11.7" height="4.0" fill="#3fa9f5"/>
<rect x="58.0" y="310.6" width="4.0" height="4.0" fill="#b6e6f9"/>
<rect x="61.9" y="310.6" width="4.0" height="4.0" fill="#3fa9f5"/>
<rect x="65.7" y="310.6" width="7.8" height="4.0" fill="#b6e6f9"/>
<rect x="73.3" y="310.6" width="4.0" height="4.0" fill="#3fa9f5"/>
<rect x="77.2" y="310.6" width="7.8" height="4.0" fill="#b6e6f9"/>
<rect x="84.8" y="310.6" width="4.0" height="4.0" fill="#3fa9f5"/>
<rect x="88.6" y="310.6" width="4.0" height="4.0" fill="#b6e6f9"/>
<rect x="92.4" y="310.6" width="4.0" height="4.0" fill="#000080"/>
<rect x="96.3" y="310.6" width="4.0" height="4.0" fill="#3fa9f5"/>
<rect x="31.3" y="314.4" width="4.0" height="4.0" fill="#b6e6f9"/>
<rect x="35.1" y="314.4" width="4.0" height="4.0" fill="#3fa9f5"/>
<rect x="38.9" y="314.4" width="4.0" height="4.0" fill="#000080"/>
<rect x="42.8" y="314.4" width="4.0" height="4.0" fill="#b6e6f9"/>
<rect x="46.6" y="314.4" width="4.0" height="4.0" fill="#3fa9f5"/>
<rect x="54.2" y="314.4" width="7.8" height="4.0" fill="#3fa9f5"/>
<rect x="65.7" y="314.4" width="4.0" height="4.0" fill="#3fa9f5"/>
<rect x="69.5" y="314.4" width="4.0" height="4.0" fill="#b6e6f9"/>
<rect x="73.3" y="314.4" width="7.8" height="4.0" fill="#3fa9f5"/>
<rect x="81.0" y="314.4" width="4.0" height="4.0" fill="#b6e6f9"/>
<rect x="84.8" y="314.4" width="7.8" height="4.0" fill="#3fa9f5"/>
<rect x="92.4" y="314.4" width="4.0" height="4.0" fill="#b6e6f9"/>
<rect x="31.3" y="318.3" width="4.0" height="4.0" fill="#3fa9f5"/>
<rect x="35.1" y="318.3" width="7.8" height="4.0" fill="#b6e6f9"/>
<rect x="42.8" y="318.3" width="4.0" height="4.0" fill="#3fa9f5"/>
<rect x="46.6" y="318.3" width="4.0" height="4.0" fill="#b6e6f9"/>
<rect x="50.4" y="318.3" width="4.0" height="4.0" fill="#3fa9f5"/>
<rect x="54.2" y="318.3" width="4.0" height="4.0" fill="#b6e6f9"/>
<rect x="58.0" y="318.3" width="7.8" height="4.0" fill="#3fa9f5"/>
<rect x="65.7" y="318.3" width="4.0" height="4.0" fill="#b6e6f9"/>
<rect x="69.5" y="318.3" width="4.0" height="4.0" fill="#3fa9f5"/>
<rect x="73.3" y="318.3" width="4.0" height="4.0" fill="#b6e6f9"/>
<rect x="77.2" y="318.3" width="7.8" height="4.0" fill="#3fa9f5"/>
<rect x="84.8" y="318.3" width="4.0" height="4.0" fill="#b6e6f9"/>
<rect x="88.6" y="318.3" width="4.0" height="4.0" fill="#3fa9f5"/>
<rect x="92.4" y="318.3" width="4.0" height="4.0" fill="#b6e6f9"/>
<rect x="31.3" y="322.1" width="11.7" height="4.0" fill="#3fa9f5"/>
<rect x="42.8" y="322.1" width="11.7" height="4.0" fill="#000080"/>
<rect x="54.2" y="322.1" width="19.3" height="4.0" fill="#3fa9f5"/>
<rect x="77.2" y="322.1" width="4.0" height="4.0" fill="#b6e6f9"/>
<rect x="81.0" y="322.1" width="11.7" height="4.0" fill="#3fa9f5"/>
<rect x="31.3" y="325.9" width="26.9" height="4.0" fill="#3fa9f5"/>
<rect x="58.0" y="325.9" width="7.8" height="4.0" fill="#b6e6f9"/>
<rect x="65.7" y="325.9" width="4.0" height="4.0" fill="#3fa9f5"/>
<rect x="69.5" y="325.9" width="4.0" height="4.0" fill="#000080"/>
<rect x="73.3" y="325.9" width="4.0" height="4.0" fill="#3fa9f5"/>
<rect x="77.2" y="325.9" width="4.0" height="4.0" fill="#b6e6f9"/>
<rect x="81.0" y="325.9" width="7.8" height="4.0" fill="#3fa9f5"/>
<rect x="88.6" y="325.9" width="4.0" height="4.0" fill="#b6e6f9"/>
<rect x="31.3" y="329.8" width="4.0" height="4.0" fill="#3fa9f5"/>
<rect x="35.1" y="329.8" width="4.0" height="4.0" fill="#b6e6f9"/>
<rect x="38.9" y="329.8" width="11.7" height="4.0" fill="#3fa9f5"/>
<rect x="50.4" y="329.8" width="7.8" height="4.0" fill="#b6e6f9"/>
<rect x="58.0" y="329.8" width="7.8" height="4.0" fill="#3fa9f5"/>
<rect x="65.7" y="329.8" width="4.0" height="4.0" fill="#b6e6f9"/>
<rect x="69.5" y="329.8" width="7.8" height="4.0" fill="#3fa9f5"/>
<rect x="77.2" y="329.8" width="4.0" height="4.0" fill="#b6e6f9"/>
<rect x="81.0" y="329.8" width="4.0" height="4.0" fill="#3fa9f5"/>
<rect x="84.8" y="329.8" width="7.8" height="4.0" fill="#b6e6f9"/>
<rect x="31.3" y="333.6" width="7.8" height="4.0" fill="#3fa9f5"/>
<rect x="38.9" y="333.6" width="7.8" height="4.0" fill="#b6e6f9"/>
<rect x="46.6" y="333.6" width="11.7" height="4.0" fill="#3fa9f5"/>
<rect x="58.0" y="333.6" width="4.0" height="4.0" fill="#b6e6f9"/>
<rect x="61.9" y="333.6" width="11.7" height="4.0" fill="#3fa9f5"/>
<rect x="73.3" y="333.6" width="4.0" height="4.0" fill="#b6e6f9"/>
<rect x="77.2" y="333.6" width="4.0" height="4.0" fill="#000080"/>
<rect x="81.0" y="333.6" width="4.0" height="4.0" fill="#3fa9f5"/>
<rect x="84.8" y="333.6" width="4.0" height="4.0" fill="#b6e6f9"/>
<rect x="31.3" y="337.4" width="15.5" height="4.0" fill="#b6e6f9"/>
<rect x="46.6" y="337.4" width="4.0" height="4.0" fill="#3fa9f5"/>
<rect x="50.4" y="337.4" width="4.0" height="4.0" fill="#b6e6f9"/>
<rect x="58.0" y="337.4" width="4.0" height="4.0" fill="#b6e6f9"/>
<rect x="65.7" y="337.4" width="4.0" height="4.0" fill="#3fa9f5"/>
<rect x="69.5" y="337.4" width="4.0" height="4.0" fill="#b6e6f9"/>
<rect x="73.3" y="337.4" width="7.8" height="4.0" fill="#3fa9f5"/>
<rect x="81.0" y="337.4" width="11.7" height="4.0" fill="#b6e6f9"/>
<rect x="31.3" y="341.3" width="4.0" height="4.0" fill="#b6e6f9"/>
<rect x="35.1" y="341.3" width="7.8" height="4.0" fill="#3fa9f5"/>
<rect x="42.8" y="341.3" width="4.0" height="4.0" fill="#b6e6f9"/>
<rect x="46.6" y="341.3" width="7.8" height="4.0" fill="#3fa9f5"/>
<rect x="58.0" y="341.3" width="15.5" height="4.0" fill="#3fa9f5"/>
<rect x="73.3" y="341.3" width="4.0" height="4.0" fill="#b6e6f9"/>
<rect x="77.2" y="341.3" width="7.8" height="4.0" fill="#3fa9f5"/>
<rect x="84.8" y="341.3" width="4.0" height="4.0" fill="#b6e6f9"/>
<rect x="31.3" y="345.1" width="4.0" height="4.0" fill="#b6e6f9"/>
<rect x="35.1" y="345.1" width="7.8" height="4.0" fill="#3fa9f5"/>
<rect x="42.8" y="345.1" width="7.8" height="4.0" fill="#b6e6f9"/>
<rect x="50.4" y="345.1" width="11.7" height="4.0" fill="#3fa9f5"/>
<rect x="61.9" y="345.1" width="4.0" height="4.0" fill="#b6e6f9"/>
<rect x="65.7" y="345.1" width="4.0" height="4.0" fill="#3fa9f5"/>
<rect x="69.5" y="345.1" width="4.0" height="4.0" fill="#b6e6f9"/>
<rect x="73.3" y="345.1" width="7.8" height="4.0" fill="#3fa9f5"/>
<rect x="81.0" y="345.1" width="4.0" height="4.0" fill="#b6e6f9"/>
<rect x="35.1" y="348.9" width="11.7" height="4.0" fill="#3fa9f5"/>
<rect x="46.6" y="348.9" width="26.9" height="4.0" fill="#b6e6f9"/>
<rect x="73.3" y="348.9" width="11.7" height="4.0" fill="#3fa9f5"/>
<rect x="31.3" y="352.7" width="4.0" height="4.0" fill="#3fa9f5"/>
<rect x="35.1" y="352.7" width="4.0" height="4.0" fill="#b6e6f9"/>
<rect x="38.9" y="352.7" width="4.0" height="4.0" fill="#3fa9f5"/>
<rect x="42.8" y="352.7" width="4.0" height="4.0" fill="#b6e6f9"/>
<rect x="54.2" y="352.7" width="4.0" height="4.0" fill="#b6e6f9"/>
<rect x="61.9" y="352.7" width="4.0" height="4.0" fill="#b6e6f9"/>
<rect x="65.7" y="352.7" width="4.0" height="4.0" fill="#3fa9f5"/>
<rect x="77.2" y="352.7" width="4.0" height="4.0" fill="#3fa9f5"/>
<rect x="81.0" y="352.7" width="4.0" height="4.0" fill="#b6e6f9"/>
<rect x="31.3" y="356.6" width="4.0" height="4.0" fill="#3fa9f5"/>
<rect x="35.1" y="356.6" width="4.0" height="4.0" fill="#b6e6f9"/>
<rect x="42.8" y="356.6" width="4.0" height="4.0" fill="#b6e6f9"/>
<rect x="46.6" y="356.6" width="4.0" height="4.0" fill="#3fa9f5"/>
<rect x="54.2" y="356.6" width="7.8" height="4.0" fill="#b6e6f9"/>
<rect x="65.7" y="356.6" width="7.8" height="4.0" fill="#b6e6f9"/>
<rect x="77.2" y="356.6" width="4.0" height="4.0" fill="#b6e6f9"/>
<rect x="31.3" y="360.4" width="11.7" height="4.0" fill="#3fa9f5"/>
<rect x="42.8" y="360.4" width="7.8" height="4.0" fill="#b6e6f9"/>
<rect x="50.4" y="360.4" width="7.8" height="4.0" fill="#3fa9f5"/>
<rect x="58.0" y="360.4" width="4.0" height="4.0" fill="#b6e6f9"/>
<rect x="61.9" y="360.4" width="4.0" height="4.0" fill="#3fa9f5"/>
<rect x="65.7" y="360.4" width="4.0" height="4.0" fill="#b6e6f9"/>
<rect x="69.5" y="360.4" width="4.0" height="4.0" fill="#3fa9f5"/>
<rect x="73.3" y="360.4" width="4.0" height="4.0" fill="#b6e6f9"/>
<rect x="35.1" y="364.2" width="4.0" height="4.0" fill="#b6e6f9"/>
<rect x="38.9" y="364.2" width="4.0" height="4.0" fill="#3fa9f5"/>
<rect x="42.8" y="364.2" width="7.8" height="4.0" fill="#b6e6f9"/>
<rect x="50.4" y="364.2" width="11.7" height="4.0" fill="#3fa9f5"/>
<rect x="65.7" y="364.2" width="7.8" height="4.0" fill="#b6e6f9"/>
<rect x="31.3" y="368.1" width="7.8" height="4.0" fill="#3fa9f5"/>
<rect x="38.9" y="368.1" width="7.8" height="4.0" fill="#b6e6f9"/>
<rect x="54.2" y="368.1" width="7.8" height="4.0" fill="#b6e6f9"/>
<rect x="65.7" y="368.1" width="4.0" height="4.0" fill="#b6e6f9"/>
<rect x="31.3" y="371.9" width="4.0" height="4.0" fill="#b6e6f9"/>
<rect x="38.9" y="371.9" width="4.0" height="4.0" fill="#3fa9f5"/>
<rect x="42.8" y="371.9" width="4.0" height="4.0" fill="#b6e6f9"/>
<rect x="54.2" y="371.9" width="4.0" height="4.0" fill="#3fa9f5"/>
<rect x="58.0" y="371.9" width="4.0" height="4.0" fill="#b6e6f9"/>
<rect x="31.3" y="375.7" width="4.0" height="4.0" fill="#3fa9f5"/>
<rect x="42.8" y="375.7" width="7.8" height="4.0" fill="#3fa9f5"/>
<rect x="50.4" y="375.7" width="4.0" height="4.0" fill="#b6e6f9"/>
<rect x="31.3" y="379.6" width="4.0" height="4.0" fill="#b6e6f9"/>
<rect x="35.1" y="379.6" width="4.0" height="4.0" fill="#3fa9f5"/>
<rect x="38.9" y="379.6" width="4.0" height="4.0" fill="#b6e6f9"/>
</g>
<path d="M31.40 226.40V383.50M35.22 226.40V383.50M39.04 226.40V383.50M42.86 226.40V383.50M46.68 226.40V383.50M50.51 226.40V383.50M54.33 226.40V383.50M58.15 226.40V383.50M61.97 226.40V383.50M65.79 226.40V383.50M69.61 226.40V383.50M73.43 226.40V383.50M77.25 226.40V383.50M81.07 226.40V383.50M84.89 226.40V383.50M88.72 226.40V383.50M92.54 226.40V383.50M96.36 226.40V383.50M100.18 226.40V383.50M104.00 226.40V383.50M31.40 226.40H104.00M31.40 230.23H104.00M31.40 234.06H104.00M31.40 237.90H104.00M31.40 241.73H104.00M31.40 245.56H104.00M31.40 249.39H104.00M31.40 253.22H104.00M31.40 257.05H104.00M31.40 260.89H104.00M31.40 264.72H104.00M31.40 268.55H104.00M31.40 272.38H104.00M31.40 276.21H104.00M31.40 280.04H104.00M31.40 283.88H104.00M31.40 287.71H104.00M31.40 291.54H104.00M31.40 295.37H104.00M31.40 299.20H104.00M31.40 303.03H104.00M31.40 306.87H104.00M31.40 310.70H104.00M31.40 314.53H104.00M31.40 318.36H104.00M31.40 322.19H104.00M31.40 326.02H104.00M31.40 329.86H104.00M31.40 333.69H104.00M31.40 337.52H104.00M31.40 341.35H104.00M31.40 345.18H104.00M31.40 349.01H104.00M31.40 352.85H104.00M31.40 356.68H104.00M31.40 360.51H104.00M31.40 364.34H104.00M31.40 368.17H104.00M31.40 372.00H104.00M31.40 375.84H104.00M31.40 379.67H104.00M31.40 383.50H104.00" stroke="#a0a0a0" stroke-width="0.6" fill="none" opacity="0.5"/>
<path d="M208.20 225.10V382.00M212.03 225.10V382.00M215.86 225.10V382.00M219.69 225.10V382.00M223.53 225.10V382.00M227.36 225.10V382.00M231.19 225.10V382.00M235.02 225.10V382.00M238.85 225.10V382.00M242.68 225.10V382.00M246.52 225.10V382.00M250.35 225.10V382.00M254.18 225.10V382.00M258.01 225.10V382.00M261.84 225.10V382.00M265.67 225.10V382.00M269.51 225.10V382.00M273.34 225.10V382.00M277.17 225.10V382.00M281.00 225.10V382.00M208.20 225.10H281.00M208.20 228.93H281.00M208.20 232.75H281.00M208.20 236.58H281.00M208.20 240.41H281.00M208.20 244.23H281.00M208.20 248.06H281.00M208.20 251.89H281.00M208.20 255.71H281.00M208.20 259.54H281.00M208.20 263.37H281.00M208.20 267.20H281.00M208.20 271.02H281.00M208.20 274.85H281.00M208.20 278.68H281.00M208.20 282.50H281.00M208.20 286.33H281.00M208.20 290.16H281.00M208.20 293.98H281.00M208.20 297.81H281.00M208.20 301.64H281.00M208.20 305.46H281.00M208.20 309.29H281.00M208.20 313.12H281.00M208.20 316.94H281.00M208.20 320.77H281.00M208.20 324.60H281.00M208.20 328.42H281.00M208.20 332.25H281.00M208.20 336.08H281.00M208.20 339.90H281.00M208.20 343.73H281.00M208.20 347.56H281.00M208.20 351.39H281.00M208.20 355.21H281.00M208.20 359.04H281.00M208.20 362.87H281.00M208.20 366.69H281.00M208.20 370.52H281.00M208.20 374.35H281.00M208.20 378.17H281.00M208.20 382.00H281.00" stroke="#b8b8b8" stroke-width="0.75" fill="none"/>
<g shape-rendering="crispEdges">
<rect x="223.4" y="225.0" width="27.0" height="4.0" fill="#ff7f7f"/>
<rect x="219.6" y="228.8" width="4.0" height="4.0" fill="#ff7f7f"/>
<rect x="223.4" y="228.8" width="4.0" height="4.0" fill="#ff0000"/>
<rect x="227.3" y="228.8" width="11.7" height="4.0" fill="#ff7f7f"/>
<rect x="238.8" y="228.8" width="4.0" height="4.0" fill="#ffc0c0"/>
<rect x="242.6" y="228.8" width="19.4" height="4.0" fill="#ff7f7f"/>
<rect x="261.7" y="228.8" width="4.0" height="4.0" fill="#ffc0c0"/>
<rect x="219.6" y="232.7" width="4.0" height="4.0" fill="#ff0000"/>
<rect x="223.4" y="232.7" width="4.0" height="4.0" fill="#ffc0c0"/>
<rect x="227.3" y="232.7" width="19.4" height="4.0" fill="#ff7f7f"/>
<rect x="246.4" y="232.7" width="4.0" height="4.0" fill="#ff0000"/>
<rect x="250.2" y="232.7" width="30.9" height="4.0" fill="#ff7f7f"/>
<rect x="219.6" y="236.5" width="4.0" height="4.0" fill="#ff0000"/>
<rect x="223.4" y="236.5" width="15.5" height="4.0" fill="#ffc0c0"/>
<rect x="238.8" y="236.5" width="42.3" height="4.0" fill="#ff7f7f"/>
<rect x="215.8" y="240.3" width="4.0" height="4.0" fill="#ff7f7f"/>
<rect x="219.6" y="240.3" width="4.0" height="4.0" fill="#ff0000"/>
<rect x="223.4" y="240.3" width="4.0" height="4.0" fill="#ff7f7f"/>
<rect x="227.3" y="240.3" width="4.0" height="4.0" fill="#ff0000"/>
<rect x="231.1" y="240.3" width="11.7" height="4.0" fill="#ff7f7f"/>
<rect x="242.6" y="240.3" width="4.0" height="4.0" fill="#ffc0c0"/>
<rect x="246.4" y="240.3" width="11.7" height="4.0" fill="#ff7f7f"/>
<rect x="257.9" y="240.3" width="4.0" height="4.0" fill="#ff0000"/>
<rect x="261.7" y="240.3" width="15.5" height="4.0" fill="#ff7f7f"/>
<rect x="277.1" y="240.3" width="4.0" height="4.0" fill="#ffc0c0"/>
<rect x="215.8" y="244.1" width="4.0" height="4.0" fill="#ff7f7f"/>
<rect x="219.6" y="244.1" width="7.9" height="4.0" fill="#ff0000"/>
<rect x="227.3" y="244.1" width="11.7" height="4.0" fill="#ff7f7f"/>
<rect x="238.8" y="244.1" width="7.9" height="4.0" fill="#ffc0c0"/>
<rect x="246.4" y="244.1" width="4.0" height="4.0" fill="#ff0000"/>
<rect x="250.2" y="244.1" width="7.9" height="4.0" fill="#ff7f7f"/>
<rect x="257.9" y="244.1" width="7.9" height="4.0" fill="#ff0000"/>
<rect x="265.6" y="244.1" width="11.7" height="4.0" fill="#ff7f7f"/>
<rect x="215.8" y="248.0" width="7.9" height="4.0" fill="#ff0000"/>
<rect x="223.4" y="248.0" width="7.9" height="4.0" fill="#ff7f7f"/>
<rect x="231.1" y="248.0" width="4.0" height="4.0" fill="#ffc0c0"/>
<rect x="234.9" y="248.0" width="4.0" height="4.0" fill="#ff7f7f"/>
<rect x="238.8" y="248.0" width="4.0" height="4.0" fill="#ff0000"/>
<rect x="242.6" y="248.0" width="34.7" height="4.0" fill="#ff7f7f"/>
<rect x="211.9" y="251.8" width="4.0" height="4.0" fill="#ff7f7f"/>
<rect x="215.8" y="251.8" width="4.0" height="4.0" fill="#ff0000"/>
<rect x="219.6" y="251.8" width="15.5" height="4.0" fill="#ff7f7f"/>
<rect x="234.9" y="251.8" width="4.0" height="4.0" fill="#ffc0c0"/>
<rect x="238.8" y="251.8" width="4.0" height="4.0" fill="#ff7f7f"/>
<rect x="242.6" y="251.8" width="4.0" height="4.0" fill="#ffc0c0"/>
<rect x="246.4" y="251.8" width="4.0" height="4.0" fill="#ff7f7f"/>
<rect x="254.1" y="251.8" width="4.0" height="4.0" fill="#ff7f7f"/>
<rect x="257.9" y="251.8" width="4.0" height="4.0" fill="#ffc0c0"/>
<rect x="261.7" y="251.8" width="7.9" height="4.0" fill="#ff7f7f"/>
<rect x="269.4" y="251.8" width="4.0" height="4.0" fill="#ff0000"/>
<rect x="273.2" y="251.8" width="4.0" height="4.0" fill="#ff7f7f"/>
<rect x="211.9" y="255.6" width="4.0" height="4.0" fill="#ff7f7f"/>
<rect x="215.8" y="255.6" width="4.0" height="4.0" fill="#ff0000"/>
<rect x="219.6" y="255.6" width="15.5" height="4.0" fill="#ff7f7f"/>
<rect x="234.9" y="255.6" width="4.0" height="4.0" fill="#ffc0c0"/>
<rect x="238.8" y="255.6" width="4.0" height="4.0" fill="#ff7f7f"/>
<rect x="242.6" y="255.6" width="4.0" height="4.0" fill="#ffc0c0"/>
<rect x="246.4" y="255.6" width="15.5" height="4.0" fill="#ff7f7f"/>
<rect x="261.7" y="255.6" width="4.0" height="4.0" fill="#ffc0c0"/>
<rect x="265.6" y="255.6" width="11.7" height="4.0" fill="#ff7f7f"/>
<rect x="211.9" y="259.4" width="4.0" height="4.0" fill="#ff7f7f"/>
<rect x="215.8" y="259.4" width="4.0" height="4.0" fill="#ff0000"/>
<rect x="219.6" y="259.4" width="19.4" height="4.0" fill="#ff7f7f"/>
<rect x="238.8" y="259.4" width="4.0" height="4.0" fill="#ffc0c0"/>
<rect x="242.6" y="259.4" width="34.7" height="4.0" fill="#ff7f7f"/>
<rect x="211.9" y="263.3" width="4.0" height="4.0" fill="#ff7f7f"/>
<rect x="215.8" y="263.3" width="7.9" height="4.0" fill="#ff0000"/>
<rect x="223.4" y="263.3" width="4.0" height="4.0" fill="#ff7f7f"/>
<rect x="227.3" y="263.3" width="4.0" height="4.0" fill="#ff0000"/>
<rect x="231.1" y="263.3" width="11.7" height="4.0" fill="#ff7f7f"/>
<rect x="242.6" y="263.3" width="4.0" height="4.0" fill="#ffc0c0"/>
<rect x="246.4" y="263.3" width="4.0" height="4.0" fill="#ff7f7f"/>
<rect x="250.2" y="263.3" width="4.0" height="4.0" fill="#ffc0c0"/>
<rect x="254.1" y="263.3" width="4.0" height="4.0" fill="#ff7f7f"/>
<rect x="257.9" y="263.3" width="4.0" height="4.0" fill="#ffc0c0"/>
<rect x="261.7" y="263.3" width="11.7" height="4.0" fill="#ff7f7f"/>
<rect x="273.2" y="263.3" width="4.0" height="4.0" fill="#ffc0c0"/>
<rect x="211.9" y="267.1" width="4.0" height="4.0" fill="#ff7f7f"/>
<rect x="215.8" y="267.1" width="4.0" height="4.0" fill="#ff0000"/>
<rect x="219.6" y="267.1" width="4.0" height="4.0" fill="#ff7f7f"/>
<rect x="223.4" y="267.1" width="4.0" height="4.0" fill="#ffc0c0"/>
<rect x="227.3" y="267.1" width="4.0" height="4.0" fill="#ff7f7f"/>
<rect x="234.9" y="267.1" width="7.9" height="4.0" fill="#ff7f7f"/>
<rect x="242.6" y="267.1" width="4.0" height="4.0" fill="#ffc0c0"/>
<rect x="246.4" y="267.1" width="4.0" height="4.0" fill="#ff0000"/>
<rect x="250.2" y="267.1" width="4.0" height="4.0" fill="#ff7f7f"/>
<rect x="254.1" y="267.1" width="4.0" height="4.0" fill="#ff0000"/>
<rect x="257.9" y="267.1" width="4.0" height="4.0" fill="#ffc0c0"/>
<rect x="261.7" y="267.1" width="7.9" height="4.0" fill="#ff7f7f"/>
<rect x="269.4" y="267.1" width="4.0" height="4.0" fill="#ff0000"/>
<rect x="208.1" y="270.9" width="4.0" height="4.0" fill="#ffc0c0"/>
<rect x="211.9" y="270.9" width="7.9" height="4.0" fill="#ff0000"/>
<rect x="219.6" y="270.9" width="11.7" height="4.0" fill="#ff7f7f"/>
<rect x="231.1" y="270.9" width="4.0" height="4.0" fill="#ffc0c0"/>
<rect x="234.9" y="270.9" width="15.5" height="4.0" fill="#ff7f7f"/>
<rect x="250.2" y="270.9" width="4.0" height="4.0" fill="#ffc0c0"/>
<rect x="254.1" y="270.9" width="7.9" height="4.0" fill="#ff7f7f"/>
<rect x="265.6" y="270.9" width="4.0" height="4.0" fill="#ff7f7f"/>
<rect x="269.4" y="270.9" width="4.0" height="4.0" fill="#ff0000"/>
<rect x="208.1" y="274.7" width="4.0" height="4.0" fill="#ffc0c0"/>
<rect x="211.9" y="274.7" width="7.9" height="4.0" fill="#ff0000"/>
<rect x="219.6" y="274.7" width="4.0" height="4.0" fill="#ff7f7f"/>
<rect x="223.4" y="274.7" width="4.0" height="4.0" fill="#ffc0c0"/>
<rect x="227.3" y="274.7" width="4.0" height="4.0" fill="#ff0000"/>
<rect x="231.1" y="274.7" width="11.7" height="4.0" fill="#ff7f7f"/>
<rect x="242.6" y="274.7" width="4.0" height="4.0" fill="#ffc0c0"/>
<rect x="246.4" y="274.7" width="4.0" height="4.0" fill="#ff7f7f"/>
<rect x="250.2" y="274.7" width="4.0" height="4.0" fill="#ffc0c0"/>
<rect x="254.1" y="274.7" width="7.9" height="4.0" fill="#ff7f7f"/>
<rect x="261.7" y="274.7" width="4.0" height="4.0" fill="#ffc0c0"/>
<rect x="265.6" y="274.7" width="7.9" height="4.0" fill="#ff7f7f"/>
<rect x="208.1" y="278.6" width="4.0" height="4.0" fill="#ff7f7f"/>
<rect x="211.9" y="278.6" width="4.0" height="4.0" fill="#ff0000"/>
<rect x="215.8" y="278.6" width="4.0" height="4.0" fill="#ff7f7f"/>
<rect x="219.6" y="278.6" width="4.0" height="4.0" fill="#ffc0c0"/>
<rect x="223.4" y="278.6" width="4.0" height="4.0" fill="#ff0000"/>
<rect x="227.3" y="278.6" width="4.0" height="4.0" fill="#ffc0c0"/>
<rect x="231.1" y="278.6" width="7.9" height="4.0" fill="#ff7f7f"/>
<rect x="238.8" y="278.6" width="4.0" height="4.0" fill="#ffc0c0"/>
<rect x="242.6" y="278.6" width="4.0" height="4.0" fill="#ff0000"/>
<rect x="246.4" y="278.6" width="27.0" height="4.0" fill="#ff7f7f"/>
<rect x="208.1" y="282.4" width="4.0" height="4.0" fill="#ff7f7f"/>
<rect x="211.9" y="282.4" width="4.0" height="4.0" fill="#ff0000"/>
<rect x="215.8" y="282.4" width="27.0" height="4.0" fill="#ff7f7f"/>
<rect x="242.6" y="282.4" width="7.9" height="4.0" fill="#ffc0c0"/>
<rect x="250.2" y="282.4" width="7.9" height="4.0" fill="#ff7f7f"/>
<rect x="257.9" y="282.4" width="4.0" height="4.0" fill="#ff0000"/>
<rect x="261.7" y="282.4" width="11.7" height="4.0" fill="#ff7f7f"/>
<rect x="273.2" y="282.4" width="4.0" height="4.0" fill="#ffc0c0"/>
<rect x="208.1" y="286.2" width="7.9" height="4.0" fill="#ff0000"/>
<rect x="215.8" y="286.2" width="42.3" height="4.0" fill="#ff7f7f"/>
<rect x="257.9" y="286.2" width="11.7" height="4.0" fill="#ff0000"/>
<rect x="269.4" y="286.2" width="7.9" height="4.0" fill="#ff7f7f"/>
<rect x="208.1" y="290.1" width="7.9" height="4.0" fill="#ff0000"/>
<rect x="215.8" y="290.1" width="7.9" height="4.0" fill="#ff7f7f"/>
<rect x="223.4" y="290.1" width="4.0" height="4.0" fill="#ff0000"/>
<rect x="227.3" y="290.1" width="4.0" height="4.0" fill="#ffc0c0"/>
<rect x="231.1" y="290.1" width="4.0" height="4.0" fill="#ff0000"/>
<rect x="234.9" y="290.1" width="4.0" height="4.0" fill="#ff7f7f"/>
<rect x="238.8" y="290.1" width="4.0" height="4.0" fill="#ffc0c0"/>
<rect x="242.6" y="290.1" width="4.0" height="4.0" fill="#ff0000"/>
<rect x="246.4" y="290.1" width="4.0" height="4.0" fill="#ff7f7f"/>
<rect x="250.2" y="290.1" width="7.9" height="4.0" fill="#ffc0c0"/>
<rect x="257.9" y="290.1" width="4.0" height="4.0" fill="#ff7f7f"/>
<rect x="261.7" y="290.1" width="4.0" height="4.0" fill="#ffc0c0"/>
<rect x="265.6" y="290.1" width="11.7" height="4.0" fill="#ff7f7f"/>
<rect x="208.1" y="293.9" width="4.0" height="4.0" fill="#ff7f7f"/>
<rect x="211.9" y="293.9" width="4.0" height="4.0" fill="#ff0000"/>
<rect x="215.8" y="293.9" width="4.0" height="4.0" fill="#ff7f7f"/>
<rect x="219.6" y="293.9" width="7.9" height="4.0" fill="#ffc0c0"/>
<rect x="227.3" y="293.9" width="11.7" height="4.0" fill="#ff7f7f"/>
<rect x="238.8" y="293.9" width="4.0" height="4.0" fill="#ffc0c0"/>
<rect x="242.6" y="293.9" width="23.2" height="4.0" fill="#ff7f7f"/>
<rect x="265.6" y="293.9" width="4.0" height="4.0" fill="#ff0000"/>
<rect x="269.4" y="293.9" width="4.0" height="4.0" fill="#ffc0c0"/>
<rect x="273.2" y="293.9" width="4.0" height="4.0" fill="#ff7f7f"/>
<rect x="277.1" y="293.9" width="4.0" height="4.0" fill="#ffc0c0"/>
<rect x="208.1" y="297.7" width="4.0" height="4.0" fill="#ff7f7f"/>
<rect x="211.9" y="297.7" width="4.0" height="4.0" fill="#ff0000"/>
<rect x="215.8" y="297.7" width="4.0" height="4.0" fill="#ffc0c0"/>
<rect x="219.6" y="297.7" width="7.9" height="4.0" fill="#ff7f7f"/>
<rect x="227.3" y="297.7" width="11.7" height="4.0" fill="#ffc0c0"/>
<rect x="238.8" y="297.7" width="4.0" height="4.0" fill="#ff7f7f"/>
<rect x="242.6" y="297.7" width="4.0" height="4.0" fill="#ff0000"/>
<rect x="246.4" y="297.7" width="11.7" height="4.0" fill="#ff7f7f"/>
<rect x="257.9" y="297.7" width="4.0" height="4.0" fill="#ff0000"/>
<rect x="261.7" y="297.7" width="19.4" height="4.0" fill="#ff7f7f"/>
<rect x="208.1" y="301.5" width="7.9" height="4.0" fill="#ff0000"/>
<rect x="215.8" y="301.5" width="19.4" height="4.0" fill="#ff7f7f"/>
<rect x="234.9" y="301.5" width="4.0" height="4.0" fill="#ff0000"/>
<rect x="238.8" y="301.5" width="4.0" height="4.0" fill="#ff7f7f"/>
<rect x="242.6" y="301.5" width="4.0" height="4.0" fill="#ff0000"/>
<rect x="246.4" y="301.5" width="4.0" height="4.0" fill="#ff7f7f"/>
<rect x="250.2" y="301.5" width="4.0" height="4.0" fill="#ffc0c0"/>
<rect x="254.1" y="301.5" width="4.0" height="4.0" fill="#ff0000"/>
<rect x="257.9" y="301.5" width="11.7" height="4.0" fill="#ff7f7f"/>
<rect x="269.4" y="301.5" width="4.0" height="4.0" fill="#ffc0c0"/>
<rect x="273.2" y="301.5" width="7.9" height="4.0" fill="#ff7f7f"/>
<rect x="208.1" y="305.4" width="7.9" height="4.0" fill="#ff0000"/>
<rect x="215.8" y="305.4" width="7.9" height="4.0" fill="#ff7f7f"/>
<rect x="223.4" y="305.4" width="7.9" height="4.0" fill="#ff0000"/>
<rect x="231.1" y="305.4" width="4.0" height="4.0" fill="#ff7f7f"/>
<rect x="234.9" y="305.4" width="4.0" height="4.0" fill="#ff0000"/>
<rect x="238.8" y="305.4" width="42.3" height="4.0" fill="#ff7f7f"/>
<rect x="208.1" y="309.2" width="4.0" height="4.0" fill="#ff7f7f"/>
<rect x="211.9" y="309.2" width="4.0" height="4.0" fill="#ff0000"/>
<rect x="215.8" y="309.2" width="7.9" height="4.0" fill="#ff7f7f"/>
<rect x="223.4" y="309.2" width="4.0" height="4.0" fill="#ffc0c0"/>
<rect x="227.3" y="309.2" width="4.0" height="4.0" fill="#ff7f7f"/>
<rect x="231.1" y="309.2" width="4.0" height="4.0" fill="#ffc0c0"/>
<rect x="234.9" y="309.2" width="15.5" height="4.0" fill="#ff7f7f"/>
<rect x="250.2" y="309.2" width="4.0" height="4.0" fill="#ff0000"/>
<rect x="254.1" y="309.2" width="7.9" height="4.0" fill="#ff7f7f"/>
<rect x="261.7" y="309.2" width="4.0" height="4.0" fill="#ff0000"/>
<rect x="265.6" y="309.2" width="4.0" height="4.0" fill="#ffc0c0"/>
<rect x="269.4" y="309.2" width="7.9" height="4.0" fill="#ff0000"/>
<rect x="277.1" y="309.2" width="4.0" height="4.0" fill="#ff7f7f"/>
<rect x="208.1" y="313.0" width="4.0" height="4.0" fill="#ff7f7f"/>
<rect x="211.9" y="313.0" width="4.0" height="4.0" fill="#ffc0c0"/>
<rect x="215.8" y="313.0" width="4.0" height="4.0" fill="#ff0000"/>
<rect x="219.6" y="313.0" width="30.9" height="4.0" fill="#ff7f7f"/>
<rect x="250.2" y="313.0" width="4.0" height="4.0" fill="#ff0000"/>
<rect x="254.1" y="313.0" width="4.0" height="4.0" fill="#ff7f7f"/>
<rect x="257.9" y="313.0" width="11.7" height="4.0" fill="#ffc0c0"/>
<rect x="269.4" y="313.0" width="4.0" height="4.0" fill="#ff7f7f"/>
<rect x="273.2" y="313.0" width="4.0" height="4.0" fill="#ff0000"/>
<rect x="277.1" y="313.0" width="4.0" height="4.0" fill="#ff7f7f"/>
<rect x="208.1" y="316.8" width="4.0" height="4.0" fill="#ff7f7f"/>
<rect x="211.9" y="316.8" width="7.9" height="4.0" fill="#ff0000"/>
<rect x="219.6" y="316.8" width="7.9" height="4.0" fill="#ff7f7f"/>
<rect x="227.3" y="316.8" width="7.9" height="4.0" fill="#ff0000"/>
<rect x="234.9" y="316.8" width="4.0" height="4.0" fill="#ffc0c0"/>
<rect x="238.8" y="316.8" width="30.9" height="4.0" fill="#ff7f7f"/>
<rect x="269.4" y="316.8" width="11.7" height="4.0" fill="#ff0000"/>
<rect x="208.1" y="320.7" width="4.0" height="4.0" fill="#ff7f7f"/>
<rect x="211.9" y="320.7" width="11.7" height="4.0" fill="#ff0000"/>
<rect x="223.4" y="320.7" width="23.2" height="4.0" fill="#ff7f7f"/>
<rect x="246.4" y="320.7" width="11.7" height="4.0" fill="#ff0000"/>
<rect x="257.9" y="320.7" width="4.0" height="4.0" fill="#ff7f7f"/>
<rect x="261.7" y="320.7" width="7.9" height="4.0" fill="#ff0000"/>
<rect x="269.4" y="320.7" width="7.9" height="4.0" fill="#ff7f7f"/>
<rect x="277.1" y="320.7" width="4.0" height="4.0" fill="#ffc0c0"/>
<rect x="208.1" y="324.5" width="4.0" height="4.0" fill="#ff7f7f"/>
<rect x="211.9" y="324.5" width="4.0" height="4.0" fill="#ff0000"/>
<rect x="215.8" y="324.5" width="27.0" height="4.0" fill="#ff7f7f"/>
<rect x="242.6" y="324.5" width="4.0" height="4.0" fill="#ffc0c0"/>
<rect x="246.4" y="324.5" width="7.9" height="4.0" fill="#ff0000"/>
<rect x="254.1" y="324.5" width="23.2" height="4.0" fill="#ff7f7f"/>
<rect x="208.1" y="328.3" width="4.0" height="4.0" fill="#ff7f7f"/>
<rect x="211.9" y="328.3" width="7.9" height="4.0" fill="#ff0000"/>
<rect x="219.6" y="328.3" width="7.9" height="4.0" fill="#ff7f7f"/>
<rect x="227.3" y="328.3" width="4.0" height="4.0" fill="#ffc0c0"/>
<rect x="231.1" y="328.3" width="23.2" height="4.0" fill="#ff7f7f"/>
<rect x="254.1" y="328.3" width="4.0" height="4.0" fill="#ffc0c0"/>
<rect x="257.9" y="328.3" width="7.9" height="4.0" fill="#ff7f7f"/>
<rect x="265.6" y="328.3" width="4.0" height="4.0" fill="#ff0000"/>
<rect x="269.4" y="328.3" width="4.0" height="4.0" fill="#ff7f7f"/>
<rect x="208.1" y="332.2" width="4.0" height="4.0" fill="#ffc0c0"/>
<rect x="211.9" y="332.2" width="11.7" height="4.0" fill="#ff0000"/>
<rect x="223.4" y="332.2" width="11.7" height="4.0" fill="#ff7f7f"/>
<rect x="234.9" y="332.2" width="4.0" height="4.0" fill="#ffc0c0"/>
<rect x="238.8" y="332.2" width="27.0" height="4.0" fill="#ff7f7f"/>
<rect x="265.6" y="332.2" width="4.0" height="4.0" fill="#ffc0c0"/>
<rect x="208.1" y="336.0" width="4.0" height="4.0" fill="#ff7f7f"/>
<rect x="211.9" y="336.0" width="4.0" height="4.0" fill="#ffc0c0"/>
<rect x="215.8" y="336.0" width="19.4" height="4.0" fill="#ff0000"/>
<rect x="234.9" y="336.0" width="23.2" height="4.0" fill="#ff7f7f"/>
<rect x="257.9" y="336.0" width="7.9" height="4.0" fill="#ff0000"/>
<rect x="265.6" y="336.0" width="4.0" height="4.0" fill="#ff7f7f"/>
<rect x="208.1" y="339.8" width="4.0" height="4.0" fill="#ff7f7f"/>
<rect x="211.9" y="339.8" width="7.9" height="4.0" fill="#ff0000"/>
<rect x="219.6" y="339.8" width="11.7" height="4.0" fill="#ff7f7f"/>
<rect x="231.1" y="339.8" width="11.7" height="4.0" fill="#ff0000"/>
<rect x="242.6" y="339.8" width="4.0" height="4.0" fill="#ffc0c0"/>
<rect x="246.4" y="339.8" width="4.0" height="4.0" fill="#ff0000"/>
<rect x="250.2" y="339.8" width="15.5" height="4.0" fill="#ff7f7f"/>
<rect x="208.1" y="343.6" width="4.0" height="4.0" fill="#ff7f7f"/>
<rect x="211.9" y="343.6" width="4.0" height="4.0" fill="#ff0000"/>
<rect x="215.8" y="343.6" width="4.0" height="4.0" fill="#ff7f7f"/>
<rect x="219.6" y="343.6" width="4.0" height="4.0" fill="#ff0000"/>
<rect x="223.4" y="343.6" width="4.0" height="4.0" fill="#ff7f7f"/>
<rect x="227.3" y="343.6" width="7.9" height="4.0" fill="#ff0000"/>
<rect x="234.9" y="343.6" width="4.0" height="4.0" fill="#ff7f7f"/>
<rect x="238.8" y="343.6" width="7.9" height="4.0" fill="#ff0000"/>
<rect x="246.4" y="343.6" width="7.9" height="4.0" fill="#ff7f7f"/>
<rect x="254.1" y="343.6" width="7.9" height="4.0" fill="#ff0000"/>
<rect x="261.7" y="343.6" width="4.0" height="4.0" fill="#ff7f7f"/>
<rect x="208.1" y="347.5" width="7.9" height="4.0" fill="#ff7f7f"/>
<rect x="215.8" y="347.5" width="4.0" height="4.0" fill="#ff0000"/>
<rect x="219.6" y="347.5" width="4.0" height="4.0" fill="#ff7f7f"/>
<rect x="223.4" y="347.5" width="4.0" height="4.0" fill="#ff0000"/>
<rect x="227.3" y="347.5" width="4.0" height="4.0" fill="#ffc0c0"/>
<rect x="231.1" y="347.5" width="19.4" height="4.0" fill="#ff7f7f"/>
<rect x="250.2" y="347.5" width="7.9" height="4.0" fill="#ff0000"/>
<rect x="257.9" y="347.5" width="4.0" height="4.0" fill="#ff7f7f"/>
<rect x="208.1" y="351.3" width="7.9" height="4.0" fill="#ff7f7f"/>
<rect x="215.8" y="351.3" width="4.0" height="4.0" fill="#ff0000"/>
<rect x="219.6" y="351.3" width="7.9" height="4.0" fill="#ff7f7f"/>
<rect x="227.3" y="351.3" width="11.7" height="4.0" fill="#ff0000"/>
<rect x="238.8" y="351.3" width="11.7" height="4.0" fill="#ff7f7f"/>
<rect x="250.2" y="351.3" width="7.9" height="4.0" fill="#ff0000"/>
<rect x="257.9" y="351.3" width="4.0" height="4.0" fill="#ffc0c0"/>
<rect x="208.1" y="355.1" width="4.0" height="4.0" fill="#ff0000"/>
<rect x="211.9" y="355.1" width="7.9" height="4.0" fill="#ff7f7f"/>
<rect x="219.6" y="355.1" width="7.9" height="4.0" fill="#ff0000"/>
<rect x="227.3" y="355.1" width="7.9" height="4.0" fill="#ffc0c0"/>
<rect x="234.9" y="355.1" width="4.0" height="4.0" fill="#ff0000"/>
<rect x="238.8" y="355.1" width="4.0" height="4.0" fill="#ffc0c0"/>
<rect x="242.6" y="355.1" width="7.9" height="4.0" fill="#ff7f7f"/>
<rect x="250.2" y="355.1" width="4.0" height="4.0" fill="#ff0000"/>
<rect x="254.1" y="355.1" width="4.0" height="4.0" fill="#ffc0c0"/>
<rect x="208.1" y="358.9" width="4.0" height="4.0" fill="#ff0000"/>
<rect x="211.9" y="358.9" width="15.5" height="4.0" fill="#ff7f7f"/>
<rect x="227.3" y="358.9" width="11.7" height="4.0" fill="#ff0000"/>
<rect x="238.8" y="358.9" width="7.9" height="4.0" fill="#ff7f7f"/>
<rect x="246.4" y="358.9" width="4.0" height="4.0" fill="#ff0000"/>
<rect x="250.2" y="358.9" width="4.0" height="4.0" fill="#ffc0c0"/>
<rect x="208.1" y="362.8" width="4.0" height="4.0" fill="#ff0000"/>
<rect x="211.9" y="362.8" width="30.9" height="4.0" fill="#ff7f7f"/>
<rect x="242.6" y="362.8" width="4.0" height="4.0" fill="#ff0000"/>
<rect x="246.4" y="362.8" width="4.0" height="4.0" fill="#ffc0c0"/>
<rect x="208.1" y="366.6" width="11.7" height="4.0" fill="#ff0000"/>
<rect x="219.6" y="366.6" width="4.0" height="4.0" fill="#ff7f7f"/>
<rect x="223.4" y="366.6" width="7.9" height="4.0" fill="#ffc0c0"/>
<rect x="231.1" y="366.6" width="11.7" height="4.0" fill="#ff7f7f"/>
<rect x="242.6" y="366.6" width="4.0" height="4.0" fill="#ffc0c0"/>
<rect x="208.1" y="370.4" width="4.0" height="4.0" fill="#ff7f7f"/>
<rect x="211.9" y="370.4" width="4.0" height="4.0" fill="#ff0000"/>
<rect x="215.8" y="370.4" width="7.9" height="4.0" fill="#ff7f7f"/>
<rect x="231.1" y="370.4" width="7.9" height="4.0" fill="#ff7f7f"/>
<rect x="208.1" y="374.2" width="11.7" height="4.0" fill="#ff7f7f"/>
<rect x="219.6" y="374.2" width="4.0" height="4.0" fill="#ff0000"/>
<rect x="223.4" y="374.2" width="7.9" height="4.0" fill="#ff7f7f"/>
<rect x="231.1" y="374.2" width="4.0" height="4.0" fill="#ffc0c0"/>
<rect x="208.1" y="378.1" width="19.4" height="4.0" fill="#ff7f7f"/>
<rect x="227.3" y="378.1" width="4.0" height="4.0" fill="#ffc0c0"/>
</g>
<path d="M208.20 225.10V382.00M212.03 225.10V382.00M215.86 225.10V382.00M219.69 225.10V382.00M223.53 225.10V382.00M227.36 225.10V382.00M231.19 225.10V382.00M235.02 225.10V382.00M238.85 225.10V382.00M242.68 225.10V382.00M246.52 225.10V382.00M250.35 225.10V382.00M254.18 225.10V382.00M258.01 225.10V382.00M261.84 225.10V382.00M265.67 225.10V382.00M269.51 225.10V382.00M273.34 225.10V382.00M277.17 225.10V382.00M281.00 225.10V382.00M208.20 225.10H281.00M208.20 228.93H281.00M208.20 232.75H281.00M208.20 236.58H281.00M208.20 240.41H281.00M208.20 244.23H281.00M208.20 248.06H281.00M208.20 251.89H281.00M208.20 255.71H281.00M208.20 259.54H281.00M208.20 263.37H281.00M208.20 267.20H281.00M208.20 271.02H281.00M208.20 274.85H281.00M208.20 278.68H281.00M208.20 282.50H281.00M208.20 286.33H281.00M208.20 290.16H281.00M208.20 293.98H281.00M208.20 297.81H281.00M208.20 301.64H281.00M208.20 305.46H281.00M208.20 309.29H281.00M208.20 313.12H281.00M208.20 316.94H281.00M208.20 320.77H281.00M208.20 324.60H281.00M208.20 328.42H281.00M208.20 332.25H281.00M208.20 336.08H281.00M208.20 339.90H281.00M208.20 343.73H281.00M208.20 347.56H281.00M208.20 351.39H281.00M208.20 355.21H281.00M208.20 359.04H281.00M208.20 362.87H281.00M208.20 366.69H281.00M208.20 370.52H281.00M208.20 374.35H281.00M208.20 378.17H281.00M208.20 382.00H281.00" stroke="#a0a0a0" stroke-width="0.6" fill="none" opacity="0.5"/>
<path d="M383.60 225.10V382.00M387.43 225.10V382.00M391.26 225.10V382.00M395.09 225.10V382.00M398.93 225.10V382.00M402.76 225.10V382.00M406.59 225.10V382.00M410.42 225.10V382.00M414.25 225.10V382.00M418.08 225.10V382.00M421.92 225.10V382.00M425.75 225.10V382.00M429.58 225.10V382.00M433.41 225.10V382.00M437.24 225.10V382.00M441.07 225.10V382.00M444.91 225.10V382.00M448.74 225.10V382.00M452.57 225.10V382.00M456.40 225.10V382.00M383.60 225.10H456.40M383.60 228.93H456.40M383.60 232.75H456.40M383.60 236.58H456.40M383.60 240.41H456.40M383.60 244.23H456.40M383.60 248.06H456.40M383.60 251.89H456.40M383.60 255.71H456.40M383.60 259.54H456.40M383.60 263.37H456.40M383.60 267.20H456.40M383.60 271.02H456.40M383.60 274.85H456.40M383.60 278.68H456.40M383.60 282.50H456.40M383.60 286.33H456.40M383.60 290.16H456.40M383.60 293.98H456.40M383.60 297.81H456.40M383.60 301.64H456.40M383.60 305.46H456.40M383.60 309.29H456.40M383.60 313.12H456.40M383.60 316.94H456.40M383.60 320.77H456.40M383.60 324.60H456.40M383.60 328.42H456.40M383.60 332.25H456.40M383.60 336.08H456.40M383.60 339.90H456.40M383.60 343.73H456.40M383.60 347.56H456.40M383.60 351.39H456.40M383.60 355.21H456.40M383.60 359.04H456.40M383.60 362.87H456.40M383.60 366.69H456.40M383.60 370.52H456.40M383.60 374.35H456.40M383.60 378.17H456.40M383.60 382.00H456.40" stroke="#b8b8b8" stroke-width="0.75" fill="none"/>
<g shape-rendering="crispEdges">
<rect x="398.8" y="225.0" width="4.0" height="4.0" fill="#ffff00"/>
<rect x="402.7" y="225.0" width="23.2" height="4.0" fill="#5acd22"/>
<rect x="395.0" y="228.8" width="4.0" height="4.0" fill="#ffff00"/>
<rect x="398.8" y="228.8" width="4.0" height="4.0" fill="#ff8c00"/>
<rect x="402.7" y="228.8" width="7.9" height="4.0" fill="#5acd22"/>
<rect x="410.3" y="228.8" width="4.0" height="4.0" fill="#ffff00"/>
<rect x="414.2" y="228.8" width="7.9" height="4.0" fill="#5acd22"/>
<rect x="421.8" y="228.8" width="4.0" height="4.0" fill="#ff8c00"/>
<rect x="425.6" y="228.8" width="4.0" height="4.0" fill="#ffff00"/>
<rect x="429.5" y="228.8" width="11.7" height="4.0" fill="#5acd22"/>
<rect x="395.0" y="232.7" width="4.0" height="4.0" fill="#ff8c00"/>
<rect x="398.8" y="232.7" width="11.7" height="4.0" fill="#5acd22"/>
<rect x="410.3" y="232.7" width="11.7" height="4.0" fill="#ffff00"/>
<rect x="421.8" y="232.7" width="7.9" height="4.0" fill="#ff8c00"/>
<rect x="429.5" y="232.7" width="7.9" height="4.0" fill="#ffff00"/>
<rect x="437.1" y="232.7" width="7.9" height="4.0" fill="#5acd22"/>
<rect x="444.8" y="232.7" width="4.0" height="4.0" fill="#ffff00"/>
<rect x="448.6" y="232.7" width="7.9" height="4.0" fill="#5acd22"/>
<rect x="395.0" y="236.5" width="4.0" height="4.0" fill="#ff0000"/>
<rect x="398.8" y="236.5" width="4.0" height="4.0" fill="#ffff00"/>
<rect x="402.7" y="236.5" width="7.9" height="4.0" fill="#5acd22"/>
<rect x="410.3" y="236.5" width="4.0" height="4.0" fill="#ffff00"/>
<rect x="414.2" y="236.5" width="4.0" height="4.0" fill="#ff8c00"/>
<rect x="418.0" y="236.5" width="4.0" height="4.0" fill="#ffff00"/>
<rect x="421.8" y="236.5" width="4.0" height="4.0" fill="#ff8c00"/>
<rect x="425.6" y="236.5" width="7.9" height="4.0" fill="#ffff00"/>
<rect x="433.3" y="236.5" width="7.9" height="4.0" fill="#ff8c00"/>
<rect x="441.0" y="236.5" width="4.0" height="4.0" fill="#ffff00"/>
<rect x="444.8" y="236.5" width="4.0" height="4.0" fill="#ff8c00"/>
<rect x="448.6" y="236.5" width="4.0" height="4.0" fill="#ffff00"/>
<rect x="452.5" y="236.5" width="4.0" height="4.0" fill="#5acd22"/>
<rect x="391.2" y="240.3" width="4.0" height="4.0" fill="#5acd22"/>
<rect x="395.0" y="240.3" width="7.9" height="4.0" fill="#ff8c00"/>
<rect x="402.7" y="240.3" width="7.9" height="4.0" fill="#ffff00"/>
<rect x="410.3" y="240.3" width="4.0" height="4.0" fill="#5acd22"/>
<rect x="414.2" y="240.3" width="4.0" height="4.0" fill="#ff8c00"/>
<rect x="418.0" y="240.3" width="15.5" height="4.0" fill="#ffff00"/>
<rect x="433.3" y="240.3" width="4.0" height="4.0" fill="#ff8c00"/>
<rect x="437.1" y="240.3" width="4.0" height="4.0" fill="#ffff00"/>
<rect x="441.0" y="240.3" width="4.0" height="4.0" fill="#5acd22"/>
<rect x="444.8" y="240.3" width="7.9" height="4.0" fill="#ffff00"/>
<rect x="391.2" y="244.1" width="4.0" height="4.0" fill="#ffff00"/>
<rect x="395.0" y="244.1" width="7.9" height="4.0" fill="#ff8c00"/>
<rect x="402.7" y="244.1" width="4.0" height="4.0" fill="#ffff00"/>
<rect x="406.5" y="244.1" width="4.0" height="4.0" fill="#5acd22"/>
<rect x="410.3" y="244.1" width="4.0" height="4.0" fill="#ffff00"/>
<rect x="414.2" y="244.1" width="4.0" height="4.0" fill="#5acd22"/>
<rect x="418.0" y="244.1" width="4.0" height="4.0" fill="#ffff00"/>
<rect x="421.8" y="244.1" width="7.9" height="4.0" fill="#ff8c00"/>
<rect x="429.5" y="244.1" width="4.0" height="4.0" fill="#ffff00"/>
<rect x="433.3" y="244.1" width="7.9" height="4.0" fill="#ff8c00"/>
<rect x="441.0" y="244.1" width="4.0" height="4.0" fill="#ffff00"/>
<rect x="444.8" y="244.1" width="7.9" height="4.0" fill="#5acd22"/>
<rect x="391.2" y="248.0" width="4.0" height="4.0" fill="#ffff00"/>
<rect x="395.0" y="248.0" width="4.0" height="4.0" fill="#ff8c00"/>
<rect x="398.8" y="248.0" width="4.0" height="4.0" fill="#ff0000"/>
<rect x="402.7" y="248.0" width="7.9" height="4.0" fill="#ffff00"/>
<rect x="410.3" y="248.0" width="4.0" height="4.0" fill="#5acd22"/>
<rect x="414.2" y="248.0" width="7.9" height="4.0" fill="#ffff00"/>
<rect x="421.8" y="248.0" width="4.0" height="4.0" fill="#5acd22"/>
<rect x="425.6" y="248.0" width="4.0" height="4.0" fill="#ffff00"/>
<rect x="429.5" y="248.0" width="4.0" height="4.0" fill="#5acd22"/>
<rect x="433.3" y="248.0" width="7.9" height="4.0" fill="#ffff00"/>
<rect x="441.0" y="248.0" width="4.0" height="4.0" fill="#ff8c00"/>
<rect x="444.8" y="248.0" width="4.0" height="4.0" fill="#ffff00"/>
<rect x="448.6" y="248.0" width="4.0" height="4.0" fill="#5acd22"/>
<rect x="387.3" y="251.8" width="4.0" height="4.0" fill="#ffff00"/>
<rect x="391.2" y="251.8" width="4.0" height="4.0" fill="#ff8c00"/>
<rect x="395.0" y="251.8" width="11.7" height="4.0" fill="#ffff00"/>
<rect x="406.5" y="251.8" width="4.0" height="4.0" fill="#ff8c00"/>
<rect x="410.3" y="251.8" width="4.0" height="4.0" fill="#5acd22"/>
<rect x="414.2" y="251.8" width="11.7" height="4.0" fill="#ffff00"/>
<rect x="425.6" y="251.8" width="4.0" height="4.0" fill="#5acd22"/>
<rect x="429.5" y="251.8" width="4.0" height="4.0" fill="#ff8c00"/>
<rect x="433.3" y="251.8" width="4.0" height="4.0" fill="#5acd22"/>
<rect x="437.1" y="251.8" width="7.9" height="4.0" fill="#ffff00"/>
<rect x="444.8" y="251.8" width="7.9" height="4.0" fill="#ff8c00"/>
<rect x="387.3" y="255.6" width="4.0" height="4.0" fill="#ffff00"/>
<rect x="391.2" y="255.6" width="7.9" height="4.0" fill="#ff8c00"/>
<rect x="398.8" y="255.6" width="4.0" height="4.0" fill="#ffff00"/>
<rect x="402.7" y="255.6" width="4.0" height="4.0" fill="#5acd22"/>
<rect x="406.5" y="255.6" width="7.9" height="4.0" fill="#ffff00"/>
<rect x="414.2" y="255.6" width="11.7" height="4.0" fill="#5acd22"/>
<rect x="425.6" y="255.6" width="11.7" height="4.0" fill="#ffff00"/>
<rect x="437.1" y="255.6" width="4.0" height="4.0" fill="#5acd22"/>
<rect x="441.0" y="255.6" width="7.9" height="4.0" fill="#ffff00"/>
<rect x="448.6" y="255.6" width="4.0" height="4.0" fill="#5acd22"/>
<rect x="387.3" y="259.4" width="7.9" height="4.0" fill="#ff8c00"/>
<rect x="395.0" y="259.4" width="27.0" height="4.0" fill="#ffff00"/>
<rect x="421.8" y="259.4" width="4.0" height="4.0" fill="#5acd22"/>
<rect x="425.6" y="259.4" width="4.0" height="4.0" fill="#ff8c00"/>
<rect x="429.5" y="259.4" width="19.4" height="4.0" fill="#ffff00"/>
<rect x="448.6" y="259.4" width="4.0" height="4.0" fill="#5acd22"/>
<rect x="387.3" y="263.3" width="7.9" height="4.0" fill="#ff8c00"/>
<rect x="395.0" y="263.3" width="4.0" height="4.0" fill="#ff0000"/>
<rect x="398.8" y="263.3" width="4.0" height="4.0" fill="#5acd22"/>
<rect x="402.7" y="263.3" width="7.9" height="4.0" fill="#ff8c00"/>
<rect x="410.3" y="263.3" width="7.9" height="4.0" fill="#ffff00"/>
<rect x="418.0" y="263.3" width="4.0" height="4.0" fill="#5acd22"/>
<rect x="421.8" y="263.3" width="15.5" height="4.0" fill="#ffff00"/>
<rect x="437.1" y="263.3" width="4.0" height="4.0" fill="#5acd22"/>
<rect x="441.0" y="263.3" width="7.9" height="4.0" fill="#ffff00"/>
<rect x="448.6" y="263.3" width="4.0" height="4.0" fill="#5acd22"/>
<rect x="387.3" y="267.1" width="4.0" height="4.0" fill="#ffff00"/>
<rect x="391.2" y="267.1" width="4.0" height="4.0" fill="#ff8c00"/>
<rect x="395.0" y="267.1" width="7.9" height="4.0" fill="#ffff00"/>
<rect x="402.7" y="267.1" width="7.9" height="4.0" fill="#5acd22"/>
<rect x="410.3" y="267.1" width="4.0" height="4.0" fill="#ffff00"/>
<rect x="414.2" y="267.1" width="7.9" height="4.0" fill="#5acd22"/>
<rect x="421.8" y="267.1" width="4.0" height="4.0" fill="#ff8c00"/>
<rect x="425.6" y="267.1" width="4.0" height="4.0" fill="#5acd22"/>
<rect x="429.5" y="267.1" width="4.0" height="4.0" fill="#ff0000"/>
<rect x="433.3" y="267.1" width="4.0" height="4.0" fill="#ffff00"/>
<rect x="437.1" y="267.1" width="4.0" height="4.0" fill="#5acd22"/>
<rect x="441.0" y="267.1" width="4.0" height="4.0" fill="#ffff00"/>
<rect x="444.8" y="267.1" width="4.0" height="4.0" fill="#ff8c00"/>
<rect x="383.5" y="270.9" width="4.0" height="4.0" fill="#5acd22"/>
<rect x="387.3" y="270.9" width="4.0" height="4.0" fill="#ff8c00"/>
<rect x="391.2" y="270.9" width="4.0" height="4.0" fill="#ff0000"/>
<rect x="395.0" y="270.9" width="11.7" height="4.0" fill="#ffff00"/>
<rect x="406.5" y="270.9" width="4.0" height="4.0" fill="#5acd22"/>
<rect x="410.3" y="270.9" width="11.7" height="4.0" fill="#ffff00"/>
<rect x="421.8" y="270.9" width="4.0" height="4.0" fill="#5acd22"/>
<rect x="425.6" y="270.9" width="4.0" height="4.0" fill="#ffff00"/>
<rect x="429.5" y="270.9" width="4.0" height="4.0" fill="#5acd22"/>
<rect x="433.3" y="270.9" width="4.0" height="4.0" fill="#ffff00"/>
<rect x="437.1" y="270.9" width="4.0" height="4.0" fill="#5acd22"/>
<rect x="441.0" y="270.9" width="7.9" height="4.0" fill="#ff8c00"/>
<rect x="383.5" y="274.7" width="4.0" height="4.0" fill="#5acd22"/>
<rect x="387.3" y="274.7" width="4.0" height="4.0" fill="#ff8c00"/>
<rect x="391.2" y="274.7" width="4.0" height="4.0" fill="#ff0000"/>
<rect x="395.0" y="274.7" width="4.0" height="4.0" fill="#ffff00"/>
<rect x="398.8" y="274.7" width="7.9" height="4.0" fill="#ff8c00"/>
<rect x="406.5" y="274.7" width="4.0" height="4.0" fill="#ffff00"/>
<rect x="410.3" y="274.7" width="4.0" height="4.0" fill="#ff8c00"/>
<rect x="414.2" y="274.7" width="11.7" height="4.0" fill="#ffff00"/>
<rect x="425.6" y="274.7" width="4.0" height="4.0" fill="#5acd22"/>
<rect x="429.5" y="274.7" width="7.9" height="4.0" fill="#ffff00"/>
<rect x="437.1" y="274.7" width="4.0" height="4.0" fill="#5acd22"/>
<rect x="441.0" y="274.7" width="4.0" height="4.0" fill="#ffff00"/>
<rect x="444.8" y="274.7" width="4.0" height="4.0" fill="#5acd22"/>
<rect x="383.5" y="278.6" width="4.0" height="4.0" fill="#5acd22"/>
<rect x="387.3" y="278.6" width="7.9" height="4.0" fill="#ff8c00"/>
<rect x="395.0" y="278.6" width="4.0" height="4.0" fill="#5acd22"/>
<rect x="398.8" y="278.6" width="4.0" height="4.0" fill="#ff0000"/>
<rect x="402.7" y="278.6" width="7.9" height="4.0" fill="#5acd22"/>
<rect x="410.3" y="278.6" width="7.9" height="4.0" fill="#ffff00"/>
<rect x="418.0" y="278.6" width="4.0" height="4.0" fill="#ff8c00"/>
<rect x="421.8" y="278.6" width="4.0" height="4.0" fill="#5acd22"/>
<rect x="425.6" y="278.6" width="4.0" height="4.0" fill="#ff8c00"/>
<rect x="429.5" y="278.6" width="7.9" height="4.0" fill="#5acd22"/>
<rect x="437.1" y="278.6" width="11.7" height="4.0" fill="#ffff00"/>
<rect x="383.5" y="282.4" width="4.0" height="4.0" fill="#ffff00"/>
<rect x="387.3" y="282.4" width="4.0" height="4.0" fill="#ff8c00"/>
<rect x="391.2" y="282.4" width="11.7" height="4.0" fill="#ffff00"/>
<rect x="402.7" y="282.4" width="4.0" height="4.0" fill="#ff8c00"/>
<rect x="406.5" y="282.4" width="7.9" height="4.0" fill="#ffff00"/>
<rect x="414.2" y="282.4" width="4.0" height="4.0" fill="#ff8c00"/>
<rect x="418.0" y="282.4" width="7.9" height="4.0" fill="#ffff00"/>
<rect x="425.6" y="282.4" width="4.0" height="4.0" fill="#ff8c00"/>
<rect x="429.5" y="282.4" width="4.0" height="4.0" fill="#ffff00"/>
<rect x="433.3" y="282.4" width="4.0" height="4.0" fill="#ff8c00"/>
<rect x="437.1" y="282.4" width="11.7" height="4.0" fill="#ffff00"/>
<rect x="448.6" y="282.4" width="4.0" height="4.0" fill="#5acd22"/>
<rect x="383.5" y="286.2" width="4.0" height="4.0" fill="#ff8c00"/>
<rect x="387.3" y="286.2" width="4.0" height="4.0" fill="#ff0000"/>
<rect x="391.2" y="286.2" width="4.0" height="4.0" fill="#ffff00"/>
<rect x="395.0" y="286.2" width="7.9" height="4.0" fill="#5acd22"/>
<rect x="402.7" y="286.2" width="30.9" height="4.0" fill="#ffff00"/>
<rect x="433.3" y="286.2" width="4.0" height="4.0" fill="#ff8c00"/>
<rect x="437.1" y="286.2" width="11.7" height="4.0" fill="#ffff00"/>
<rect x="448.6" y="286.2" width="4.0" height="4.0" fill="#5acd22"/>
<rect x="383.5" y="290.1" width="4.0" height="4.0" fill="#ff8c00"/>
<rect x="387.3" y="290.1" width="7.9" height="4.0" fill="#ffff00"/>
<rect x="395.0" y="290.1" width="4.0" height="4.0" fill="#5acd22"/>
<rect x="398.8" y="290.1" width="4.0" height="4.0" fill="#ff0000"/>
<rect x="402.7" y="290.1" width="4.0" height="4.0" fill="#ffff00"/>
<rect x="406.5" y="290.1" width="7.9" height="4.0" fill="#ff8c00"/>
<rect x="414.2" y="290.1" width="4.0" height="4.0" fill="#5acd22"/>
<rect x="418.0" y="290.1" width="4.0" height="4.0" fill="#ff0000"/>
<rect x="421.8" y="290.1" width="7.9" height="4.0" fill="#ffff00"/>
<rect x="429.5" y="290.1" width="11.7" height="4.0" fill="#5acd22"/>
<rect x="441.0" y="290.1" width="4.0" height="4.0" fill="#ffff00"/>
<rect x="444.8" y="290.1" width="7.9" height="4.0" fill="#5acd22"/>
<rect x="383.5" y="293.9" width="4.0" height="4.0" fill="#ffff00"/>
<rect x="387.3" y="293.9" width="4.0" height="4.0" fill="#ff8c00"/>
<rect x="391.2" y="293.9" width="11.7" height="4.0" fill="#5acd22"/>
<rect x="402.7" y="293.9" width="4.0" height="4.0" fill="#ffff00"/>
<rect x="406.5" y="293.9" width="11.7" height="4.0" fill="#5acd22"/>
<rect x="418.0" y="293.9" width="4.0" height="4.0" fill="#ffff00"/>
<rect x="421.8" y="293.9" width="4.0" height="4.0" fill="#5acd22"/>
<rect x="425.6" y="293.9" width="15.5" height="4.0" fill="#ffff00"/>
<rect x="441.0" y="293.9" width="4.0" height="4.0" fill="#ff0000"/>
<rect x="444.8" y="293.9" width="4.0" height="4.0" fill="#5acd22"/>
<rect x="448.6" y="293.9" width="4.0" height="4.0" fill="#ffff00"/>
<rect x="452.5" y="293.9" width="4.0" height="4.0" fill="#5acd22"/>
<rect x="383.5" y="297.7" width="7.9" height="4.0" fill="#ffff00"/>
<rect x="391.2" y="297.7" width="4.0" height="4.0" fill="#5acd22"/>
<rect x="395.0" y="297.7" width="7.9" height="4.0" fill="#ffff00"/>
<rect x="402.7" y="297.7" width="7.9" height="4.0" fill="#5acd22"/>
<rect x="410.3" y="297.7" width="4.0" height="4.0" fill="#ffff00"/>
<rect x="414.2" y="297.7" width="4.0" height="4.0" fill="#ff8c00"/>
<rect x="418.0" y="297.7" width="4.0" height="4.0" fill="#ff0000"/>
<rect x="421.8" y="297.7" width="4.0" height="4.0" fill="#ff8c00"/>
<rect x="425.6" y="297.7" width="4.0" height="4.0" fill="#ff0000"/>
<rect x="429.5" y="297.7" width="4.0" height="4.0" fill="#ffff00"/>
<rect x="433.3" y="297.7" width="4.0" height="4.0" fill="#ff8c00"/>
<rect x="437.1" y="297.7" width="7.9" height="4.0" fill="#ffff00"/>
<rect x="444.8" y="297.7" width="4.0" height="4.0" fill="#ff8c00"/>
<rect x="448.6" y="297.7" width="4.0" height="4.0" fill="#ffff00"/>
<rect x="452.5" y="297.7" width="4.0" height="4.0" fill="#5acd22"/>
<rect x="383.5" y="301.5" width="4.0" height="4.0" fill="#ff8c00"/>
<rect x="387.3" y="301.5" width="7.9" height="4.0" fill="#ffff00"/>
<rect x="395.0" y="301.5" width="7.9" height="4.0" fill="#5acd22"/>
<rect x="402.7" y="301.5" width="11.7" height="4.0" fill="#ffff00"/>
<rect x="414.2" y="301.5" width="4.0" height="4.0" fill="#ff8c00"/>
<rect x="418.0" y="301.5" width="4.0" height="4.0" fill="#ff0000"/>
<rect x="421.8" y="301.5" width="4.0" height="4.0" fill="#ff8c00"/>
<rect x="425.6" y="301.5" width="4.0" height="4.0" fill="#5acd22"/>
<rect x="429.5" y="301.5" width="4.0" height="4.0" fill="#ffff00"/>
<rect x="433.3" y="301.5" width="4.0" height="4.0" fill="#ff8c00"/>
<rect x="437.1" y="301.5" width="11.7" height="4.0" fill="#ffff00"/>
<rect x="448.6" y="301.5" width="4.0" height="4.0" fill="#5acd22"/>
<rect x="452.5" y="301.5" width="4.0" height="4.0" fill="#ffff00"/>
<rect x="383.5" y="305.4" width="7.9" height="4.0" fill="#ff8c00"/>
<rect x="391.2" y="305.4" width="11.7" height="4.0" fill="#ffff00"/>
<rect x="402.7" y="305.4" width="4.0" height="4.0" fill="#ff8c00"/>
<rect x="406.5" y="305.4" width="4.0" height="4.0" fill="#5acd22"/>
<rect x="410.3" y="305.4" width="4.0" height="4.0" fill="#ff0000"/>
<rect x="414.2" y="305.4" width="4.0" height="4.0" fill="#ff8c00"/>
<rect x="418.0" y="305.4" width="4.0" height="4.0" fill="#ffff00"/>
<rect x="421.8" y="305.4" width="4.0" height="4.0" fill="#5acd22"/>
<rect x="425.6" y="305.4" width="19.4" height="4.0" fill="#ffff00"/>
<rect x="444.8" y="305.4" width="4.0" height="4.0" fill="#5acd22"/>
<rect x="448.6" y="305.4" width="7.9" height="4.0" fill="#ffff00"/>
<rect x="383.5" y="309.2" width="4.0" height="4.0" fill="#ffff00"/>
<rect x="387.3" y="309.2" width="4.0" height="4.0" fill="#ff8c00"/>
<rect x="391.2" y="309.2" width="7.9" height="4.0" fill="#ffff00"/>
<rect x="398.8" y="309.2" width="4.0" height="4.0" fill="#5acd22"/>
<rect x="402.7" y="309.2" width="4.0" height="4.0" fill="#ffff00"/>
<rect x="406.5" y="309.2" width="7.9" height="4.0" fill="#5acd22"/>
<rect x="414.2" y="309.2" width="11.7" height="4.0" fill="#ffff00"/>
<rect x="425.6" y="309.2" width="4.0" height="4.0" fill="#ff8c00"/>
<rect x="429.5" y="309.2" width="7.9" height="4.0" fill="#ffff00"/>
<rect x="437.1" y="309.2" width="4.0" height="4.0" fill="#ff0000"/>
<rect x="441.0" y="309.2" width="4.0" height="4.0" fill="#5acd22"/>
<rect x="444.8" y="309.2" width="4.0" height="4.0" fill="#ff0000"/>
<rect x="448.6" y="309.2" width="4.0" height="4.0" fill="#ff8c00"/>
<rect x="452.5" y="309.2" width="4.0" height="4.0" fill="#ffff00"/>
<rect x="383.5" y="313.0" width="4.0" height="4.0" fill="#ffff00"/>
<rect x="387.3" y="313.0" width="4.0" height="4.0" fill="#ff8c00"/>
<rect x="391.2" y="313.0" width="4.0" height="4.0" fill="#ff0000"/>
<rect x="395.0" y="313.0" width="7.9" height="4.0" fill="#ffff00"/>
<rect x="402.7" y="313.0" width="4.0" height="4.0" fill="#5acd22"/>
<rect x="406.5" y="313.0" width="4.0" height="4.0" fill="#ffff00"/>
<rect x="410.3" y="313.0" width="4.0" height="4.0" fill="#ff8c00"/>
<rect x="414.2" y="313.0" width="7.9" height="4.0" fill="#5acd22"/>
<rect x="421.8" y="313.0" width="4.0" height="4.0" fill="#ffff00"/>
<rect x="425.6" y="313.0" width="7.9" height="4.0" fill="#ff8c00"/>
<rect x="433.3" y="313.0" width="4.0" height="4.0" fill="#5acd22"/>
<rect x="437.1" y="313.0" width="11.7" height="4.0" fill="#ffff00"/>
<rect x="448.6" y="313.0" width="4.0" height="4.0" fill="#ff8c00"/>
<rect x="452.5" y="313.0" width="4.0" height="4.0" fill="#ffff00"/>
<rect x="383.5" y="316.8" width="4.0" height="4.0" fill="#ffff00"/>
<rect x="387.3" y="316.8" width="7.9" height="4.0" fill="#ff8c00"/>
<rect x="395.0" y="316.8" width="4.0" height="4.0" fill="#ffff00"/>
<rect x="398.8" y="316.8" width="11.7" height="4.0" fill="#ff8c00"/>
<rect x="410.3" y="316.8" width="4.0" height="4.0" fill="#5acd22"/>
<rect x="414.2" y="316.8" width="4.0" height="4.0" fill="#ffff00"/>
<rect x="418.0" y="316.8" width="4.0" height="4.0" fill="#5acd22"/>
<rect x="421.8" y="316.8" width="4.0" height="4.0" fill="#ffff00"/>
<rect x="425.6" y="316.8" width="4.0" height="4.0" fill="#5acd22"/>
<rect x="429.5" y="316.8" width="15.5" height="4.0" fill="#ffff00"/>
<rect x="444.8" y="316.8" width="4.0" height="4.0" fill="#ff0000"/>
<rect x="448.6" y="316.8" width="7.9" height="4.0" fill="#ffff00"/>
<rect x="383.5" y="320.7" width="4.0" height="4.0" fill="#ffff00"/>
<rect x="387.3" y="320.7" width="4.0" height="4.0" fill="#ff8c00"/>
<rect x="391.2" y="320.7" width="4.0" height="4.0" fill="#ffff00"/>
<rect x="395.0" y="320.7" width="11.7" height="4.0" fill="#ff0000"/>
<rect x="406.5" y="320.7" width="7.9" height="4.0" fill="#ffff00"/>
<rect x="414.2" y="320.7" width="4.0" height="4.0" fill="#ff8c00"/>
<rect x="418.0" y="320.7" width="4.0" height="4.0" fill="#ffff00"/>
<rect x="421.8" y="320.7" width="4.0" height="4.0" fill="#ff8c00"/>
<rect x="425.6" y="320.7" width="11.7" height="4.0" fill="#ffff00"/>
<rect x="437.1" y="320.7" width="7.9" height="4.0" fill="#ff8c00"/>
<rect x="444.8" y="320.7" width="7.9" height="4.0" fill="#ffff00"/>
<rect x="452.5" y="320.7" width="4.0" height="4.0" fill="#5acd22"/>
<rect x="383.5" y="324.5" width="4.0" height="4.0" fill="#ffff00"/>
<rect x="387.3" y="324.5" width="7.9" height="4.0" fill="#ff8c00"/>
<rect x="395.0" y="324.5" width="7.9" height="4.0" fill="#ffff00"/>
<rect x="402.7" y="324.5" width="4.0" height="4.0" fill="#ff8c00"/>
<rect x="406.5" y="324.5" width="4.0" height="4.0" fill="#ffff00"/>
<rect x="410.3" y="324.5" width="11.7" height="4.0" fill="#5acd22"/>
<rect x="421.8" y="324.5" width="4.0" height="4.0" fill="#ff0000"/>
<rect x="425.6" y="324.5" width="4.0" height="4.0" fill="#ff8c00"/>
<rect x="429.5" y="324.5" width="15.5" height="4.0" fill="#ffff00"/>
<rect x="444.8" y="324.5" width="4.0" height="4.0" fill="#5acd22"/>
<rect x="448.6" y="324.5" width="4.0" height="4.0" fill="#ffff00"/>
<rect x="383.5" y="328.3" width="7.9" height="4.0" fill="#ffff00"/>
<rect x="391.2" y="328.3" width="4.0" height="4.0" fill="#ff0000"/>
<rect x="395.0" y="328.3" width="4.0" height="4.0" fill="#ffff00"/>
<rect x="398.8" y="328.3" width="4.0" height="4.0" fill="#ff8c00"/>
<rect x="402.7" y="328.3" width="4.0" height="4.0" fill="#5acd22"/>
<rect x="406.5" y="328.3" width="19.4" height="4.0" fill="#ffff00"/>
<rect x="425.6" y="328.3" width="4.0" height="4.0" fill="#ff8c00"/>
<rect x="429.5" y="328.3" width="4.0" height="4.0" fill="#5acd22"/>
<rect x="433.3" y="328.3" width="11.7" height="4.0" fill="#ffff00"/>
<rect x="444.8" y="328.3" width="4.0" height="4.0" fill="#5acd22"/>
<rect x="383.5" y="332.2" width="4.0" height="4.0" fill="#5acd22"/>
<rect x="387.3" y="332.2" width="4.0" height="4.0" fill="#ff0000"/>
<rect x="391.2" y="332.2" width="4.0" height="4.0" fill="#ffff00"/>
<rect x="395.0" y="332.2" width="7.9" height="4.0" fill="#ff8c00"/>
<rect x="402.7" y="332.2" width="4.0" height="4.0" fill="#ffff00"/>
<rect x="406.5" y="332.2" width="4.0" height="4.0" fill="#ff8c00"/>
<rect x="410.3" y="332.2" width="11.7" height="4.0" fill="#ffff00"/>
<rect x="421.8" y="332.2" width="4.0" height="4.0" fill="#5acd22"/>
<rect x="425.6" y="332.2" width="4.0" height="4.0" fill="#ff8c00"/>
<rect x="429.5" y="332.2" width="11.7" height="4.0" fill="#ffff00"/>
<rect x="441.0" y="332.2" width="4.0" height="4.0" fill="#5acd22"/>
<rect x="383.5" y="336.0" width="7.9" height="4.0" fill="#ffff00"/>
<rect x="391.2" y="336.0" width="4.0" height="4.0" fill="#ff8c00"/>
<rect x="395.0" y="336.0" width="4.0" height="4.0" fill="#ffff00"/>
<rect x="398.8" y="336.0" width="11.7" height="4.0" fill="#ff8c00"/>
<rect x="410.3" y="336.0" width="4.0" height="4.0" fill="#ffff00"/>
<rect x="414.2" y="336.0" width="4.0" height="4.0" fill="#5acd22"/>
<rect x="418.0" y="336.0" width="15.5" height="4.0" fill="#ffff00"/>
<rect x="433.3" y="336.0" width="4.0" height="4.0" fill="#ff8c00"/>
<rect x="437.1" y="336.0" width="4.0" height="4.0" fill="#ffff00"/>
<rect x="441.0" y="336.0" width="4.0" height="4.0" fill="#5acd22"/>
<rect x="383.5" y="339.8" width="4.0" height="4.0" fill="#ffff00"/>
<rect x="387.3" y="339.8" width="4.0" height="4.0" fill="#ff8c00"/>
<rect x="391.2" y="339.8" width="19.4" height="4.0" fill="#ffff00"/>
<rect x="410.3" y="339.8" width="7.9" height="4.0" fill="#ff8c00"/>
<rect x="418.0" y="339.8" width="4.0" height="4.0" fill="#ffff00"/>
<rect x="421.8" y="339.8" width="4.0" height="4.0" fill="#ff8c00"/>
<rect x="425.6" y="339.8" width="4.0" height="4.0" fill="#ffff00"/>
<rect x="429.5" y="339.8" width="4.0" height="4.0" fill="#ff8c00"/>
<rect x="433.3" y="339.8" width="7.9" height="4.0" fill="#ffff00"/>
<rect x="441.0" y="339.8" width="4.0" height="4.0" fill="#5acd22"/>
<rect x="383.5" y="343.6" width="4.0" height="4.0" fill="#ffff00"/>
<rect x="387.3" y="343.6" width="4.0" height="4.0" fill="#ff8c00"/>
<rect x="391.2" y="343.6" width="4.0" height="4.0" fill="#ffff00"/>
<rect x="395.0" y="343.6" width="4.0" height="4.0" fill="#5acd22"/>
<rect x="398.8" y="343.6" width="4.0" height="4.0" fill="#ffff00"/>
<rect x="402.7" y="343.6" width="4.0" height="4.0" fill="#ff8c00"/>
<rect x="406.5" y="343.6" width="7.9" height="4.0" fill="#ffff00"/>
<rect x="414.2" y="343.6" width="11.7" height="4.0" fill="#ff8c00"/>
<rect x="425.6" y="343.6" width="4.0" height="4.0" fill="#ffff00"/>
<rect x="429.5" y="343.6" width="4.0" height="4.0" fill="#ff8c00"/>
<rect x="433.3" y="343.6" width="4.0" height="4.0" fill="#ff0000"/>
<rect x="437.1" y="343.6" width="4.0" height="4.0" fill="#5acd22"/>
<rect x="383.5" y="347.5" width="4.0" height="4.0" fill="#ffff00"/>
<rect x="387.3" y="347.5" width="7.9" height="4.0" fill="#ff8c00"/>
<rect x="395.0" y="347.5" width="4.0" height="4.0" fill="#ffff00"/>
<rect x="398.8" y="347.5" width="4.0" height="4.0" fill="#ff8c00"/>
<rect x="402.7" y="347.5" width="15.5" height="4.0" fill="#ffff00"/>
<rect x="418.0" y="347.5" width="4.0" height="4.0" fill="#5acd22"/>
<rect x="421.8" y="347.5" width="4.0" height="4.0" fill="#ffff00"/>
<rect x="425.6" y="347.5" width="11.7" height="4.0" fill="#ff8c00"/>
<rect x="383.5" y="351.3" width="4.0" height="4.0" fill="#ff8c00"/>
<rect x="387.3" y="351.3" width="4.0" height="4.0" fill="#5acd22"/>
<rect x="391.2" y="351.3" width="4.0" height="4.0" fill="#ff8c00"/>
<rect x="395.0" y="351.3" width="27.0" height="4.0" fill="#ffff00"/>
<rect x="421.8" y="351.3" width="4.0" height="4.0" fill="#5acd22"/>
<rect x="425.6" y="351.3" width="7.9" height="4.0" fill="#ff8c00"/>
<rect x="433.3" y="351.3" width="4.0" height="4.0" fill="#5acd22"/>
<rect x="383.5" y="355.1" width="4.0" height="4.0" fill="#ff8c00"/>
<rect x="387.3" y="355.1" width="11.7" height="4.0" fill="#ffff00"/>
<rect x="398.8" y="355.1" width="4.0" height="4.0" fill="#ff0000"/>
<rect x="402.7" y="355.1" width="11.7" height="4.0" fill="#ffff00"/>
<rect x="414.2" y="355.1" width="4.0" height="4.0" fill="#5acd22"/>
<rect x="418.0" y="355.1" width="7.9" height="4.0" fill="#ffff00"/>
<rect x="425.6" y="355.1" width="4.0" height="4.0" fill="#ff8c00"/>
<rect x="429.5" y="355.1" width="4.0" height="4.0" fill="#5acd22"/>
<rect x="383.5" y="358.9" width="4.0" height="4.0" fill="#ff8c00"/>
<rect x="387.3" y="358.9" width="4.0" height="4.0" fill="#ffff00"/>
<rect x="391.2" y="358.9" width="4.0" height="4.0" fill="#ff8c00"/>
<rect x="395.0" y="358.9" width="7.9" height="4.0" fill="#ffff00"/>
<rect x="402.7" y="358.9" width="4.0" height="4.0" fill="#ff8c00"/>
<rect x="406.5" y="358.9" width="4.0" height="4.0" fill="#ff0000"/>
<rect x="410.3" y="358.9" width="4.0" height="4.0" fill="#ffff00"/>
<rect x="414.2" y="358.9" width="4.0" height="4.0" fill="#ff8c00"/>
<rect x="418.0" y="358.9" width="4.0" height="4.0" fill="#ffff00"/>
<rect x="421.8" y="358.9" width="4.0" height="4.0" fill="#ff8c00"/>
<rect x="425.6" y="358.9" width="4.0" height="4.0" fill="#5acd22"/>
<rect x="383.5" y="362.8" width="7.9" height="4.0" fill="#ffff00"/>
<rect x="391.2" y="362.8" width="4.0" height="4.0" fill="#ff8c00"/>
<rect x="395.0" y="362.8" width="4.0" height="4.0" fill="#ffff00"/>
<rect x="398.8" y="362.8" width="4.0" height="4.0" fill="#5acd22"/>
<rect x="402.7" y="362.8" width="7.9" height="4.0" fill="#ffff00"/>
<rect x="410.3" y="362.8" width="4.0" height="4.0" fill="#ff8c00"/>
<rect x="414.2" y="362.8" width="4.0" height="4.0" fill="#5acd22"/>
<rect x="418.0" y="362.8" width="4.0" height="4.0" fill="#ffff00"/>
<rect x="421.8" y="362.8" width="4.0" height="4.0" fill="#5acd22"/>
<rect x="383.5" y="366.6" width="4.0" height="4.0" fill="#ff8c00"/>
<rect x="387.3" y="366.6" width="4.0" height="4.0" fill="#ff0000"/>
<rect x="391.2" y="366.6" width="4.0" height="4.0" fill="#ff8c00"/>
<rect x="395.0" y="366.6" width="4.0" height="4.0" fill="#ffff00"/>
<rect x="398.8" y="366.6" width="11.7" height="4.0" fill="#5acd22"/>
<rect x="410.3" y="366.6" width="7.9" height="4.0" fill="#ffff00"/>
<rect x="418.0" y="366.6" width="4.0" height="4.0" fill="#5acd22"/>
<rect x="383.5" y="370.4" width="11.7" height="4.0" fill="#ffff00"/>
<rect x="395.0" y="370.4" width="4.0" height="4.0" fill="#5acd22"/>
<rect x="406.5" y="370.4" width="7.9" height="4.0" fill="#ffff00"/>
<rect x="383.5" y="374.2" width="4.0" height="4.0" fill="#ffff00"/>
<rect x="387.3" y="374.2" width="4.0" height="4.0" fill="#5acd22"/>
<rect x="391.2" y="374.2" width="4.0" height="4.0" fill="#ffff00"/>
<rect x="395.0" y="374.2" width="7.9" height="4.0" fill="#ff8c00"/>
<rect x="402.7" y="374.2" width="4.0" height="4.0" fill="#ffff00"/>
<rect x="406.5" y="374.2" width="4.0" height="4.0" fill="#5acd22"/>
<rect x="383.5" y="378.1" width="11.7" height="4.0" fill="#ffff00"/>
<rect x="395.0" y="378.1" width="11.7" height="4.0" fill="#5acd22"/>
</g>
<path d="M383.60 225.10V382.00M387.43 225.10V382.00M391.26 225.10V382.00M395.09 225.10V382.00M398.93 225.10V382.00M402.76 225.10V382.00M406.59 225.10V382.00M410.42 225.10V382.00M414.25 225.10V382.00M418.08 225.10V382.00M421.92 225.10V382.00M425.75 225.10V382.00M429.58 225.10V382.00M433.41 225.10V382.00M437.24 225.10V382.00M441.07 225.10V382.00M444.91 225.10V382.00M448.74 225.10V382.00M452.57 225.10V382.00M456.40 225.10V382.00M383.60 225.10H456.40M383.60 228.93H456.40M383.60 232.75H456.40M383.60 236.58H456.40M383.60 240.41H456.40M383.60 244.23H456.40M383.60 248.06H456.40M383.60 251.89H456.40M383.60 255.71H456.40M383.60 259.54H456.40M383.60 263.37H456.40M383.60 267.20H456.40M383.60 271.02H456.40M383.60 274.85H456.40M383.60 278.68H456.40M383.60 282.50H456.40M383.60 286.33H456.40M383.60 290.16H456.40M383.60 293.98H456.40M383.60 297.81H456.40M383.60 301.64H456.40M383.60 305.46H456.40M383.60 309.29H456.40M383.60 313.12H456.40M383.60 316.94H456.40M383.60 320.77H456.40M383.60 324.60H456.40M383.60 328.42H456.40M383.60 332.25H456.40M383.60 336.08H456.40M383.60 339.90H456.40M383.60 343.73H456.40M383.60 347.56H456.40M383.60 351.39H456.40M383.60 355.21H456.40M383.60 359.04H456.40M383.60 362.87H456.40M383.60 366.69H456.40M383.60 370.52H456.40M383.60 374.35H456.40M383.60 378.17H456.40M383.60 382.00H456.40" stroke="#a0a0a0" stroke-width="0.6" fill="none" opacity="0.5"/>
<text x="106.7" y="103.27" font-family="'Liberation Serif', serif" font-size="4.90" font-weight="bold" fill="#555" textLength="14.2" lengthAdjust="spacingAndGlyphs">Legend</text>
<text x="106.7" y="110.40" font-family="'Liberation Serif', serif" font-size="4.4" font-weight="bold" fill="#555" textLength="33.3" lengthAdjust="spacingAndGlyphs">FISHNET_entropy</text>
<text x="106.7" y="116.40" font-family="'Liberation Serif', serif" font-size="4.4" fill="#666" textLength="20.7" lengthAdjust="spacingAndGlyphs">1912_1872D</text>
<rect x="106.50" y="118.55" width="9.70" height="4.50" fill="#1a8ad4"/>
<text x="119.4" y="122.10" font-family="'Liberation Serif', serif" font-size="3.7" fill="#555" textLength="42.0" lengthAdjust="spacing">-214. 739983  -  -200. 000000</text>
<rect x="106.50" y="125.17" width="9.70" height="4.50" fill="#4aada8"/>
<text x="119.4" y="128.72" font-family="'Liberation Serif', serif" font-size="3.7" fill="#555" textLength="42.0" lengthAdjust="spacing">-199. 999999  -  -100. 000000</text>
<rect x="106.50" y="131.79" width="9.70" height="4.50" fill="#aed38e"/>
<text x="119.4" y="135.34" font-family="'Liberation Serif', serif" font-size="3.7" fill="#555" textLength="37.0" lengthAdjust="spacing">-99. 999999  -  -0. 000001</text>
<rect x="106.80" y="138.71" width="9.10" height="3.90" fill="#fff" stroke="#999" stroke-width="0.5"/>
<text x="119.4" y="141.96" font-family="'Liberation Serif', serif" font-size="3.7" fill="#555" textLength="13.4" lengthAdjust="spacing">0. 000000</text>
<rect x="106.50" y="145.03" width="9.70" height="4.50" fill="#fdb23a"/>
<text x="119.4" y="148.58" font-family="'Liberation Serif', serif" font-size="3.7" fill="#555" textLength="35.3" lengthAdjust="spacing">0. 000001  -  100. 000000</text>
<rect x="106.50" y="151.65" width="9.70" height="4.50" fill="#f86a1e"/>
<text x="119.4" y="155.20" font-family="'Liberation Serif', serif" font-size="3.7" fill="#555" textLength="38.6" lengthAdjust="spacing">100. 000001  -  200. 000000</text>
<rect x="106.50" y="158.27" width="9.70" height="4.50" fill="#f01e1e"/>
<text x="119.4" y="161.82" font-family="'Liberation Serif', serif" font-size="3.7" fill="#555" textLength="38.6" lengthAdjust="spacing">200. 000001  -  300. 000000</text>
<text x="239.1" y="105.43" font-family="'Liberation Serif', serif" font-size="4.76" font-weight="bold" fill="#555" textLength="13.8" lengthAdjust="spacingAndGlyphs">Legend</text>
<text x="239.1" y="112.60" font-family="'Liberation Serif', serif" font-size="4.4" font-weight="bold" fill="#555" textLength="31.8" lengthAdjust="spacingAndGlyphs">FISHNET_entropy</text>
<text x="239.1" y="118.00" font-family="'Liberation Serif', serif" font-size="4.4" fill="#666" textLength="17.6" lengthAdjust="spacingAndGlyphs">1935_1912</text>
<rect x="239.20" y="120.35" width="8.90" height="4.30" fill="#1a8ad4"/>
<text x="250.0" y="123.80" font-family="'Liberation Serif', serif" font-size="3.7" fill="#555" textLength="40.0" lengthAdjust="spacing">-222. 234317  -  -200. 000000</text>
<rect x="239.20" y="126.48" width="8.90" height="4.30" fill="#4aada8"/>
<text x="250.0" y="129.93" font-family="'Liberation Serif', serif" font-size="3.7" fill="#555" textLength="40.0" lengthAdjust="spacing">-199. 999999  -  -100. 000000</text>
<rect x="239.20" y="132.61" width="8.90" height="4.30" fill="#aed38e"/>
<text x="250.0" y="136.06" font-family="'Liberation Serif', serif" font-size="3.7" fill="#555" textLength="35.2" lengthAdjust="spacing">-99. 999999  -  -0. 000001</text>
<rect x="239.50" y="139.04" width="8.30" height="3.70" fill="#fff" stroke="#999" stroke-width="0.5"/>
<text x="250.0" y="142.19" font-family="'Liberation Serif', serif" font-size="3.7" fill="#555" textLength="12.8" lengthAdjust="spacing">0. 000000</text>
<rect x="239.20" y="144.87" width="8.90" height="4.30" fill="#fdb23a"/>
<text x="250.0" y="148.32" font-family="'Liberation Serif', serif" font-size="3.7" fill="#555" textLength="33.6" lengthAdjust="spacing">0. 000001  -  100. 000000</text>
<rect x="239.20" y="151.00" width="8.90" height="4.30" fill="#f86a1e"/>
<text x="250.0" y="154.45" font-family="'Liberation Serif', serif" font-size="3.7" fill="#555" textLength="36.8" lengthAdjust="spacing">100. 000001  -  200. 000000</text>
<rect x="239.20" y="157.13" width="8.90" height="4.30" fill="#f01e1e"/>
<text x="250.0" y="160.58" font-family="'Liberation Serif', serif" font-size="3.7" fill="#555" textLength="36.8" lengthAdjust="spacing">200. 000001  -  300. 000000</text>
<text x="369.1" y="105.38" font-family="'Liberation Serif', serif" font-size="4.59" font-weight="bold" fill="#555" textLength="13.3" lengthAdjust="spacingAndGlyphs">Legend</text>
<text x="369.1" y="112.60" font-family="'Liberation Serif', serif" font-size="4.4" font-weight="bold" fill="#555" textLength="31.3" lengthAdjust="spacingAndGlyphs">FISHNET_entropy</text>
<text x="369.1" y="118.00" font-family="'Liberation Serif', serif" font-size="4.4" fill="#666" textLength="17.1" lengthAdjust="spacingAndGlyphs">1986_1935</text>
<rect x="369.10" y="120.30" width="8.90" height="4.20" fill="#1a8ad4"/>
<text x="379.6" y="123.70" font-family="'Liberation Serif', serif" font-size="3.7" fill="#555" textLength="40.5" lengthAdjust="spacing">-291. 709429  -  -200. 000000</text>
<rect x="369.10" y="126.43" width="8.90" height="4.20" fill="#4aada8"/>
<text x="379.6" y="129.83" font-family="'Liberation Serif', serif" font-size="3.7" fill="#555" textLength="40.5" lengthAdjust="spacing">-199. 999999  -  -100. 000000</text>
<rect x="369.10" y="132.56" width="8.90" height="4.20" fill="#aed38e"/>
<text x="379.6" y="135.96" font-family="'Liberation Serif', serif" font-size="3.7" fill="#555" textLength="35.6" lengthAdjust="spacing">-99. 999999  -  -0. 000001</text>
<rect x="369.40" y="138.99" width="8.30" height="3.60" fill="#fff" stroke="#999" stroke-width="0.5"/>
<text x="379.6" y="142.09" font-family="'Liberation Serif', serif" font-size="3.7" fill="#555" textLength="13.0" lengthAdjust="spacing">0. 000000</text>
<rect x="369.10" y="144.82" width="8.90" height="4.20" fill="#fdb23a"/>
<text x="379.6" y="148.22" font-family="'Liberation Serif', serif" font-size="3.7" fill="#555" textLength="34.0" lengthAdjust="spacing">0. 000001  -  100. 000000</text>
<rect x="369.10" y="150.95" width="8.90" height="4.20" fill="#f86a1e"/>
<text x="379.6" y="154.35" font-family="'Liberation Serif', serif" font-size="3.7" fill="#555" textLength="37.3" lengthAdjust="spacing">100. 000001  -  200. 000000</text>
<rect x="369.10" y="157.08" width="8.90" height="4.20" fill="#f01e1e"/>
<text x="379.6" y="160.48" font-family="'Liberation Serif', serif" font-size="3.7" fill="#555" textLength="37.3" lengthAdjust="spacing">200. 000001  -  300. 000000</text>
<text x="499.9" y="104.12" font-family="'Liberation Serif', serif" font-size="4.07" font-weight="bold" fill="#555" textLength="11.8" lengthAdjust="spacingAndGlyphs">Legend</text>
<text x="499.9" y="110.30" font-family="'Liberation Serif', serif" font-size="4.4" font-weight="bold" fill="#555" textLength="28.0" lengthAdjust="spacingAndGlyphs">FISHNET_entropy</text>
<text x="499.9" y="115.40" font-family="'Liberation Serif', serif" font-size="4.4" fill="#666" textLength="15.7" lengthAdjust="spacingAndGlyphs">2023_1986</text>
<rect x="500.10" y="117.30" width="7.90" height="3.80" fill="#1a6fb5"/>
<text x="510.7" y="120.50" font-family="'Liberation Serif', serif" font-size="3.3" fill="#555" textLength="35.2" lengthAdjust="spacing">-341. 302272  -  -300. 000000</text>
<rect x="500.10" y="122.90" width="7.90" height="3.80" fill="#1a8ad4"/>
<text x="510.7" y="126.10" font-family="'Liberation Serif', serif" font-size="3.3" fill="#555" textLength="35.2" lengthAdjust="spacing">-299. 999999  -  -200. 000000</text>
<rect x="500.10" y="128.50" width="7.90" height="3.80" fill="#4aada8"/>
<text x="510.7" y="131.70" font-family="'Liberation Serif', serif" font-size="3.3" fill="#555" textLength="35.2" lengthAdjust="spacing">-199. 999999  -  -100. 000000</text>
<rect x="500.10" y="134.10" width="7.90" height="3.80" fill="#aed38e"/>
<text x="510.7" y="137.30" font-family="'Liberation Serif', serif" font-size="3.3" fill="#555" textLength="31.0" lengthAdjust="spacing">-99. 999999  -  -0. 000001</text>
<rect x="500.40" y="140.00" width="7.30" height="3.20" fill="#fff" stroke="#999" stroke-width="0.5"/>
<text x="510.7" y="142.90" font-family="'Liberation Serif', serif" font-size="3.3" fill="#555" textLength="11.3" lengthAdjust="spacing">0. 000000</text>
<rect x="500.10" y="145.30" width="7.90" height="3.80" fill="#fdb23a"/>
<text x="510.7" y="148.50" font-family="'Liberation Serif', serif" font-size="3.3" fill="#555" textLength="29.6" lengthAdjust="spacing">0. 000001  -  100. 000000</text>
<rect x="500.10" y="150.90" width="7.90" height="3.80" fill="#f86a1e"/>
<text x="510.7" y="154.10" font-family="'Liberation Serif', serif" font-size="3.3" fill="#555" textLength="32.4" lengthAdjust="spacing">100. 000001  -  200. 000000</text>
<rect x="500.10" y="156.50" width="7.90" height="3.80" fill="#f01e1e"/>
<text x="510.7" y="159.70" font-family="'Liberation Serif', serif" font-size="3.3" fill="#555" textLength="32.4" lengthAdjust="spacing">200. 000001  -  300. 000000</text>
<text x="107.1" y="306.1" font-family="'Liberation Serif', serif" font-size="9.45" font-weight="bold" fill="#333" textLength="27.4" lengthAdjust="spacingAndGlyphs">Legend</text>
<text x="107.1" y="319.4" font-family="'Liberation Mono', monospace" font-size="8.2" font-weight="bold" fill="#333" textLength="63.4" lengthAdjust="spacingAndGlyphs">FISHNET_entropy</text>
<text x="107.1" y="330.2" font-family="'Liberation Mono', monospace" font-size="6.4" font-weight="bold" fill="#444" textLength="30.5" lengthAdjust="spacingAndGlyphs">entropy-</text>
<rect x="107.5" y="334.9" width="17.800000000000008" height="8.300000000000022" fill="#ffffff" stroke="#666" stroke-width="0.8"/>
<text x="128.4" y="341.2" font-family="'Liberation Serif', serif" font-size="6.6" fill="#333" textLength="25.2" lengthAdjust="spacing">0. 000000</text>
<rect x="107.5" y="347.09999999999997" width="17.800000000000008" height="8.100000000000033" fill="#b6e6f9" stroke="#666" stroke-width="0.8"/>
<text x="128.4" y="353.2" font-family="'Liberation Serif', serif" font-size="6.6" fill="#333" textLength="70.5" lengthAdjust="spacing">-99. 999999  -  -0. 000001</text>
<rect x="107.5" y="359.4" width="17.800000000000008" height="7.899999999999989" fill="#3fa9f5" stroke="#666" stroke-width="0.8"/>
<text x="128.4" y="365.5" font-family="'Liberation Serif', serif" font-size="6.6" fill="#333" textLength="73.9" lengthAdjust="spacing">-299. 999999  -  -100. 0000</text>
<rect x="107.5" y="371.4" width="17.800000000000008" height="8.2" fill="#000080" stroke="#666" stroke-width="0.8"/>
<text x="128.4" y="377.6" font-family="'Liberation Serif', serif" font-size="6.6" fill="#333" textLength="73.9" lengthAdjust="spacing">-606. 456779  -  -300. 0000</text>
<text x="287.0" y="306.2" font-family="'Liberation Serif', serif" font-size="9.00" font-weight="bold" fill="#333" textLength="26.1" lengthAdjust="spacingAndGlyphs">Legend</text>
<text x="287.0" y="319.7" font-family="'Liberation Mono', monospace" font-size="8.2" font-weight="bold" fill="#333" textLength="61.2" lengthAdjust="spacingAndGlyphs">FISHNET_entropy</text>
<text x="287.0" y="330.5" font-family="'Liberation Mono', monospace" font-size="6.4" font-weight="bold" fill="#444" textLength="30.3" lengthAdjust="spacingAndGlyphs">entropy+</text>
<rect x="287.4" y="335.0" width="16.800000000000022" height="8.2" fill="#ffffff" stroke="#666" stroke-width="0.8"/>
<text x="308.0" y="341.2" font-family="'Liberation Serif', serif" font-size="6.4" fill="#333" textLength="25.1" lengthAdjust="spacing">0. 000000</text>
<rect x="287.4" y="347.2" width="16.800000000000022" height="8.2" fill="#ffc0c0" stroke="#666" stroke-width="0.8"/>
<text x="308.0" y="353.4" font-family="'Liberation Serif', serif" font-size="6.4" fill="#333" textLength="66.3" lengthAdjust="spacing">0. 000001  -  100. 000000</text>
<rect x="287.4" y="359.5" width="16.800000000000022" height="7.799999999999966" fill="#ff7f7f" stroke="#666" stroke-width="0.8"/>
<text x="308.0" y="365.5" font-family="'Liberation Serif', serif" font-size="6.4" fill="#333" textLength="66.7" lengthAdjust="spacing">100. 000001  -  300. 0000</text>
<rect x="287.4" y="371.4" width="16.800000000000022" height="8.2" fill="#ff0000" stroke="#666" stroke-width="0.8"/>
<text x="308.0" y="377.6" font-family="'Liberation Serif', serif" font-size="6.4" fill="#333" textLength="66.7" lengthAdjust="spacing">300. 000001  -  600. 0000</text>
<text x="460.8" y="304.8" font-family="'Liberation Serif', serif" font-size="8.31" font-weight="bold" fill="#333" textLength="24.1" lengthAdjust="spacingAndGlyphs">Legend</text>
<text x="460.8" y="316.6" font-family="'Liberation Mono', monospace" font-size="7.2" font-weight="bold" fill="#333" textLength="25.2" lengthAdjust="spacingAndGlyphs">FISHNET</text>
<text x="460.8" y="326.2" font-family="'Liberation Mono', monospace" font-size="6.4" font-weight="bold" fill="#444" textLength="33.1" lengthAdjust="spacingAndGlyphs">entropyall</text>
<rect x="461.2" y="330.5" width="15.399999999999988" height="7.099999999999977" fill="#ffffff" stroke="#666" stroke-width="0.8"/>
<text x="479.3" y="336.2" font-family="'Liberation Serif', serif" font-size="5.9" fill="#333" textLength="23" lengthAdjust="spacing">0. 000000</text>
<rect x="461.2" y="341.09999999999997" width="15.399999999999988" height="7.5000000000000115" fill="#5acd22" stroke="#666" stroke-width="0.8"/>
<text x="479.3" y="347.0" font-family="'Liberation Serif', serif" font-size="5.9" fill="#333" textLength="59.7" lengthAdjust="spacing">0. 000001  -  200. 000000</text>
<rect x="461.2" y="351.9" width="15.399999999999988" height="7.5000000000000115" fill="#ffff00" stroke="#666" stroke-width="0.8"/>
<text x="479.3" y="357.8" font-family="'Liberation Serif', serif" font-size="5.9" fill="#333" textLength="65.7" lengthAdjust="spacing">200. 000001  -  400. 000000</text>
<rect x="461.2" y="362.9" width="15.399999999999988" height="7.099999999999977" fill="#ff8c00" stroke="#666" stroke-width="0.8"/>
<text x="479.3" y="368.6" font-family="'Liberation Serif', serif" font-size="5.9" fill="#333" textLength="65.7" lengthAdjust="spacing">400. 000001  -  600. 000000</text>
<rect x="461.2" y="373.29999999999995" width="15.399999999999988" height="7.5000000000000115" fill="#ff0000" stroke="#666" stroke-width="0.8"/>
<text x="479.3" y="379.1" font-family="'Liberation Serif', serif" font-size="5.9" fill="#333" textLength="65.7" lengthAdjust="spacing">600. 000001  -  1200. 00000</text>
<text x="67.5" y="181.3" font-family="'Liberation Serif', serif" font-size="17.2" fill="#000" stroke="#000" stroke-width="0.25" text-anchor="middle" textLength="76.3" lengthAdjust="spacing" >1872-1912</text>
<text x="66.2" y="195.3" font-family="'Liberation Serif', serif" font-size="13" fill="#000" stroke="#000" stroke-width="0.25" text-anchor="middle" textLength="21.8" lengthAdjust="spacing" >(b1)</text>
<text x="198.7" y="180.2" font-family="'Liberation Serif', serif" font-size="17.2" fill="#000" stroke="#000" stroke-width="0.25" text-anchor="middle" textLength="73.9" lengthAdjust="spacing" >1912-1935</text>
<text x="199.45" y="194.1" font-family="'Liberation Serif', serif" font-size="13" fill="#000" stroke="#000" stroke-width="0.25" text-anchor="middle" textLength="22.0" lengthAdjust="spacing" >(b2)</text>
<text x="329.35" y="180.2" font-family="'Liberation Serif', serif" font-size="17.2" fill="#000" stroke="#000" stroke-width="0.25" text-anchor="middle" textLength="73.2" lengthAdjust="spacing" >1935-1986</text>
<text x="329.45" y="194.1" font-family="'Liberation Serif', serif" font-size="13" fill="#000" stroke="#000" stroke-width="0.25" text-anchor="middle" textLength="22.0" lengthAdjust="spacing" >(b3)</text>
<text x="461.55" y="179.5" font-family="'Liberation Serif', serif" font-size="17.2" fill="#000" stroke="#000" stroke-width="0.25" text-anchor="middle" textLength="74.4" lengthAdjust="spacing" >1986-2023</text>
<text x="466.8" y="192.6" font-family="'Liberation Serif', serif" font-size="13" fill="#000" stroke="#000" stroke-width="0.25" text-anchor="middle" textLength="23.1" lengthAdjust="spacing" >(b4)</text>
<text x="109.35" y="401.3" font-family="'Liberation Serif', serif" font-size="13.2" fill="#000" stroke="#000" stroke-width="0.25" text-anchor="middle" textLength="148.8" lengthAdjust="spacing" >Cumulative Decrease Value</text>
<text x="101.65" y="417.1" font-family="'Liberation Serif', serif" font-size="13.2" fill="#000" stroke="#000" stroke-width="0.25" text-anchor="middle" textLength="22.3" lengthAdjust="spacing" >(c1)</text>
<text x="283.8" y="401.0" font-family="'Liberation Serif', serif" font-size="13.2" fill="#000" stroke="#000" stroke-width="0.25" text-anchor="middle" textLength="145.3" lengthAdjust="spacing" >Cumulative Increase Value</text>
<text x="272.6" y="417.1" font-family="'Liberation Serif', serif" font-size="13.2" fill="#000" stroke="#000" stroke-width="0.25" text-anchor="middle" textLength="22.3" lengthAdjust="spacing" >(c2)</text>
<text x="455.25" y="401.0" font-family="'Liberation Serif', serif" font-size="13.2" fill="#000" stroke="#000" stroke-width="0.25" text-anchor="middle" textLength="149.4" lengthAdjust="spacing" >Cumulative Absolute Value</text>
<text x="442.6" y="417.1" font-family="'Liberation Serif', serif" font-size="13.2" fill="#000" stroke="#000" stroke-width="0.25" text-anchor="middle" textLength="22.3" lengthAdjust="spacing" >(c3)</text>
<text transform="translate(14.9,91.2) rotate(-90)" font-family="'Liberation Serif', serif" font-size="17.5" fill="#000" stroke="#000" stroke-width="0.25" text-anchor="middle" textLength="127.3" lengthAdjust="spacing">Density Variation</text>
<text transform="translate(17.8,306.6) rotate(-90)" font-family="'Liberation Serif', serif" font-size="17.5" fill="#000" stroke="#000" stroke-width="0.25" text-anchor="middle" textLength="128.5" lengthAdjust="spacing">Cumulative Value</text>
</svg>
</body></html>
